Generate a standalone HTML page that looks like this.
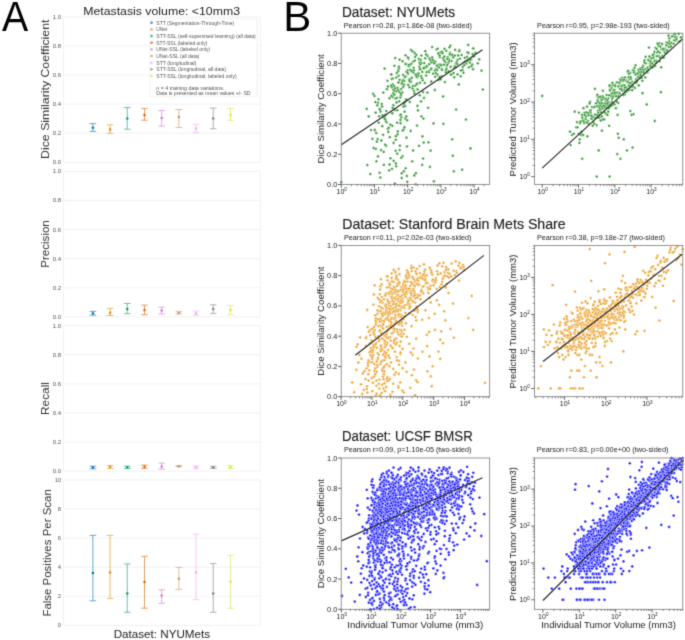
<!DOCTYPE html><html><head><meta charset="utf-8"><style>html,body{margin:0;padding:0;background:#fff}svg{display:block}</style></head><body><svg style="will-change:transform" width="685" height="640" viewBox="0 0 685 640" font-family="'Liberation Sans', sans-serif"><filter id="bl" filterUnits="userSpaceOnUse" x="0" y="0" width="685" height="640" color-interpolation-filters="sRGB"><feConvolveMatrix order="3" kernelMatrix="0.0192 0.1001 0.0192 0.1001 0.5228 0.1001 0.0192 0.1001 0.0192" edgeMode="duplicate"/></filter><g filter="url(#bl)"><rect width="685" height="640" fill="#fff"/><line x1="63.40" y1="162.25" x2="260.30" y2="162.25" stroke="#ebebeb" stroke-width="0.7"/><line x1="63.40" y1="133.15" x2="260.30" y2="133.15" stroke="#ebebeb" stroke-width="0.7"/><line x1="63.40" y1="104.05" x2="260.30" y2="104.05" stroke="#ebebeb" stroke-width="0.7"/><line x1="63.40" y1="74.95" x2="260.30" y2="74.95" stroke="#ebebeb" stroke-width="0.7"/><line x1="63.40" y1="45.85" x2="260.30" y2="45.85" stroke="#ebebeb" stroke-width="0.7"/><line x1="63.40" y1="16.75" x2="260.30" y2="16.75" stroke="#ebebeb" stroke-width="0.7"/><line x1="63.40" y1="16.75" x2="63.40" y2="162.25" stroke="#ebebeb" stroke-width="0.7"/><line x1="260.30" y1="16.75" x2="260.30" y2="162.25" stroke="#ebebeb" stroke-width="0.7"/><text x="61.1" y="164.2" font-size="5.6" fill="#555" text-anchor="end" textLength="8.4" lengthAdjust="spacingAndGlyphs">0.0</text><text x="61.1" y="135.2" font-size="5.6" fill="#555" text-anchor="end" textLength="8.4" lengthAdjust="spacingAndGlyphs">0.2</text><text x="61.1" y="106.0" font-size="5.6" fill="#555" text-anchor="end" textLength="8.4" lengthAdjust="spacingAndGlyphs">0.4</text><text x="61.1" y="77.0" font-size="5.6" fill="#555" text-anchor="end" textLength="8.4" lengthAdjust="spacingAndGlyphs">0.6</text><text x="61.1" y="47.8" font-size="5.6" fill="#555" text-anchor="end" textLength="8.4" lengthAdjust="spacingAndGlyphs">0.8</text><text x="61.1" y="18.8" font-size="5.6" fill="#555" text-anchor="end" textLength="8.4" lengthAdjust="spacingAndGlyphs">1.0</text><line x1="63.40" y1="316.80" x2="260.30" y2="316.80" stroke="#ebebeb" stroke-width="0.7"/><line x1="63.40" y1="287.70" x2="260.30" y2="287.70" stroke="#ebebeb" stroke-width="0.7"/><line x1="63.40" y1="258.60" x2="260.30" y2="258.60" stroke="#ebebeb" stroke-width="0.7"/><line x1="63.40" y1="229.50" x2="260.30" y2="229.50" stroke="#ebebeb" stroke-width="0.7"/><line x1="63.40" y1="200.40" x2="260.30" y2="200.40" stroke="#ebebeb" stroke-width="0.7"/><line x1="63.40" y1="171.30" x2="260.30" y2="171.30" stroke="#ebebeb" stroke-width="0.7"/><line x1="63.40" y1="171.30" x2="63.40" y2="316.80" stroke="#ebebeb" stroke-width="0.7"/><line x1="260.30" y1="171.30" x2="260.30" y2="316.80" stroke="#ebebeb" stroke-width="0.7"/><text x="61.1" y="318.8" font-size="5.6" fill="#555" text-anchor="end" textLength="8.4" lengthAdjust="spacingAndGlyphs">0.0</text><text x="61.1" y="289.7" font-size="5.6" fill="#555" text-anchor="end" textLength="8.4" lengthAdjust="spacingAndGlyphs">0.2</text><text x="61.1" y="260.6" font-size="5.6" fill="#555" text-anchor="end" textLength="8.4" lengthAdjust="spacingAndGlyphs">0.4</text><text x="61.1" y="231.5" font-size="5.6" fill="#555" text-anchor="end" textLength="8.4" lengthAdjust="spacingAndGlyphs">0.6</text><text x="61.1" y="202.4" font-size="5.6" fill="#555" text-anchor="end" textLength="8.4" lengthAdjust="spacingAndGlyphs">0.8</text><text x="61.1" y="173.3" font-size="5.6" fill="#555" text-anchor="end" textLength="8.4" lengthAdjust="spacingAndGlyphs">1.0</text><line x1="63.40" y1="471.10" x2="260.30" y2="471.10" stroke="#ebebeb" stroke-width="0.7"/><line x1="63.40" y1="442.00" x2="260.30" y2="442.00" stroke="#ebebeb" stroke-width="0.7"/><line x1="63.40" y1="412.90" x2="260.30" y2="412.90" stroke="#ebebeb" stroke-width="0.7"/><line x1="63.40" y1="383.80" x2="260.30" y2="383.80" stroke="#ebebeb" stroke-width="0.7"/><line x1="63.40" y1="354.70" x2="260.30" y2="354.70" stroke="#ebebeb" stroke-width="0.7"/><line x1="63.40" y1="325.60" x2="260.30" y2="325.60" stroke="#ebebeb" stroke-width="0.7"/><line x1="63.40" y1="325.60" x2="63.40" y2="471.10" stroke="#ebebeb" stroke-width="0.7"/><line x1="260.30" y1="325.60" x2="260.30" y2="471.10" stroke="#ebebeb" stroke-width="0.7"/><text x="61.1" y="473.1" font-size="5.6" fill="#555" text-anchor="end" textLength="8.4" lengthAdjust="spacingAndGlyphs">0.0</text><text x="61.1" y="444.0" font-size="5.6" fill="#555" text-anchor="end" textLength="8.4" lengthAdjust="spacingAndGlyphs">0.2</text><text x="61.1" y="414.9" font-size="5.6" fill="#555" text-anchor="end" textLength="8.4" lengthAdjust="spacingAndGlyphs">0.4</text><text x="61.1" y="385.8" font-size="5.6" fill="#555" text-anchor="end" textLength="8.4" lengthAdjust="spacingAndGlyphs">0.6</text><text x="61.1" y="356.7" font-size="5.6" fill="#555" text-anchor="end" textLength="8.4" lengthAdjust="spacingAndGlyphs">0.8</text><text x="61.1" y="327.6" font-size="5.6" fill="#555" text-anchor="end" textLength="8.4" lengthAdjust="spacingAndGlyphs">1.0</text><line x1="63.40" y1="625.40" x2="260.30" y2="625.40" stroke="#ebebeb" stroke-width="0.7"/><line x1="63.40" y1="596.30" x2="260.30" y2="596.30" stroke="#ebebeb" stroke-width="0.7"/><line x1="63.40" y1="567.20" x2="260.30" y2="567.20" stroke="#ebebeb" stroke-width="0.7"/><line x1="63.40" y1="538.10" x2="260.30" y2="538.10" stroke="#ebebeb" stroke-width="0.7"/><line x1="63.40" y1="509.00" x2="260.30" y2="509.00" stroke="#ebebeb" stroke-width="0.7"/><line x1="63.40" y1="479.90" x2="260.30" y2="479.90" stroke="#ebebeb" stroke-width="0.7"/><line x1="63.40" y1="479.90" x2="63.40" y2="625.40" stroke="#ebebeb" stroke-width="0.7"/><line x1="260.30" y1="479.90" x2="260.30" y2="625.40" stroke="#ebebeb" stroke-width="0.7"/><text x="61.1" y="627.4" font-size="5.6" fill="#555" text-anchor="end" textLength="3.3" lengthAdjust="spacingAndGlyphs">0</text><text x="61.1" y="598.3" font-size="5.6" fill="#555" text-anchor="end" textLength="3.3" lengthAdjust="spacingAndGlyphs">2</text><text x="61.1" y="569.2" font-size="5.6" fill="#555" text-anchor="end" textLength="3.3" lengthAdjust="spacingAndGlyphs">4</text><text x="61.1" y="540.1" font-size="5.6" fill="#555" text-anchor="end" textLength="3.3" lengthAdjust="spacingAndGlyphs">6</text><text x="61.1" y="511.0" font-size="5.6" fill="#555" text-anchor="end" textLength="3.3" lengthAdjust="spacingAndGlyphs">8</text><text x="61.1" y="481.9" font-size="5.6" fill="#555" text-anchor="end" textLength="6.2" lengthAdjust="spacingAndGlyphs">10</text><g stroke="#0173b2" stroke-width="0.9" opacity="0.68" fill="#0173b2"><line x1="92.90" y1="123.6" x2="92.90" y2="131.4"/><line x1="89.60" y1="123.6" x2="96.20" y2="123.6"/><line x1="89.60" y1="131.4" x2="96.20" y2="131.4"/></g><circle cx="92.90" cy="127.8" r="1.25" fill="#0173b2"/><g stroke="#de8f05" stroke-width="0.9" opacity="0.68" fill="#de8f05"><line x1="110.09" y1="124.8" x2="110.09" y2="133.4"/><line x1="106.79" y1="124.8" x2="113.39" y2="124.8"/><line x1="106.79" y1="133.4" x2="113.39" y2="133.4"/></g><circle cx="110.09" cy="129.4" r="1.25" fill="#de8f05"/><g stroke="#029e73" stroke-width="0.9" opacity="0.68" fill="#029e73"><line x1="127.28" y1="107.5" x2="127.28" y2="129.2"/><line x1="123.98" y1="107.5" x2="130.58" y2="107.5"/><line x1="123.98" y1="129.2" x2="130.58" y2="129.2"/></g><circle cx="127.28" cy="118.6" r="1.25" fill="#029e73"/><g stroke="#d55e00" stroke-width="0.9" opacity="0.68" fill="#d55e00"><line x1="144.47" y1="108.4" x2="144.47" y2="120.2"/><line x1="141.17" y1="108.4" x2="147.77" y2="108.4"/><line x1="141.17" y1="120.2" x2="147.77" y2="120.2"/></g><circle cx="144.47" cy="115" r="1.25" fill="#d55e00"/><g stroke="#cc78cc" stroke-width="0.9" opacity="0.68" fill="#cc78cc"><line x1="161.66" y1="110.5" x2="161.66" y2="126.1"/><line x1="158.36" y1="110.5" x2="164.96" y2="110.5"/><line x1="158.36" y1="126.1" x2="164.96" y2="126.1"/></g><circle cx="161.66" cy="118" r="1.25" fill="#cc78cc"/><g stroke="#ca9161" stroke-width="0.9" opacity="0.68" fill="#ca9161"><line x1="178.85" y1="109.5" x2="178.85" y2="127.5"/><line x1="175.55" y1="109.5" x2="182.15" y2="109.5"/><line x1="175.55" y1="127.5" x2="182.15" y2="127.5"/></g><circle cx="178.85" cy="117.1" r="1.25" fill="#ca9161"/><g stroke="#f5a6ee" stroke-width="0.9" opacity="0.68" fill="#f5a6ee"><line x1="196.04" y1="124.3" x2="196.04" y2="132.4"/><line x1="192.74" y1="124.3" x2="199.34" y2="124.3"/><line x1="192.74" y1="132.4" x2="199.34" y2="132.4"/></g><circle cx="196.04" cy="128.5" r="1.25" fill="#f5a6ee"/><g stroke="#808080" stroke-width="0.9" opacity="0.68" fill="#808080"><line x1="213.23" y1="108.1" x2="213.23" y2="128.8"/><line x1="209.93" y1="108.1" x2="216.53" y2="108.1"/><line x1="209.93" y1="128.8" x2="216.53" y2="128.8"/></g><circle cx="213.23" cy="118.6" r="1.25" fill="#808080"/><g stroke="#dae42a" stroke-width="0.9" opacity="0.68" fill="#dae42a"><line x1="230.42" y1="108.4" x2="230.42" y2="120.4"/><line x1="227.12" y1="108.4" x2="233.72" y2="108.4"/><line x1="227.12" y1="120.4" x2="233.72" y2="120.4"/></g><circle cx="230.42" cy="115.1" r="1.25" fill="#dae42a"/><g stroke="#0173b2" stroke-width="0.9" opacity="0.68" fill="#0173b2"><line x1="92.90" y1="311.4" x2="92.90" y2="315.2"/><line x1="89.60" y1="311.4" x2="96.20" y2="311.4"/><line x1="89.60" y1="315.2" x2="96.20" y2="315.2"/></g><circle cx="92.90" cy="313.4" r="1.25" fill="#0173b2"/><g stroke="#de8f05" stroke-width="0.9" opacity="0.68" fill="#de8f05"><line x1="110.09" y1="308.4" x2="110.09" y2="315.4"/><line x1="106.79" y1="308.4" x2="113.39" y2="308.4"/><line x1="106.79" y1="315.4" x2="113.39" y2="315.4"/></g><circle cx="110.09" cy="312.7" r="1.25" fill="#de8f05"/><g stroke="#029e73" stroke-width="0.9" opacity="0.68" fill="#029e73"><line x1="127.28" y1="303.5" x2="127.28" y2="313.7"/><line x1="123.98" y1="303.5" x2="130.58" y2="303.5"/><line x1="123.98" y1="313.7" x2="130.58" y2="313.7"/></g><circle cx="127.28" cy="309" r="1.25" fill="#029e73"/><g stroke="#d55e00" stroke-width="0.9" opacity="0.68" fill="#d55e00"><line x1="144.47" y1="305.1" x2="144.47" y2="314.7"/><line x1="141.17" y1="305.1" x2="147.77" y2="305.1"/><line x1="141.17" y1="314.7" x2="147.77" y2="314.7"/></g><circle cx="144.47" cy="310" r="1.25" fill="#d55e00"/><g stroke="#cc78cc" stroke-width="0.9" opacity="0.68" fill="#cc78cc"><line x1="161.66" y1="307.1" x2="161.66" y2="314"/><line x1="158.36" y1="307.1" x2="164.96" y2="307.1"/><line x1="158.36" y1="314" x2="164.96" y2="314"/></g><circle cx="161.66" cy="310.4" r="1.25" fill="#cc78cc"/><g stroke="#ca9161" stroke-width="0.9" opacity="0.68" fill="#ca9161"><line x1="178.85" y1="311.7" x2="178.85" y2="314"/><line x1="175.55" y1="311.7" x2="182.15" y2="311.7"/><line x1="175.55" y1="314" x2="182.15" y2="314"/></g><circle cx="178.85" cy="312.7" r="1.25" fill="#ca9161"/><g stroke="#f5a6ee" stroke-width="0.9" opacity="0.68" fill="#f5a6ee"><line x1="196.04" y1="311" x2="196.04" y2="315.2"/><line x1="192.74" y1="311" x2="199.34" y2="311"/><line x1="192.74" y1="315.2" x2="199.34" y2="315.2"/></g><circle cx="196.04" cy="313.4" r="1.25" fill="#f5a6ee"/><g stroke="#808080" stroke-width="0.9" opacity="0.68" fill="#808080"><line x1="213.23" y1="304.8" x2="213.23" y2="313.4"/><line x1="209.93" y1="304.8" x2="216.53" y2="304.8"/><line x1="209.93" y1="313.4" x2="216.53" y2="313.4"/></g><circle cx="213.23" cy="309" r="1.25" fill="#808080"/><g stroke="#dae42a" stroke-width="0.9" opacity="0.68" fill="#dae42a"><line x1="230.42" y1="305.5" x2="230.42" y2="314.7"/><line x1="227.12" y1="305.5" x2="233.72" y2="305.5"/><line x1="227.12" y1="314.7" x2="233.72" y2="314.7"/></g><circle cx="230.42" cy="310" r="1.25" fill="#dae42a"/><g stroke="#0173b2" stroke-width="0.9" opacity="0.68" fill="#0173b2"><line x1="92.90" y1="466.2" x2="92.90" y2="468.8"/><line x1="89.60" y1="466.2" x2="96.20" y2="466.2"/><line x1="89.60" y1="468.8" x2="96.20" y2="468.8"/></g><circle cx="92.90" cy="467.5" r="1.25" fill="#0173b2"/><g stroke="#de8f05" stroke-width="0.9" opacity="0.68" fill="#de8f05"><line x1="110.09" y1="465.5" x2="110.09" y2="468.4"/><line x1="106.79" y1="465.5" x2="113.39" y2="465.5"/><line x1="106.79" y1="468.4" x2="113.39" y2="468.4"/></g><circle cx="110.09" cy="467" r="1.25" fill="#de8f05"/><g stroke="#029e73" stroke-width="0.9" opacity="0.68" fill="#029e73"><line x1="127.28" y1="466.2" x2="127.28" y2="468.4"/><line x1="123.98" y1="466.2" x2="130.58" y2="466.2"/><line x1="123.98" y1="468.4" x2="130.58" y2="468.4"/></g><circle cx="127.28" cy="467.3" r="1.25" fill="#029e73"/><g stroke="#d55e00" stroke-width="0.9" opacity="0.68" fill="#d55e00"><line x1="144.47" y1="465.1" x2="144.47" y2="468.4"/><line x1="141.17" y1="465.1" x2="147.77" y2="465.1"/><line x1="141.17" y1="468.4" x2="147.77" y2="468.4"/></g><circle cx="144.47" cy="466.8" r="1.25" fill="#d55e00"/><g stroke="#cc78cc" stroke-width="0.9" opacity="0.68" fill="#cc78cc"><line x1="161.66" y1="463.1" x2="161.66" y2="469.1"/><line x1="158.36" y1="463.1" x2="164.96" y2="463.1"/><line x1="158.36" y1="469.1" x2="164.96" y2="469.1"/></g><circle cx="161.66" cy="466.5" r="1.25" fill="#cc78cc"/><g stroke="#ca9161" stroke-width="0.9" opacity="0.68" fill="#ca9161"><line x1="178.85" y1="465.5" x2="178.85" y2="466.8"/><line x1="175.55" y1="465.5" x2="182.15" y2="465.5"/><line x1="175.55" y1="466.8" x2="182.15" y2="466.8"/></g><circle cx="178.85" cy="466.2" r="1.25" fill="#ca9161"/><g stroke="#f5a6ee" stroke-width="0.9" opacity="0.68" fill="#f5a6ee"><line x1="196.04" y1="466" x2="196.04" y2="468.7"/><line x1="192.74" y1="466" x2="199.34" y2="466"/><line x1="192.74" y1="468.7" x2="199.34" y2="468.7"/></g><circle cx="196.04" cy="467.3" r="1.25" fill="#f5a6ee"/><g stroke="#808080" stroke-width="0.9" opacity="0.68" fill="#808080"><line x1="213.23" y1="466.3" x2="213.23" y2="468.4"/><line x1="209.93" y1="466.3" x2="216.53" y2="466.3"/><line x1="209.93" y1="468.4" x2="216.53" y2="468.4"/></g><circle cx="213.23" cy="467.3" r="1.25" fill="#808080"/><g stroke="#dae42a" stroke-width="0.9" opacity="0.68" fill="#dae42a"><line x1="230.42" y1="465.5" x2="230.42" y2="468.7"/><line x1="227.12" y1="465.5" x2="233.72" y2="465.5"/><line x1="227.12" y1="468.7" x2="233.72" y2="468.7"/></g><circle cx="230.42" cy="467.1" r="1.25" fill="#dae42a"/><g stroke="#0173b2" stroke-width="0.9" opacity="0.68" fill="#0173b2"><line x1="92.90" y1="535.4" x2="92.90" y2="600.8"/><line x1="89.60" y1="535.4" x2="96.20" y2="535.4"/><line x1="89.60" y1="600.8" x2="96.20" y2="600.8"/></g><circle cx="92.90" cy="573" r="1.25" fill="#0173b2"/><g stroke="#de8f05" stroke-width="0.9" opacity="0.68" fill="#de8f05"><line x1="110.09" y1="535.4" x2="110.09" y2="598.4"/><line x1="106.79" y1="535.4" x2="113.39" y2="535.4"/><line x1="106.79" y1="598.4" x2="113.39" y2="598.4"/></g><circle cx="110.09" cy="572.6" r="1.25" fill="#de8f05"/><g stroke="#029e73" stroke-width="0.9" opacity="0.68" fill="#029e73"><line x1="127.28" y1="564" x2="127.28" y2="612.3"/><line x1="123.98" y1="564" x2="130.58" y2="564"/><line x1="123.98" y1="612.3" x2="130.58" y2="612.3"/></g><circle cx="127.28" cy="593.5" r="1.25" fill="#029e73"/><g stroke="#d55e00" stroke-width="0.9" opacity="0.68" fill="#d55e00"><line x1="144.47" y1="556.3" x2="144.47" y2="608.2"/><line x1="141.17" y1="556.3" x2="147.77" y2="556.3"/><line x1="141.17" y1="608.2" x2="147.77" y2="608.2"/></g><circle cx="144.47" cy="582" r="1.25" fill="#d55e00"/><g stroke="#cc78cc" stroke-width="0.9" opacity="0.68" fill="#cc78cc"><line x1="161.66" y1="589.8" x2="161.66" y2="603.3"/><line x1="158.36" y1="589.8" x2="164.96" y2="589.8"/><line x1="158.36" y1="603.3" x2="164.96" y2="603.3"/></g><circle cx="161.66" cy="595.5" r="1.25" fill="#cc78cc"/><g stroke="#ca9161" stroke-width="0.9" opacity="0.68" fill="#ca9161"><line x1="178.85" y1="567.3" x2="178.85" y2="589.4"/><line x1="175.55" y1="567.3" x2="182.15" y2="567.3"/><line x1="175.55" y1="589.4" x2="182.15" y2="589.4"/></g><circle cx="178.85" cy="578.7" r="1.25" fill="#ca9161"/><g stroke="#f5a6ee" stroke-width="0.9" opacity="0.68" fill="#f5a6ee"><line x1="196.04" y1="534.2" x2="196.04" y2="599.6"/><line x1="192.74" y1="534.2" x2="199.34" y2="534.2"/><line x1="192.74" y1="599.6" x2="199.34" y2="599.6"/></g><circle cx="196.04" cy="572.6" r="1.25" fill="#f5a6ee"/><g stroke="#808080" stroke-width="0.9" opacity="0.68" fill="#808080"><line x1="213.23" y1="563.6" x2="213.23" y2="612.3"/><line x1="209.93" y1="563.6" x2="216.53" y2="563.6"/><line x1="209.93" y1="612.3" x2="216.53" y2="612.3"/></g><circle cx="213.23" cy="593.5" r="1.25" fill="#808080"/><g stroke="#dae42a" stroke-width="0.9" opacity="0.68" fill="#dae42a"><line x1="230.42" y1="555.4" x2="230.42" y2="608.2"/><line x1="227.12" y1="555.4" x2="233.72" y2="555.4"/><line x1="227.12" y1="608.2" x2="233.72" y2="608.2"/></g><circle cx="230.42" cy="581.6" r="1.25" fill="#dae42a"/><rect x="149.8" y="18.8" width="107.4" height="78" rx="1.5" fill="#fff" fill-opacity="0.85" stroke="#e6e6e6" stroke-width="0.6"/><circle cx="151.6" cy="22.75" r="1.2" fill="#0173b2" opacity="0.8"/><text x="156.3" y="24.6" font-size="5.2" fill="#555" textLength="77.9" lengthAdjust="spacingAndGlyphs">STT (Segmentation-Through-Time)</text><circle cx="151.6" cy="29.41" r="1.2" fill="#de8f05" opacity="0.8"/><text x="156.3" y="31.3" font-size="5.2" fill="#555" textLength="11.1" lengthAdjust="spacingAndGlyphs">UNet</text><circle cx="151.6" cy="36.07" r="1.2" fill="#029e73" opacity="0.8"/><text x="156.3" y="38.0" font-size="5.2" fill="#555" textLength="99.4" lengthAdjust="spacingAndGlyphs">STT-SSL (self-supervised learning) (all data)</text><circle cx="151.6" cy="42.73" r="1.2" fill="#d55e00" opacity="0.8"/><text x="156.3" y="44.6" font-size="5.2" fill="#555" textLength="51.0" lengthAdjust="spacingAndGlyphs">STT-SSL (labeled only)</text><circle cx="151.6" cy="49.39" r="1.2" fill="#cc78cc" opacity="0.8"/><text x="156.3" y="51.3" font-size="5.2" fill="#555" textLength="53.8" lengthAdjust="spacingAndGlyphs">UNet-SSL (labeled only)</text><circle cx="151.6" cy="56.05" r="1.2" fill="#ca9161" opacity="0.8"/><text x="156.3" y="57.9" font-size="5.2" fill="#555" textLength="43.2" lengthAdjust="spacingAndGlyphs">UNet-SSL (all data)</text><circle cx="151.6" cy="62.71" r="1.2" fill="#f5a6ee" opacity="0.8"/><text x="156.3" y="64.6" font-size="5.2" fill="#555" textLength="40.1" lengthAdjust="spacingAndGlyphs">STT (longitudinal)</text><circle cx="151.6" cy="69.37" r="1.2" fill="#808080" opacity="0.8"/><text x="156.3" y="71.3" font-size="5.2" fill="#555" textLength="69.8" lengthAdjust="spacingAndGlyphs">STT-SSL (longitudinal, all data)</text><circle cx="151.6" cy="76.03" r="1.2" fill="#dae42a" opacity="0.8"/><text x="156.3" y="77.9" font-size="5.2" fill="#555" textLength="80.4" lengthAdjust="spacingAndGlyphs">STT-SSL (longitudinal, labeled only)</text><text x="156.3" y="89.8" font-size="5.2" fill="#555" textLength="68.1" lengthAdjust="spacingAndGlyphs">n = 4 training data variations.</text><text x="156.3" y="95.2" font-size="5.2" fill="#555" textLength="94.3" lengthAdjust="spacingAndGlyphs">Data is presented as mean values +/- SD</text><text x="1.9" y="30.9" font-size="42" fill="#000" textLength="26.2" lengthAdjust="spacingAndGlyphs">A</text><text x="83.2" y="14.6" font-size="11.2" fill="#222" textLength="156.8" lengthAdjust="spacingAndGlyphs">Metastasis volume: &lt;10mm3</text><text x="113.7" y="637.8" font-size="11" fill="#222" textLength="96.4" lengthAdjust="spacingAndGlyphs">Dataset: NYUMets</text><text x="48.8" y="158.9" font-size="10.8" fill="#333" textLength="139.3" lengthAdjust="spacingAndGlyphs" transform="rotate(-90 48.8 158.9)">Dice Similarity Coefficient</text><text x="48.8" y="267.7" font-size="10.8" fill="#333" textLength="47.5" lengthAdjust="spacingAndGlyphs" transform="rotate(-90 48.8 267.7)">Precision</text><text x="49.0" y="414.9" font-size="10.8" fill="#333" textLength="32.8" lengthAdjust="spacingAndGlyphs" transform="rotate(-90 49.0 414.9)">Recall</text><text x="50.7" y="616.6" font-size="10.8" fill="#333" textLength="127.4" lengthAdjust="spacingAndGlyphs" transform="rotate(-90 50.7 616.6)">False Positives Per Scan</text><text x="283.2" y="30.9" font-size="42" fill="#000">B</text><defs><circle id="d" r="1.38" stroke="#fff" stroke-width="0.45"/></defs><text x="342.0" y="16.5" font-size="14" fill="#222" textLength="113.2" lengthAdjust="spacingAndGlyphs" stroke="#222" stroke-width="0.15">Dataset: NYUMets</text><text x="343.8" y="28.1" font-size="7.4" fill="#222" textLength="128.2" lengthAdjust="spacingAndGlyphs">Pearson r=0.28, p=1.86e-08 (two-sided)</text><text x="537.1" y="28.1" font-size="7.4" fill="#222" textLength="132.6" lengthAdjust="spacingAndGlyphs">Pearson r=0.95, p=2.98e-193 (two-sided)</text><g fill="#2e962e"><use href="#d" x="396.5" y="91.3"/><use href="#d" x="411.7" y="70.7"/><use href="#d" x="431.4" y="68.4"/><use href="#d" x="393.3" y="89.7"/><use href="#d" x="382.6" y="115.3"/><use href="#d" x="403.0" y="80.0"/><use href="#d" x="399.6" y="79.9"/><use href="#d" x="403.7" y="129.2"/><use href="#d" x="380.6" y="111.6"/><use href="#d" x="378.6" y="99.3"/><use href="#d" x="406.3" y="116.4"/><use href="#d" x="454.2" y="68.0"/><use href="#d" x="418.8" y="59.0"/><use href="#d" x="386.7" y="122.4"/><use href="#d" x="472.7" y="54.2"/><use href="#d" x="408.5" y="58.8"/><use href="#d" x="473.3" y="48.5"/><use href="#d" x="464.2" y="62.3"/><use href="#d" x="468.9" y="67.3"/><use href="#d" x="398.7" y="68.3"/><use href="#d" x="408.7" y="66.4"/><use href="#d" x="400.2" y="97.6"/><use href="#d" x="422.7" y="80.2"/><use href="#d" x="423.4" y="118.6"/><use href="#d" x="405.4" y="118.6"/><use href="#d" x="404.3" y="80.9"/><use href="#d" x="435.5" y="62.0"/><use href="#d" x="404.6" y="111.7"/><use href="#d" x="411.0" y="49.9"/><use href="#d" x="467.3" y="52.4"/><use href="#d" x="382.3" y="126.2"/><use href="#d" x="395.2" y="58.1"/><use href="#d" x="410.2" y="69.8"/><use href="#d" x="457.5" y="60.0"/><use href="#d" x="424.2" y="67.3"/><use href="#d" x="469.8" y="62.6"/><use href="#d" x="417.7" y="76.9"/><use href="#d" x="407.2" y="120.3"/><use href="#d" x="392.7" y="84.3"/><use href="#d" x="391.1" y="74.7"/><use href="#d" x="421.2" y="76.2"/><use href="#d" x="387.0" y="89.2"/><use href="#d" x="391.7" y="112.8"/><use href="#d" x="401.4" y="117.2"/><use href="#d" x="447.8" y="57.1"/><use href="#d" x="406.5" y="137.7"/><use href="#d" x="426.1" y="75.6"/><use href="#d" x="446.7" y="65.8"/><use href="#d" x="403.8" y="171.3"/><use href="#d" x="418.0" y="110.4"/><use href="#d" x="444.9" y="82.1"/><use href="#d" x="427.6" y="56.0"/><use href="#d" x="455.1" y="49.9"/><use href="#d" x="394.6" y="94.2"/><use href="#d" x="462.7" y="67.0"/><use href="#d" x="445.7" y="70.3"/><use href="#d" x="377.9" y="102.8"/><use href="#d" x="459.6" y="50.1"/><use href="#d" x="415.4" y="75.0"/><use href="#d" x="414.0" y="90.8"/><use href="#d" x="438.6" y="79.9"/><use href="#d" x="402.6" y="156.1"/><use href="#d" x="392.9" y="78.5"/><use href="#d" x="405.8" y="76.4"/><use href="#d" x="394.2" y="86.2"/><use href="#d" x="410.7" y="131.0"/><use href="#d" x="421.7" y="63.1"/><use href="#d" x="450.4" y="45.7"/><use href="#d" x="397.6" y="134.4"/><use href="#d" x="432.2" y="57.4"/><use href="#d" x="448.6" y="71.3"/><use href="#d" x="451.2" y="55.2"/><use href="#d" x="413.1" y="150.5"/><use href="#d" x="437.4" y="74.7"/><use href="#d" x="426.1" y="54.5"/><use href="#d" x="427.1" y="66.6"/><use href="#d" x="429.3" y="64.2"/><use href="#d" x="392.4" y="113.3"/><use href="#d" x="439.8" y="57.0"/><use href="#d" x="374.8" y="130.0"/><use href="#d" x="453.8" y="171.3"/><use href="#d" x="393.4" y="105.2"/><use href="#d" x="423.1" y="158.6"/><use href="#d" x="404.7" y="102.0"/><use href="#d" x="401.8" y="84.1"/><use href="#d" x="400.4" y="120.0"/><use href="#d" x="429.9" y="166.9"/><use href="#d" x="404.1" y="84.9"/><use href="#d" x="397.1" y="122.7"/><use href="#d" x="398.9" y="68.7"/><use href="#d" x="425.3" y="51.2"/><use href="#d" x="457.5" y="74.4"/><use href="#d" x="393.7" y="160.8"/><use href="#d" x="436.1" y="68.8"/><use href="#d" x="436.6" y="49.6"/><use href="#d" x="443.1" y="96.5"/><use href="#d" x="386.2" y="145.9"/><use href="#d" x="367.3" y="165.1"/><use href="#d" x="392.0" y="168.8"/><use href="#d" x="439.5" y="55.4"/><use href="#d" x="424.3" y="63.1"/><use href="#d" x="429.6" y="58.5"/><use href="#d" x="416.3" y="54.9"/><use href="#d" x="405.2" y="63.9"/><use href="#d" x="441.7" y="69.0"/><use href="#d" x="430.9" y="69.3"/><use href="#d" x="464.8" y="57.8"/><use href="#d" x="440.7" y="79.3"/><use href="#d" x="410.5" y="80.5"/><use href="#d" x="443.9" y="64.7"/><use href="#d" x="399.0" y="66.7"/><use href="#d" x="432.8" y="60.7"/><use href="#d" x="415.1" y="57.0"/><use href="#d" x="395.4" y="98.6"/><use href="#d" x="455.6" y="67.5"/><use href="#d" x="412.5" y="88.4"/><use href="#d" x="380.0" y="108.7"/><use href="#d" x="419.4" y="62.6"/><use href="#d" x="441.3" y="76.4"/><use href="#d" x="392.9" y="97.1"/><use href="#d" x="401.0" y="95.5"/><use href="#d" x="426.7" y="72.2"/><use href="#d" x="446.5" y="68.8"/><use href="#d" x="450.1" y="53.0"/><use href="#d" x="434.8" y="90.0"/><use href="#d" x="418.3" y="73.2"/><use href="#d" x="392.2" y="125.9"/><use href="#d" x="368.7" y="116.5"/><use href="#d" x="428.5" y="142.3"/><use href="#d" x="454.9" y="55.7"/><use href="#d" x="414.3" y="175.5"/><use href="#d" x="400.5" y="123.2"/><use href="#d" x="414.4" y="93.4"/><use href="#d" x="413.3" y="61.6"/><use href="#d" x="372.4" y="138.8"/><use href="#d" x="397.6" y="88.0"/><use href="#d" x="420.6" y="60.0"/><use href="#d" x="448.4" y="62.8"/><use href="#d" x="406.0" y="64.1"/><use href="#d" x="394.3" y="90.5"/><use href="#d" x="418.5" y="73.7"/><use href="#d" x="374.5" y="96.0"/><use href="#d" x="376.2" y="133.0"/><use href="#d" x="443.0" y="58.2"/><use href="#d" x="413.7" y="67.9"/><use href="#d" x="409.7" y="101.9"/><use href="#d" x="471.2" y="59.4"/><use href="#d" x="403.5" y="103.1"/><use href="#d" x="398.1" y="71.2"/><use href="#d" x="396.9" y="98.0"/><use href="#d" x="421.9" y="78.3"/><use href="#d" x="384.4" y="117.5"/><use href="#d" x="406.9" y="176.0"/><use href="#d" x="473.1" y="69.2"/><use href="#d" x="400.1" y="115.3"/><use href="#d" x="407.5" y="70.3"/><use href="#d" x="399.7" y="150.1"/><use href="#d" x="377.7" y="139.1"/><use href="#d" x="404.1" y="104.0"/><use href="#d" x="414.8" y="60.7"/><use href="#d" x="435.9" y="73.2"/><use href="#d" x="408.1" y="73.8"/><use href="#d" x="421.0" y="101.5"/><use href="#d" x="438.1" y="65.0"/><use href="#d" x="383.7" y="151.9"/><use href="#d" x="412.9" y="86.1"/><use href="#d" x="391.3" y="74.3"/><use href="#d" x="430.2" y="60.1"/><use href="#d" x="421.4" y="116.3"/><use href="#d" x="406.4" y="71.8"/><use href="#d" x="433.5" y="123.4"/><use href="#d" x="391.7" y="87.2"/><use href="#d" x="408.2" y="84.9"/><use href="#d" x="385.8" y="121.1"/><use href="#d" x="401.1" y="89.1"/><use href="#d" x="407.3" y="181.9"/><use href="#d" x="402.8" y="130.6"/><use href="#d" x="388.3" y="132.0"/><use href="#d" x="422.5" y="136.4"/><use href="#d" x="407.9" y="57.4"/><use href="#d" x="401.7" y="173.3"/><use href="#d" x="448.1" y="58.7"/><use href="#d" x="452.8" y="155.7"/><use href="#d" x="412.4" y="51.4"/><use href="#d" x="392.5" y="107.8"/><use href="#d" x="378.0" y="156.4"/><use href="#d" x="406.7" y="100.1"/><use href="#d" x="436.9" y="65.7"/><use href="#d" x="466.0" y="119.6"/><use href="#d" x="366.7" y="108.9"/><use href="#d" x="440.3" y="52.3"/><use href="#d" x="420.0" y="82.8"/><use href="#d" x="472.2" y="64.5"/><use href="#d" x="444.3" y="56.7"/><use href="#d" x="375.8" y="148.9"/><use href="#d" x="411.9" y="77.8"/><use href="#d" x="387.7" y="128.9"/><use href="#d" x="423.7" y="142.6"/><use href="#d" x="381.0" y="150.1"/><use href="#d" x="397.2" y="153.7"/><use href="#d" x="395.1" y="88.3"/><use href="#d" x="413.3" y="72.5"/><use href="#d" x="466.2" y="63.7"/><use href="#d" x="417.1" y="83.4"/><use href="#d" x="415.3" y="85.6"/><use href="#d" x="477.8" y="63.3"/><use href="#d" x="440.1" y="64.4"/><use href="#d" x="404.4" y="127.2"/><use href="#d" x="389.5" y="98.2"/><use href="#d" x="438.2" y="53.5"/><use href="#d" x="434.9" y="70.6"/><use href="#d" x="471.6" y="66.2"/><use href="#d" x="443.4" y="123.8"/><use href="#d" x="454.2" y="77.3"/><use href="#d" x="463.5" y="72.8"/><use href="#d" x="404.8" y="77.0"/><use href="#d" x="390.5" y="158.3"/><use href="#d" x="422.3" y="71.9"/><use href="#d" x="435.2" y="76.8"/><use href="#d" x="394.1" y="109.2"/><use href="#d" x="452.2" y="139.4"/><use href="#d" x="468.2" y="45.0"/><use href="#d" x="415.9" y="173.2"/><use href="#d" x="446.3" y="50.8"/><use href="#d" x="467.0" y="56.9"/><use href="#d" x="417.4" y="105.9"/><use href="#d" x="410.9" y="81.9"/><use href="#d" x="391.9" y="79.0"/><use href="#d" x="419.3" y="66.9"/><use href="#d" x="409.0" y="79.7"/><use href="#d" x="410.1" y="79.1"/><use href="#d" x="461.6" y="55.1"/><use href="#d" x="445.4" y="62.1"/><use href="#d" x="402.4" y="81.3"/><use href="#d" x="402.5" y="61.2"/><use href="#d" x="370.3" y="174.1"/><use href="#d" x="399.5" y="59.7"/><use href="#d" x="428.7" y="71.1"/><use href="#d" x="454.8" y="66.5"/><use href="#d" x="456.8" y="61.8"/><use href="#d" x="383.1" y="134.8"/><use href="#d" x="470.1" y="59.8"/><use href="#d" x="385.0" y="119.2"/><use href="#d" x="421.4" y="55.6"/><use href="#d" x="398.4" y="82.3"/><use href="#d" x="395.9" y="136.2"/><use href="#d" x="394.9" y="110.0"/><use href="#d" x="397.3" y="110.3"/><use href="#d" x="449.0" y="59.3"/><use href="#d" x="399.9" y="145.7"/><use href="#d" x="437.1" y="70.0"/><use href="#d" x="456.1" y="109.6"/><use href="#d" x="396.6" y="102.5"/><use href="#d" x="409.4" y="81.0"/><use href="#d" x="401.7" y="178.0"/><use href="#d" x="414.7" y="53.0"/><use href="#d" x="381.7" y="104.0"/><use href="#d" x="402.0" y="83.2"/><use href="#d" x="470.5" y="148.5"/><use href="#d" x="373.1" y="94.0"/><use href="#d" x="379.7" y="109.4"/><use href="#d" x="399.4" y="92.0"/><use href="#d" x="418.1" y="75.5"/><use href="#d" x="425.8" y="67.6"/><use href="#d" x="447.3" y="64.8"/><use href="#d" x="449.8" y="54.2"/><use href="#d" x="409.5" y="87.2"/><use href="#d" x="409.9" y="65.3"/><use href="#d" x="395.8" y="139.8"/><use href="#d" x="383.3" y="92.6"/><use href="#d" x="402.3" y="92.5"/><use href="#d" x="424.8" y="83.1"/><use href="#d" x="423.0" y="92.0"/><use href="#d" x="479.2" y="59.3"/><use href="#d" x="420.3" y="64.2"/><use href="#d" x="433.1" y="73.7"/><use href="#d" x="411.3" y="63.8"/><use href="#d" x="379.1" y="116.3"/><use href="#d" x="468.5" y="53.0"/><use href="#d" x="394.8" y="183.6"/><use href="#d" x="442.0" y="69.9"/><use href="#d" x="416.8" y="84.2"/><use href="#d" x="427.4" y="92.7"/><use href="#d" x="434.3" y="61.4"/><use href="#d" x="371.0" y="130.1"/><use href="#d" x="416.5" y="77.1"/><use href="#d" x="417.0" y="125.6"/><use href="#d" x="396.2" y="166.3"/><use href="#d" x="462.6" y="70.2"/><use href="#d" x="407.0" y="146.5"/><use href="#d" x="377.3" y="105.4"/><use href="#d" x="424.0" y="98.0"/><use href="#d" x="419.0" y="145.9"/><use href="#d" x="458.2" y="55.5"/><use href="#d" x="431.6" y="62.3"/><use href="#d" x="461.0" y="70.5"/><use href="#d" x="429.0" y="72.1"/><use href="#d" x="482.8" y="89.6"/><use href="#d" x="420.5" y="69.0"/><use href="#d" x="432.6" y="59.7"/><use href="#d" x="412.2" y="161.4"/><use href="#d" x="467.7" y="61.0"/><use href="#d" x="376.4" y="161.3"/><use href="#d" x="441.2" y="65.2"/><use href="#d" x="425.2" y="58.3"/><use href="#d" x="432.1" y="47.1"/><use href="#d" x="385.1" y="144.7"/><use href="#d" x="398.0" y="90.0"/><use href="#d" x="417.6" y="89.4"/><use href="#d" x="384.6" y="68.6"/><use href="#d" x="405.6" y="168.3"/><use href="#d" x="405.1" y="106.2"/><use href="#d" x="426.7" y="66.1"/><use href="#d" x="411.6" y="71.2"/><use href="#d" x="475.5" y="52.9"/><use href="#d" x="460.7" y="76.3"/><use href="#d" x="379.6" y="172.8"/><use href="#d" x="406.1" y="99.4"/><use href="#d" x="373.6" y="148.0"/><use href="#d" x="449.4" y="47.3"/><use href="#d" x="393.2" y="93.2"/><use href="#d" x="473.8" y="56.5"/><use href="#d" x="388.0" y="86.5"/><use href="#d" x="450.7" y="66.9"/><use href="#d" x="423.7" y="68.3"/><use href="#d" x="395.9" y="163.5"/><use href="#d" x="393.6" y="143.0"/><use href="#d" x="453.1" y="57.5"/><use href="#d" x="400.8" y="114.6"/><use href="#d" x="455.7" y="63.6"/><use href="#d" x="439.0" y="67.4"/><use href="#d" x="458.8" y="84.5"/><use href="#d" x="382.1" y="106.5"/><use href="#d" x="387.5" y="80.8"/><use href="#d" x="431.2" y="81.5"/><use href="#d" x="391.2" y="85.6"/><use href="#d" x="433.9" y="181.4"/><use href="#d" x="422.2" y="164.9"/><use href="#d" x="390.4" y="124.7"/><use href="#d" x="405.5" y="55.3"/><use href="#d" x="408.8" y="64.8"/><use href="#d" x="442.2" y="51.7"/><use href="#d" x="460.0" y="58.8"/><use href="#d" x="389.6" y="164.5"/><use href="#d" x="385.5" y="114.9"/><use href="#d" x="451.5" y="61.1"/><use href="#d" x="407.5" y="72.7"/><use href="#d" x="394.4" y="65.8"/><use href="#d" x="449.1" y="61.1"/><use href="#d" x="444.6" y="48.8"/><use href="#d" x="442.4" y="53.2"/><use href="#d" x="396.3" y="77.6"/><use href="#d" x="456.4" y="63.1"/><use href="#d" x="444.0" y="60.5"/><use href="#d" x="375.4" y="102.1"/><use href="#d" x="376.8" y="141.7"/><use href="#d" x="446.0" y="72.3"/><use href="#d" x="430.6" y="150.6"/><use href="#d" x="462.1" y="169.7"/><use href="#d" x="378.7" y="122.7"/><use href="#d" x="398.6" y="75.8"/><use href="#d" x="434.1" y="63.5"/><use href="#d" x="401.2" y="157.8"/><use href="#d" x="413.9" y="70.4"/><use href="#d" x="457.2" y="64.0"/><use href="#d" x="464.1" y="65.2"/><use href="#d" x="398.3" y="82.6"/><use href="#d" x="381.4" y="140.5"/><use href="#d" x="399.2" y="101.3"/><use href="#d" x="396.8" y="73.1"/><use href="#d" x="419.7" y="95.3"/><use href="#d" x="451.9" y="74.2"/><use href="#d" x="391.4" y="96.0"/><use href="#d" x="403.4" y="106.6"/><use href="#d" x="419.8" y="69.3"/><use href="#d" x="452.4" y="54.9"/><use href="#d" x="453.6" y="72.9"/><use href="#d" x="389.1" y="170.4"/><use href="#d" x="415.8" y="184.3"/><use href="#d" x="439.4" y="77.2"/><use href="#d" x="481.5" y="70.6"/><use href="#d" x="375.7" y="112.7"/><use href="#d" x="397.8" y="131.4"/><use href="#d" x="403.1" y="74.9"/><use href="#d" x="428.1" y="107.8"/><use href="#d" x="388.8" y="127.8"/><use href="#d" x="393.9" y="94.9"/><use href="#d" x="465.1" y="61.7"/><use href="#d" x="416.1" y="74.5"/><use href="#d" x="437.7" y="48.7"/><use href="#d" x="383.9" y="164.9"/><use href="#d" x="395.6" y="150.8"/><use href="#d" x="403.2" y="87.0"/><use href="#d" x="447.1" y="58.9"/><use href="#d" x="386.3" y="111.1"/><use href="#d" x="450.9" y="74.7"/><use href="#d" x="400.9" y="93.8"/><use href="#d" x="380.3" y="177.6"/><use href="#d" x="459.1" y="51.2"/><use href="#d" x="389.8" y="137.2"/><use href="#d" x="341.3" y="182.2"/></g><line x1="341.30" y1="144.70" x2="482.50" y2="49.80" stroke="#2a2a2a" stroke-width="1.2"/><rect x="341.2" y="33.2" width="148.5" height="151.3" fill="none" stroke="#7a7a7a" stroke-width="0.8"/><line x1="338.00" y1="184.50" x2="341.20" y2="184.50" stroke="#333" stroke-width="0.75"/><text x="337.3" y="187.0" font-size="7" fill="#222" text-anchor="end" textLength="10.2" lengthAdjust="spacingAndGlyphs">0.0</text><line x1="338.00" y1="154.24" x2="341.20" y2="154.24" stroke="#333" stroke-width="0.75"/><text x="337.3" y="156.7" font-size="7" fill="#222" text-anchor="end" textLength="10.2" lengthAdjust="spacingAndGlyphs">0.2</text><line x1="338.00" y1="123.98" x2="341.20" y2="123.98" stroke="#333" stroke-width="0.75"/><text x="337.3" y="126.5" font-size="7" fill="#222" text-anchor="end" textLength="10.2" lengthAdjust="spacingAndGlyphs">0.4</text><line x1="338.00" y1="93.72" x2="341.20" y2="93.72" stroke="#333" stroke-width="0.75"/><text x="337.3" y="96.2" font-size="7" fill="#222" text-anchor="end" textLength="10.2" lengthAdjust="spacingAndGlyphs">0.6</text><line x1="338.00" y1="63.46" x2="341.20" y2="63.46" stroke="#333" stroke-width="0.75"/><text x="337.3" y="66.0" font-size="7" fill="#222" text-anchor="end" textLength="10.2" lengthAdjust="spacingAndGlyphs">0.8</text><line x1="338.00" y1="33.20" x2="341.20" y2="33.20" stroke="#333" stroke-width="0.75"/><text x="337.3" y="35.7" font-size="7" fill="#222" text-anchor="end" textLength="10.2" lengthAdjust="spacingAndGlyphs">1.0</text><line x1="341.30" y1="184.50" x2="341.30" y2="187.70" stroke="#333" stroke-width="0.75"/><text x="341.7" y="194.0" font-size="7.0" fill="#222" text-anchor="middle">10<tspan font-size="4.6" dy="-2.6">0</tspan></text><line x1="351.29" y1="184.50" x2="351.29" y2="186.30" stroke="#333" stroke-width="0.55"/><line x1="357.14" y1="184.50" x2="357.14" y2="186.30" stroke="#333" stroke-width="0.55"/><line x1="361.29" y1="184.50" x2="361.29" y2="186.30" stroke="#333" stroke-width="0.55"/><line x1="364.51" y1="184.50" x2="364.51" y2="186.30" stroke="#333" stroke-width="0.55"/><line x1="367.13" y1="184.50" x2="367.13" y2="186.30" stroke="#333" stroke-width="0.55"/><line x1="369.36" y1="184.50" x2="369.36" y2="186.30" stroke="#333" stroke-width="0.55"/><line x1="371.28" y1="184.50" x2="371.28" y2="186.30" stroke="#333" stroke-width="0.55"/><line x1="372.98" y1="184.50" x2="372.98" y2="186.30" stroke="#333" stroke-width="0.55"/><line x1="374.50" y1="184.50" x2="374.50" y2="187.70" stroke="#333" stroke-width="0.75"/><text x="374.9" y="194.0" font-size="7.0" fill="#222" text-anchor="middle">10<tspan font-size="4.6" dy="-2.6">1</tspan></text><line x1="384.49" y1="184.50" x2="384.49" y2="186.30" stroke="#333" stroke-width="0.55"/><line x1="390.34" y1="184.50" x2="390.34" y2="186.30" stroke="#333" stroke-width="0.55"/><line x1="394.49" y1="184.50" x2="394.49" y2="186.30" stroke="#333" stroke-width="0.55"/><line x1="397.71" y1="184.50" x2="397.71" y2="186.30" stroke="#333" stroke-width="0.55"/><line x1="400.33" y1="184.50" x2="400.33" y2="186.30" stroke="#333" stroke-width="0.55"/><line x1="402.56" y1="184.50" x2="402.56" y2="186.30" stroke="#333" stroke-width="0.55"/><line x1="404.48" y1="184.50" x2="404.48" y2="186.30" stroke="#333" stroke-width="0.55"/><line x1="406.18" y1="184.50" x2="406.18" y2="186.30" stroke="#333" stroke-width="0.55"/><line x1="407.70" y1="184.50" x2="407.70" y2="187.70" stroke="#333" stroke-width="0.75"/><text x="408.1" y="194.0" font-size="7.0" fill="#222" text-anchor="middle">10<tspan font-size="4.6" dy="-2.6">2</tspan></text><line x1="417.69" y1="184.50" x2="417.69" y2="186.30" stroke="#333" stroke-width="0.55"/><line x1="423.54" y1="184.50" x2="423.54" y2="186.30" stroke="#333" stroke-width="0.55"/><line x1="427.69" y1="184.50" x2="427.69" y2="186.30" stroke="#333" stroke-width="0.55"/><line x1="430.91" y1="184.50" x2="430.91" y2="186.30" stroke="#333" stroke-width="0.55"/><line x1="433.53" y1="184.50" x2="433.53" y2="186.30" stroke="#333" stroke-width="0.55"/><line x1="435.76" y1="184.50" x2="435.76" y2="186.30" stroke="#333" stroke-width="0.55"/><line x1="437.68" y1="184.50" x2="437.68" y2="186.30" stroke="#333" stroke-width="0.55"/><line x1="439.38" y1="184.50" x2="439.38" y2="186.30" stroke="#333" stroke-width="0.55"/><line x1="440.90" y1="184.50" x2="440.90" y2="187.70" stroke="#333" stroke-width="0.75"/><text x="441.3" y="194.0" font-size="7.0" fill="#222" text-anchor="middle">10<tspan font-size="4.6" dy="-2.6">3</tspan></text><line x1="450.89" y1="184.50" x2="450.89" y2="186.30" stroke="#333" stroke-width="0.55"/><line x1="456.74" y1="184.50" x2="456.74" y2="186.30" stroke="#333" stroke-width="0.55"/><line x1="460.89" y1="184.50" x2="460.89" y2="186.30" stroke="#333" stroke-width="0.55"/><line x1="464.11" y1="184.50" x2="464.11" y2="186.30" stroke="#333" stroke-width="0.55"/><line x1="466.73" y1="184.50" x2="466.73" y2="186.30" stroke="#333" stroke-width="0.55"/><line x1="468.96" y1="184.50" x2="468.96" y2="186.30" stroke="#333" stroke-width="0.55"/><line x1="470.88" y1="184.50" x2="470.88" y2="186.30" stroke="#333" stroke-width="0.55"/><line x1="472.58" y1="184.50" x2="472.58" y2="186.30" stroke="#333" stroke-width="0.55"/><line x1="474.10" y1="184.50" x2="474.10" y2="187.70" stroke="#333" stroke-width="0.75"/><text x="474.5" y="194.0" font-size="7.0" fill="#222" text-anchor="middle">10<tspan font-size="4.6" dy="-2.6">4</tspan></text><line x1="484.09" y1="184.50" x2="484.09" y2="186.30" stroke="#333" stroke-width="0.55"/><text x="323.7" y="108.9" font-size="9.1" fill="#222" text-anchor="middle" textLength="109.3" lengthAdjust="spacingAndGlyphs" transform="rotate(-90 323.7 108.9)">Dice Similarity Coefficient</text><g fill="#2e962e"><use href="#d" x="602.5" y="96.2"/><use href="#d" x="619.1" y="92.7"/><use href="#d" x="640.7" y="73.1"/><use href="#d" x="599.0" y="114.9"/><use href="#d" x="587.4" y="136.3"/><use href="#d" x="609.6" y="176.6"/><use href="#d" x="605.9" y="100.8"/><use href="#d" x="610.4" y="106.4"/><use href="#d" x="585.1" y="113.2"/><use href="#d" x="583.0" y="120.5"/><use href="#d" x="613.3" y="92.1"/><use href="#d" x="665.7" y="50.9"/><use href="#d" x="627.0" y="150.5"/><use href="#d" x="591.9" y="107.1"/><use href="#d" x="615.7" y="94.4"/><use href="#d" x="676.5" y="37.1"/><use href="#d" x="605.0" y="106.7"/><use href="#d" x="615.9" y="108.2"/><use href="#d" x="606.6" y="95.1"/><use href="#d" x="631.2" y="90.2"/><use href="#d" x="632.0" y="81.8"/><use href="#d" x="612.2" y="98.8"/><use href="#d" x="611.1" y="95.4"/><use href="#d" x="645.2" y="77.4"/><use href="#d" x="611.4" y="88.0"/><use href="#d" x="618.4" y="86.4"/><use href="#d" x="587.0" y="106.7"/><use href="#d" x="601.2" y="112.3"/><use href="#d" x="617.6" y="114.9"/><use href="#d" x="669.2" y="41.4"/><use href="#d" x="632.9" y="70.2"/><use href="#d" x="625.8" y="88.6"/><use href="#d" x="614.3" y="95.3"/><use href="#d" x="598.4" y="105.8"/><use href="#d" x="596.6" y="125.1"/><use href="#d" x="629.5" y="86.2"/><use href="#d" x="592.2" y="119.0"/><use href="#d" x="597.3" y="96.0"/><use href="#d" x="607.9" y="105.2"/><use href="#d" x="658.6" y="45.8"/><use href="#d" x="613.5" y="95.2"/><use href="#d" x="634.9" y="87.9"/><use href="#d" x="657.5" y="43.5"/><use href="#d" x="610.5" y="105.2"/><use href="#d" x="626.1" y="80.3"/><use href="#d" x="655.5" y="48.0"/><use href="#d" x="636.6" y="78.9"/><use href="#d" x="666.7" y="52.2"/><use href="#d" x="600.5" y="97.7"/><use href="#d" x="675.0" y="36.9"/><use href="#d" x="656.3" y="62.9"/><use href="#d" x="582.2" y="158.8"/><use href="#d" x="671.5" y="42.8"/><use href="#d" x="623.2" y="80.2"/><use href="#d" x="621.7" y="90.3"/><use href="#d" x="648.5" y="60.6"/><use href="#d" x="609.3" y="86.1"/><use href="#d" x="598.6" y="97.5"/><use href="#d" x="612.7" y="85.1"/><use href="#d" x="600.1" y="96.7"/><use href="#d" x="618.1" y="103.0"/><use href="#d" x="630.1" y="73.0"/><use href="#d" x="661.5" y="49.3"/><use href="#d" x="603.7" y="104.6"/><use href="#d" x="641.6" y="77.9"/><use href="#d" x="659.6" y="61.3"/><use href="#d" x="662.3" y="56.0"/><use href="#d" x="620.7" y="89.3"/><use href="#d" x="647.3" y="72.4"/><use href="#d" x="635.0" y="82.2"/><use href="#d" x="636.0" y="80.0"/><use href="#d" x="638.4" y="69.9"/><use href="#d" x="598.1" y="110.8"/><use href="#d" x="649.9" y="63.8"/><use href="#d" x="578.9" y="112.6"/><use href="#d" x="665.2" y="48.9"/><use href="#d" x="599.2" y="102.5"/><use href="#d" x="631.7" y="86.8"/><use href="#d" x="611.5" y="94.5"/><use href="#d" x="608.4" y="98.6"/><use href="#d" x="606.9" y="99.6"/><use href="#d" x="639.1" y="76.4"/><use href="#d" x="610.9" y="105.4"/><use href="#d" x="603.2" y="106.4"/><use href="#d" x="605.1" y="106.2"/><use href="#d" x="634.1" y="71.0"/><use href="#d" x="669.3" y="38.3"/><use href="#d" x="599.5" y="117.3"/><use href="#d" x="645.9" y="63.4"/><use href="#d" x="646.4" y="69.3"/><use href="#d" x="653.5" y="56.7"/><use href="#d" x="591.3" y="118.5"/><use href="#d" x="570.6" y="145.1"/><use href="#d" x="597.7" y="100.3"/><use href="#d" x="649.6" y="60.7"/><use href="#d" x="633.0" y="86.6"/><use href="#d" x="638.8" y="85.5"/><use href="#d" x="624.2" y="89.8"/><use href="#d" x="612.1" y="105.4"/><use href="#d" x="652.0" y="62.8"/><use href="#d" x="640.1" y="68.7"/><use href="#d" x="650.9" y="63.9"/><use href="#d" x="617.9" y="133.8"/><use href="#d" x="654.4" y="52.0"/><use href="#d" x="605.3" y="105.8"/><use href="#d" x="642.3" y="80.8"/><use href="#d" x="622.9" y="81.2"/><use href="#d" x="601.3" y="100.8"/><use href="#d" x="620.1" y="79.4"/><use href="#d" x="584.5" y="112.9"/><use href="#d" x="627.6" y="71.7"/><use href="#d" x="651.6" y="67.0"/><use href="#d" x="598.7" y="150.5"/><use href="#d" x="607.4" y="102.5"/><use href="#d" x="635.6" y="65.3"/><use href="#d" x="657.2" y="52.5"/><use href="#d" x="661.2" y="67.3"/><use href="#d" x="644.5" y="60.4"/><use href="#d" x="626.4" y="90.5"/><use href="#d" x="597.9" y="102.0"/><use href="#d" x="572.1" y="135.0"/><use href="#d" x="637.5" y="73.2"/><use href="#d" x="666.4" y="42.6"/><use href="#d" x="622.0" y="86.5"/><use href="#d" x="606.9" y="108.2"/><use href="#d" x="622.1" y="77.9"/><use href="#d" x="620.9" y="86.0"/><use href="#d" x="576.2" y="127.3"/><use href="#d" x="603.8" y="97.7"/><use href="#d" x="628.9" y="85.6"/><use href="#d" x="659.3" y="43.3"/><use href="#d" x="612.9" y="94.0"/><use href="#d" x="600.2" y="103.5"/><use href="#d" x="626.6" y="81.6"/><use href="#d" x="578.6" y="133.8"/><use href="#d" x="580.3" y="133.8"/><use href="#d" x="653.4" y="58.1"/><use href="#d" x="621.4" y="85.9"/><use href="#d" x="617.0" y="82.3"/><use href="#d" x="610.2" y="106.2"/><use href="#d" x="604.3" y="98.8"/><use href="#d" x="603.0" y="97.4"/><use href="#d" x="630.3" y="111.1"/><use href="#d" x="589.3" y="112.9"/><use href="#d" x="613.9" y="103.9"/><use href="#d" x="606.5" y="106.9"/><use href="#d" x="614.6" y="89.9"/><use href="#d" x="606.1" y="113.9"/><use href="#d" x="582.0" y="114.9"/><use href="#d" x="610.8" y="103.4"/><use href="#d" x="622.5" y="79.8"/><use href="#d" x="645.6" y="56.9"/><use href="#d" x="615.2" y="85.0"/><use href="#d" x="629.3" y="89.5"/><use href="#d" x="648.0" y="70.2"/><use href="#d" x="588.6" y="123.8"/><use href="#d" x="620.4" y="158.8"/><use href="#d" x="596.9" y="106.4"/><use href="#d" x="639.4" y="72.1"/><use href="#d" x="629.8" y="79.2"/><use href="#d" x="613.3" y="90.9"/><use href="#d" x="643.1" y="66.0"/><use href="#d" x="597.3" y="94.8"/><use href="#d" x="615.4" y="94.0"/><use href="#d" x="590.8" y="112.6"/><use href="#d" x="607.5" y="114.9"/><use href="#d" x="614.4" y="104.3"/><use href="#d" x="609.5" y="103.9"/><use href="#d" x="593.5" y="122.1"/><use href="#d" x="631.0" y="78.8"/><use href="#d" x="615.0" y="86.2"/><use href="#d" x="608.2" y="103.2"/><use href="#d" x="658.9" y="56.1"/><use href="#d" x="664.1" y="51.0"/><use href="#d" x="619.9" y="88.8"/><use href="#d" x="598.2" y="112.9"/><use href="#d" x="582.3" y="117.7"/><use href="#d" x="613.7" y="92.8"/><use href="#d" x="646.7" y="104.4"/><use href="#d" x="570.0" y="131.7"/><use href="#d" x="650.5" y="61.5"/><use href="#d" x="628.2" y="70.8"/><use href="#d" x="654.8" y="121.0"/><use href="#d" x="579.9" y="123.2"/><use href="#d" x="619.4" y="93.5"/><use href="#d" x="592.9" y="116.8"/><use href="#d" x="632.3" y="84.6"/><use href="#d" x="585.6" y="119.0"/><use href="#d" x="603.4" y="108.7"/><use href="#d" x="601.1" y="109.2"/><use href="#d" x="620.9" y="80.2"/><use href="#d" x="678.8" y="33.9"/><use href="#d" x="625.0" y="77.5"/><use href="#d" x="623.1" y="85.2"/><use href="#d" x="650.2" y="66.1"/><use href="#d" x="611.2" y="96.1"/><use href="#d" x="594.9" y="88.8"/><use href="#d" x="648.2" y="60.0"/><use href="#d" x="644.5" y="62.5"/><use href="#d" x="653.8" y="54.3"/><use href="#d" x="665.6" y="52.9"/><use href="#d" x="675.9" y="40.7"/><use href="#d" x="611.7" y="93.6"/><use href="#d" x="596.0" y="103.4"/><use href="#d" x="630.8" y="83.3"/><use href="#d" x="644.9" y="69.2"/><use href="#d" x="599.9" y="110.0"/><use href="#d" x="663.4" y="50.1"/><use href="#d" x="680.9" y="37.4"/><use href="#d" x="623.8" y="139.3"/><use href="#d" x="657.0" y="56.2"/><use href="#d" x="679.6" y="41.5"/><use href="#d" x="625.4" y="91.9"/><use href="#d" x="618.3" y="96.1"/><use href="#d" x="597.5" y="117.7"/><use href="#d" x="627.5" y="81.8"/><use href="#d" x="616.2" y="96.4"/><use href="#d" x="617.4" y="92.7"/><use href="#d" x="673.7" y="43.8"/><use href="#d" x="656.0" y="60.7"/><use href="#d" x="609.0" y="95.3"/><use href="#d" x="609.1" y="125.8"/><use href="#d" x="573.9" y="133.8"/><use href="#d" x="605.9" y="99.0"/><use href="#d" x="637.8" y="73.5"/><use href="#d" x="666.3" y="45.4"/><use href="#d" x="668.5" y="35.7"/><use href="#d" x="587.9" y="121.0"/><use href="#d" x="590.0" y="112.0"/><use href="#d" x="629.8" y="83.2"/><use href="#d" x="604.7" y="112.3"/><use href="#d" x="601.9" y="99.7"/><use href="#d" x="600.8" y="104.3"/><use href="#d" x="603.4" y="103.7"/><use href="#d" x="659.9" y="52.7"/><use href="#d" x="606.3" y="101.5"/><use href="#d" x="646.9" y="71.4"/><use href="#d" x="667.8" y="43.2"/><use href="#d" x="602.7" y="119.5"/><use href="#d" x="616.6" y="93.1"/><use href="#d" x="608.3" y="111.7"/><use href="#d" x="622.5" y="90.5"/><use href="#d" x="586.4" y="112.3"/><use href="#d" x="608.5" y="101.8"/><use href="#d" x="577.0" y="122.1"/><use href="#d" x="584.2" y="123.2"/><use href="#d" x="605.7" y="105.6"/><use href="#d" x="626.2" y="87.5"/><use href="#d" x="634.5" y="67.9"/><use href="#d" x="658.1" y="51.3"/><use href="#d" x="660.9" y="92.2"/><use href="#d" x="616.8" y="101.7"/><use href="#d" x="617.2" y="154.1"/><use href="#d" x="601.8" y="116.4"/><use href="#d" x="588.1" y="113.2"/><use href="#d" x="608.8" y="108.2"/><use href="#d" x="633.5" y="114.2"/><use href="#d" x="631.6" y="114.9"/><use href="#d" x="628.6" y="77.4"/><use href="#d" x="642.6" y="93.2"/><use href="#d" x="618.7" y="137.8"/><use href="#d" x="583.5" y="108.2"/><use href="#d" x="600.7" y="120.5"/><use href="#d" x="652.3" y="63.6"/><use href="#d" x="624.8" y="94.3"/><use href="#d" x="636.3" y="82.7"/><use href="#d" x="643.9" y="73.3"/><use href="#d" x="574.7" y="111.7"/><use href="#d" x="624.5" y="85.4"/><use href="#d" x="624.9" y="87.6"/><use href="#d" x="602.2" y="108.2"/><use href="#d" x="674.8" y="34.2"/><use href="#d" x="614.0" y="90.1"/><use href="#d" x="581.6" y="131.7"/><use href="#d" x="632.6" y="147.6"/><use href="#d" x="627.2" y="91.4"/><use href="#d" x="670.0" y="44.1"/><use href="#d" x="640.9" y="69.5"/><use href="#d" x="638.1" y="76.9"/><use href="#d" x="628.8" y="73.9"/><use href="#d" x="642.1" y="67.5"/><use href="#d" x="619.8" y="82.3"/><use href="#d" x="580.6" y="121.5"/><use href="#d" x="651.4" y="58.3"/><use href="#d" x="633.9" y="72.4"/><use href="#d" x="641.4" y="72.0"/><use href="#d" x="590.1" y="101.8"/><use href="#d" x="604.1" y="119.5"/><use href="#d" x="625.7" y="91.7"/><use href="#d" x="589.6" y="103.5"/><use href="#d" x="612.5" y="93.3"/><use href="#d" x="611.9" y="102.0"/><use href="#d" x="635.6" y="74.5"/><use href="#d" x="619.1" y="83.1"/><use href="#d" x="672.7" y="35.8"/><use href="#d" x="584.0" y="122.1"/><use href="#d" x="613.0" y="97.0"/><use href="#d" x="577.5" y="127.3"/><use href="#d" x="660.4" y="46.7"/><use href="#d" x="598.9" y="117.7"/><use href="#d" x="593.3" y="107.3"/><use href="#d" x="661.9" y="57.4"/><use href="#d" x="632.3" y="90.1"/><use href="#d" x="601.9" y="130.7"/><use href="#d" x="599.4" y="107.8"/><use href="#d" x="664.4" y="49.2"/><use href="#d" x="607.2" y="100.0"/><use href="#d" x="667.3" y="50.5"/><use href="#d" x="649.0" y="47.6"/><use href="#d" x="670.6" y="47.1"/><use href="#d" x="586.8" y="122.6"/><use href="#d" x="592.7" y="125.8"/><use href="#d" x="640.5" y="75.2"/><use href="#d" x="596.7" y="176.6"/><use href="#d" x="643.4" y="69.8"/><use href="#d" x="630.6" y="77.1"/><use href="#d" x="595.9" y="114.9"/><use href="#d" x="612.4" y="82.9"/><use href="#d" x="616.0" y="92.4"/><use href="#d" x="652.5" y="67.5"/><use href="#d" x="672.0" y="36.6"/><use href="#d" x="595.0" y="114.6"/><use href="#d" x="590.5" y="110.3"/><use href="#d" x="662.7" y="49.4"/><use href="#d" x="614.5" y="92.9"/><use href="#d" x="600.3" y="106.0"/><use href="#d" x="660.0" y="57.6"/><use href="#d" x="655.1" y="66.0"/><use href="#d" x="652.8" y="55.0"/><use href="#d" x="602.3" y="106.4"/><use href="#d" x="668.0" y="43.2"/><use href="#d" x="654.5" y="61.1"/><use href="#d" x="579.4" y="142.9"/><use href="#d" x="581.0" y="135.0"/><use href="#d" x="656.7" y="48.9"/><use href="#d" x="639.8" y="78.1"/><use href="#d" x="674.3" y="40.2"/><use href="#d" x="583.1" y="135.0"/><use href="#d" x="604.8" y="107.3"/><use href="#d" x="643.6" y="72.0"/><use href="#d" x="607.7" y="102.5"/><use href="#d" x="621.6" y="89.4"/><use href="#d" x="668.9" y="47.0"/><use href="#d" x="676.5" y="39.0"/><use href="#d" x="604.5" y="103.5"/><use href="#d" x="586.0" y="116.4"/><use href="#d" x="605.5" y="103.7"/><use href="#d" x="602.9" y="90.8"/><use href="#d" x="627.9" y="82.0"/><use href="#d" x="663.2" y="48.8"/><use href="#d" x="597.0" y="115.3"/><use href="#d" x="610.1" y="90.8"/><use href="#d" x="628.0" y="90.3"/><use href="#d" x="663.7" y="57.6"/><use href="#d" x="664.9" y="53.0"/><use href="#d" x="594.4" y="106.9"/><use href="#d" x="623.6" y="95.1"/><use href="#d" x="649.4" y="56.5"/><use href="#d" x="579.8" y="139.3"/><use href="#d" x="604.0" y="105.8"/><use href="#d" x="609.7" y="85.3"/><use href="#d" x="637.1" y="81.1"/><use href="#d" x="594.1" y="123.8"/><use href="#d" x="599.7" y="103.4"/><use href="#d" x="624.0" y="79.7"/><use href="#d" x="647.6" y="67.7"/><use href="#d" x="588.7" y="115.3"/><use href="#d" x="601.5" y="103.4"/><use href="#d" x="609.9" y="89.8"/><use href="#d" x="657.8" y="43.9"/><use href="#d" x="591.4" y="115.7"/><use href="#d" x="662.1" y="44.0"/><use href="#d" x="607.4" y="103.7"/><use href="#d" x="584.8" y="114.9"/><use href="#d" x="671.0" y="46.5"/><use href="#d" x="595.3" y="118.1"/><use href="#d" x="542.2" y="96.0"/></g><line x1="542.20" y1="168.10" x2="682.60" y2="38.90" stroke="#2a2a2a" stroke-width="1.2"/><rect x="534.4" y="33.2" width="148.4" height="151.3" fill="none" stroke="#7a7a7a" stroke-width="0.8"/><line x1="531.20" y1="176.60" x2="534.40" y2="176.60" stroke="#333" stroke-width="0.75"/><text x="529.8" y="178.9" font-size="7" fill="#222" text-anchor="end">10<tspan font-size="4.6" dy="-2.6">0</tspan></text><line x1="532.60" y1="165.37" x2="534.40" y2="165.37" stroke="#333" stroke-width="0.55"/><line x1="532.60" y1="158.80" x2="534.40" y2="158.80" stroke="#333" stroke-width="0.55"/><line x1="532.60" y1="154.14" x2="534.40" y2="154.14" stroke="#333" stroke-width="0.55"/><line x1="532.60" y1="150.53" x2="534.40" y2="150.53" stroke="#333" stroke-width="0.55"/><line x1="532.60" y1="147.57" x2="534.40" y2="147.57" stroke="#333" stroke-width="0.55"/><line x1="532.60" y1="145.08" x2="534.40" y2="145.08" stroke="#333" stroke-width="0.55"/><line x1="532.60" y1="142.91" x2="534.40" y2="142.91" stroke="#333" stroke-width="0.55"/><line x1="532.60" y1="141.01" x2="534.40" y2="141.01" stroke="#333" stroke-width="0.55"/><line x1="531.20" y1="139.30" x2="534.40" y2="139.30" stroke="#333" stroke-width="0.75"/><text x="529.8" y="141.6" font-size="7" fill="#222" text-anchor="end">10<tspan font-size="4.6" dy="-2.6">1</tspan></text><line x1="532.60" y1="128.07" x2="534.40" y2="128.07" stroke="#333" stroke-width="0.55"/><line x1="532.60" y1="121.50" x2="534.40" y2="121.50" stroke="#333" stroke-width="0.55"/><line x1="532.60" y1="116.84" x2="534.40" y2="116.84" stroke="#333" stroke-width="0.55"/><line x1="532.60" y1="113.23" x2="534.40" y2="113.23" stroke="#333" stroke-width="0.55"/><line x1="532.60" y1="110.27" x2="534.40" y2="110.27" stroke="#333" stroke-width="0.55"/><line x1="532.60" y1="107.78" x2="534.40" y2="107.78" stroke="#333" stroke-width="0.55"/><line x1="532.60" y1="105.61" x2="534.40" y2="105.61" stroke="#333" stroke-width="0.55"/><line x1="532.60" y1="103.71" x2="534.40" y2="103.71" stroke="#333" stroke-width="0.55"/><line x1="531.20" y1="102.00" x2="534.40" y2="102.00" stroke="#333" stroke-width="0.75"/><text x="529.8" y="104.3" font-size="7" fill="#222" text-anchor="end">10<tspan font-size="4.6" dy="-2.6">2</tspan></text><line x1="532.60" y1="90.77" x2="534.40" y2="90.77" stroke="#333" stroke-width="0.55"/><line x1="532.60" y1="84.20" x2="534.40" y2="84.20" stroke="#333" stroke-width="0.55"/><line x1="532.60" y1="79.54" x2="534.40" y2="79.54" stroke="#333" stroke-width="0.55"/><line x1="532.60" y1="75.93" x2="534.40" y2="75.93" stroke="#333" stroke-width="0.55"/><line x1="532.60" y1="72.97" x2="534.40" y2="72.97" stroke="#333" stroke-width="0.55"/><line x1="532.60" y1="70.48" x2="534.40" y2="70.48" stroke="#333" stroke-width="0.55"/><line x1="532.60" y1="68.31" x2="534.40" y2="68.31" stroke="#333" stroke-width="0.55"/><line x1="532.60" y1="66.41" x2="534.40" y2="66.41" stroke="#333" stroke-width="0.55"/><line x1="531.20" y1="64.70" x2="534.40" y2="64.70" stroke="#333" stroke-width="0.75"/><text x="529.8" y="67.0" font-size="7" fill="#222" text-anchor="end">10<tspan font-size="4.6" dy="-2.6">3</tspan></text><line x1="532.60" y1="53.47" x2="534.40" y2="53.47" stroke="#333" stroke-width="0.55"/><line x1="532.60" y1="46.90" x2="534.40" y2="46.90" stroke="#333" stroke-width="0.55"/><line x1="532.60" y1="42.24" x2="534.40" y2="42.24" stroke="#333" stroke-width="0.55"/><line x1="532.60" y1="38.63" x2="534.40" y2="38.63" stroke="#333" stroke-width="0.55"/><line x1="532.60" y1="35.67" x2="534.40" y2="35.67" stroke="#333" stroke-width="0.55"/><line x1="532.60" y1="33.18" x2="534.40" y2="33.18" stroke="#333" stroke-width="0.55"/><line x1="542.20" y1="184.50" x2="542.20" y2="187.70" stroke="#333" stroke-width="0.75"/><text x="542.6" y="194.0" font-size="7.0" fill="#222" text-anchor="middle">10<tspan font-size="4.6" dy="-2.6">0</tspan></text><line x1="553.13" y1="184.50" x2="553.13" y2="186.30" stroke="#333" stroke-width="0.55"/><line x1="559.52" y1="184.50" x2="559.52" y2="186.30" stroke="#333" stroke-width="0.55"/><line x1="564.05" y1="184.50" x2="564.05" y2="186.30" stroke="#333" stroke-width="0.55"/><line x1="567.57" y1="184.50" x2="567.57" y2="186.30" stroke="#333" stroke-width="0.55"/><line x1="570.45" y1="184.50" x2="570.45" y2="186.30" stroke="#333" stroke-width="0.55"/><line x1="572.88" y1="184.50" x2="572.88" y2="186.30" stroke="#333" stroke-width="0.55"/><line x1="574.98" y1="184.50" x2="574.98" y2="186.30" stroke="#333" stroke-width="0.55"/><line x1="576.84" y1="184.50" x2="576.84" y2="186.30" stroke="#333" stroke-width="0.55"/><line x1="578.50" y1="184.50" x2="578.50" y2="187.70" stroke="#333" stroke-width="0.75"/><text x="578.9" y="194.0" font-size="7.0" fill="#222" text-anchor="middle">10<tspan font-size="4.6" dy="-2.6">1</tspan></text><line x1="589.43" y1="184.50" x2="589.43" y2="186.30" stroke="#333" stroke-width="0.55"/><line x1="595.82" y1="184.50" x2="595.82" y2="186.30" stroke="#333" stroke-width="0.55"/><line x1="600.35" y1="184.50" x2="600.35" y2="186.30" stroke="#333" stroke-width="0.55"/><line x1="603.87" y1="184.50" x2="603.87" y2="186.30" stroke="#333" stroke-width="0.55"/><line x1="606.75" y1="184.50" x2="606.75" y2="186.30" stroke="#333" stroke-width="0.55"/><line x1="609.18" y1="184.50" x2="609.18" y2="186.30" stroke="#333" stroke-width="0.55"/><line x1="611.28" y1="184.50" x2="611.28" y2="186.30" stroke="#333" stroke-width="0.55"/><line x1="613.14" y1="184.50" x2="613.14" y2="186.30" stroke="#333" stroke-width="0.55"/><line x1="614.80" y1="184.50" x2="614.80" y2="187.70" stroke="#333" stroke-width="0.75"/><text x="615.2" y="194.0" font-size="7.0" fill="#222" text-anchor="middle">10<tspan font-size="4.6" dy="-2.6">2</tspan></text><line x1="625.73" y1="184.50" x2="625.73" y2="186.30" stroke="#333" stroke-width="0.55"/><line x1="632.12" y1="184.50" x2="632.12" y2="186.30" stroke="#333" stroke-width="0.55"/><line x1="636.65" y1="184.50" x2="636.65" y2="186.30" stroke="#333" stroke-width="0.55"/><line x1="640.17" y1="184.50" x2="640.17" y2="186.30" stroke="#333" stroke-width="0.55"/><line x1="643.05" y1="184.50" x2="643.05" y2="186.30" stroke="#333" stroke-width="0.55"/><line x1="645.48" y1="184.50" x2="645.48" y2="186.30" stroke="#333" stroke-width="0.55"/><line x1="647.58" y1="184.50" x2="647.58" y2="186.30" stroke="#333" stroke-width="0.55"/><line x1="649.44" y1="184.50" x2="649.44" y2="186.30" stroke="#333" stroke-width="0.55"/><line x1="651.10" y1="184.50" x2="651.10" y2="187.70" stroke="#333" stroke-width="0.75"/><text x="651.5" y="194.0" font-size="7.0" fill="#222" text-anchor="middle">10<tspan font-size="4.6" dy="-2.6">3</tspan></text><line x1="662.03" y1="184.50" x2="662.03" y2="186.30" stroke="#333" stroke-width="0.55"/><line x1="668.42" y1="184.50" x2="668.42" y2="186.30" stroke="#333" stroke-width="0.55"/><line x1="672.95" y1="184.50" x2="672.95" y2="186.30" stroke="#333" stroke-width="0.55"/><line x1="676.47" y1="184.50" x2="676.47" y2="186.30" stroke="#333" stroke-width="0.55"/><line x1="679.35" y1="184.50" x2="679.35" y2="186.30" stroke="#333" stroke-width="0.55"/><line x1="681.78" y1="184.50" x2="681.78" y2="186.30" stroke="#333" stroke-width="0.55"/><text x="515.7" y="109.4" font-size="9.2" fill="#222" text-anchor="middle" textLength="134.0" lengthAdjust="spacingAndGlyphs" transform="rotate(-90 515.7 109.4)">Predicted Tumor Volume (mm3)</text><text x="342.2" y="229.4" font-size="14" fill="#222" textLength="223.5" lengthAdjust="spacingAndGlyphs" stroke="#222" stroke-width="0.15">Dataset: Stanford Brain Mets Share</text><text x="343.9" y="240.2" font-size="7.4" fill="#222" textLength="127.6" lengthAdjust="spacingAndGlyphs">Pearson r=0.11, p=2.02e-03 (two-sided)</text><text x="536.9" y="240.2" font-size="7.4" fill="#222" textLength="128.1" lengthAdjust="spacingAndGlyphs">Pearson r=0.38, p=9.18e-27 (two-sided)</text><g fill="#ea9f28"><use href="#d" x="354.2" y="392.2"/><use href="#d" x="426.3" y="282.5"/><use href="#d" x="461.7" y="268.6"/><use href="#d" x="387.1" y="331.8"/><use href="#d" x="419.3" y="284.3"/><use href="#d" x="382.7" y="308.6"/><use href="#d" x="428.2" y="293.0"/><use href="#d" x="384.4" y="335.7"/><use href="#d" x="378.5" y="336.3"/><use href="#d" x="399.2" y="284.4"/><use href="#d" x="416.0" y="295.8"/><use href="#d" x="443.4" y="262.8"/><use href="#d" x="381.2" y="345.3"/><use href="#d" x="398.6" y="316.5"/><use href="#d" x="398.9" y="324.5"/><use href="#d" x="398.2" y="386.1"/><use href="#d" x="425.5" y="310.3"/><use href="#d" x="358.3" y="362.5"/><use href="#d" x="402.7" y="298.7"/><use href="#d" x="384.3" y="383.3"/><use href="#d" x="367.7" y="327.1"/><use href="#d" x="453.7" y="270.8"/><use href="#d" x="394.1" y="343.3"/><use href="#d" x="370.1" y="330.2"/><use href="#d" x="426.7" y="275.4"/><use href="#d" x="400.3" y="310.0"/><use href="#d" x="447.3" y="276.4"/><use href="#d" x="368.6" y="380.6"/><use href="#d" x="390.4" y="394.8"/><use href="#d" x="412.7" y="302.0"/><use href="#d" x="381.5" y="320.4"/><use href="#d" x="400.1" y="329.8"/><use href="#d" x="393.7" y="299.3"/><use href="#d" x="414.1" y="297.1"/><use href="#d" x="388.0" y="307.8"/><use href="#d" x="373.5" y="344.7"/><use href="#d" x="396.7" y="285.7"/><use href="#d" x="385.8" y="358.2"/><use href="#d" x="442.8" y="278.7"/><use href="#d" x="420.8" y="276.8"/><use href="#d" x="386.6" y="276.2"/><use href="#d" x="385.5" y="312.2"/><use href="#d" x="419.9" y="295.3"/><use href="#d" x="435.9" y="278.1"/><use href="#d" x="413.1" y="296.1"/><use href="#d" x="417.5" y="382.2"/><use href="#d" x="389.0" y="321.1"/><use href="#d" x="409.5" y="308.6"/><use href="#d" x="363.9" y="389.9"/><use href="#d" x="366.8" y="389.1"/><use href="#d" x="392.5" y="300.5"/><use href="#d" x="401.4" y="287.3"/><use href="#d" x="384.0" y="299.3"/><use href="#d" x="402.2" y="288.8"/><use href="#d" x="424.3" y="270.9"/><use href="#d" x="398.9" y="374.0"/><use href="#d" x="407.2" y="304.5"/><use href="#d" x="377.6" y="353.2"/><use href="#d" x="437.6" y="265.5"/><use href="#d" x="374.9" y="347.1"/><use href="#d" x="380.5" y="348.9"/><use href="#d" x="387.7" y="308.0"/><use href="#d" x="451.6" y="263.7"/><use href="#d" x="390.1" y="302.1"/><use href="#d" x="396.0" y="309.1"/><use href="#d" x="383.8" y="373.5"/><use href="#d" x="407.6" y="291.7"/><use href="#d" x="386.2" y="336.6"/><use href="#d" x="384.1" y="353.6"/><use href="#d" x="448.5" y="293.0"/><use href="#d" x="471.7" y="296.0"/><use href="#d" x="403.4" y="283.1"/><use href="#d" x="411.1" y="290.6"/><use href="#d" x="397.5" y="290.7"/><use href="#d" x="378.8" y="354.7"/><use href="#d" x="357.7" y="344.3"/><use href="#d" x="370.5" y="355.2"/><use href="#d" x="412.6" y="354.8"/><use href="#d" x="375.9" y="395.5"/><use href="#d" x="372.3" y="391.2"/><use href="#d" x="442.3" y="266.3"/><use href="#d" x="389.3" y="312.9"/><use href="#d" x="459.5" y="262.9"/><use href="#d" x="384.8" y="343.9"/><use href="#d" x="399.5" y="316.9"/><use href="#d" x="423.9" y="264.4"/><use href="#d" x="396.6" y="299.7"/><use href="#d" x="402.5" y="295.4"/><use href="#d" x="390.3" y="396.4"/><use href="#d" x="396.9" y="329.4"/><use href="#d" x="385.6" y="354.9"/><use href="#d" x="407.5" y="281.6"/><use href="#d" x="411.4" y="266.0"/><use href="#d" x="372.4" y="359.0"/><use href="#d" x="408.3" y="300.3"/><use href="#d" x="392.7" y="304.7"/><use href="#d" x="377.1" y="367.3"/><use href="#d" x="393.1" y="326.0"/><use href="#d" x="397.6" y="283.7"/><use href="#d" x="400.1" y="305.9"/><use href="#d" x="386.2" y="387.0"/><use href="#d" x="396.0" y="372.4"/><use href="#d" x="387.4" y="299.8"/><use href="#d" x="446.9" y="283.8"/><use href="#d" x="375.5" y="320.6"/><use href="#d" x="382.2" y="384.7"/><use href="#d" x="369.8" y="343.5"/><use href="#d" x="381.0" y="332.4"/><use href="#d" x="376.1" y="322.5"/><use href="#d" x="426.9" y="334.9"/><use href="#d" x="439.4" y="263.4"/><use href="#d" x="384.6" y="341.4"/><use href="#d" x="441.6" y="284.5"/><use href="#d" x="402.0" y="325.6"/><use href="#d" x="404.8" y="293.0"/><use href="#d" x="399.2" y="291.0"/><use href="#d" x="388.5" y="315.9"/><use href="#d" x="388.5" y="304.8"/><use href="#d" x="427.7" y="283.1"/><use href="#d" x="388.4" y="293.7"/><use href="#d" x="405.6" y="296.9"/><use href="#d" x="451.2" y="276.5"/><use href="#d" x="379.7" y="331.3"/><use href="#d" x="409.7" y="304.6"/><use href="#d" x="431.9" y="273.5"/><use href="#d" x="416.8" y="274.4"/><use href="#d" x="393.1" y="332.6"/><use href="#d" x="373.3" y="332.6"/><use href="#d" x="397.0" y="305.3"/><use href="#d" x="377.4" y="313.9"/><use href="#d" x="420.0" y="273.1"/><use href="#d" x="409.1" y="303.8"/><use href="#d" x="398.6" y="269.0"/><use href="#d" x="446.7" y="268.7"/><use href="#d" x="411.8" y="271.1"/><use href="#d" x="380.5" y="318.6"/><use href="#d" x="387.5" y="377.2"/><use href="#d" x="388.3" y="330.1"/><use href="#d" x="396.4" y="338.4"/><use href="#d" x="410.1" y="285.8"/><use href="#d" x="428.3" y="287.9"/><use href="#d" x="429.5" y="356.5"/><use href="#d" x="443.8" y="276.5"/><use href="#d" x="382.9" y="360.4"/><use href="#d" x="415.8" y="310.3"/><use href="#d" x="417.8" y="294.8"/><use href="#d" x="412.0" y="291.1"/><use href="#d" x="375.4" y="337.2"/><use href="#d" x="390.0" y="312.4"/><use href="#d" x="366.3" y="337.0"/><use href="#d" x="391.5" y="309.4"/><use href="#d" x="425.2" y="269.6"/><use href="#d" x="453.9" y="337.7"/><use href="#d" x="430.1" y="269.0"/><use href="#d" x="431.3" y="270.5"/><use href="#d" x="383.2" y="339.2"/><use href="#d" x="379.0" y="341.2"/><use href="#d" x="383.3" y="329.1"/><use href="#d" x="371.6" y="358.0"/><use href="#d" x="426.5" y="282.1"/><use href="#d" x="401.6" y="295.7"/><use href="#d" x="399.4" y="282.3"/><use href="#d" x="392.8" y="308.4"/><use href="#d" x="394.6" y="304.4"/><use href="#d" x="395.1" y="310.3"/><use href="#d" x="473.1" y="329.9"/><use href="#d" x="409.4" y="275.4"/><use href="#d" x="415.2" y="302.6"/><use href="#d" x="397.3" y="279.6"/><use href="#d" x="411.9" y="375.3"/><use href="#d" x="422.4" y="351.8"/><use href="#d" x="419.7" y="266.1"/><use href="#d" x="396.8" y="296.2"/><use href="#d" x="416.6" y="307.0"/><use href="#d" x="405.9" y="323.3"/><use href="#d" x="387.6" y="276.5"/><use href="#d" x="406.4" y="294.1"/><use href="#d" x="396.3" y="275.7"/><use href="#d" x="401.2" y="314.8"/><use href="#d" x="410.6" y="306.9"/><use href="#d" x="360.9" y="384.3"/><use href="#d" x="379.4" y="388.6"/><use href="#d" x="404.2" y="280.8"/><use href="#d" x="386.6" y="337.6"/><use href="#d" x="382.0" y="297.1"/><use href="#d" x="382.4" y="302.8"/><use href="#d" x="422.0" y="276.7"/><use href="#d" x="399.0" y="360.9"/><use href="#d" x="446.1" y="267.1"/><use href="#d" x="367.5" y="392.6"/><use href="#d" x="439.2" y="305.0"/><use href="#d" x="418.0" y="358.6"/><use href="#d" x="416.7" y="283.8"/><use href="#d" x="391.8" y="293.0"/><use href="#d" x="398.1" y="301.1"/><use href="#d" x="405.4" y="362.4"/><use href="#d" x="368.8" y="331.8"/><use href="#d" x="461.4" y="267.5"/><use href="#d" x="380.3" y="286.3"/><use href="#d" x="383.7" y="322.6"/><use href="#d" x="403.2" y="285.0"/><use href="#d" x="375.8" y="324.8"/><use href="#d" x="433.4" y="281.7"/><use href="#d" x="378.6" y="311.4"/><use href="#d" x="395.0" y="293.2"/><use href="#d" x="395.6" y="307.2"/><use href="#d" x="428.9" y="318.0"/><use href="#d" x="393.6" y="282.0"/><use href="#d" x="389.4" y="366.2"/><use href="#d" x="402.2" y="316.2"/><use href="#d" x="383.0" y="313.0"/><use href="#d" x="405.7" y="276.3"/><use href="#d" x="411.5" y="295.1"/><use href="#d" x="435.0" y="329.9"/><use href="#d" x="455.0" y="275.1"/><use href="#d" x="371.2" y="347.6"/><use href="#d" x="369.3" y="362.2"/><use href="#d" x="398.5" y="315.5"/><use href="#d" x="394.1" y="331.0"/><use href="#d" x="360.2" y="337.4"/><use href="#d" x="381.0" y="326.3"/><use href="#d" x="432.8" y="281.3"/><use href="#d" x="415.6" y="271.5"/><use href="#d" x="412.5" y="314.9"/><use href="#d" x="448.2" y="269.4"/><use href="#d" x="456.4" y="271.4"/><use href="#d" x="383.9" y="374.6"/><use href="#d" x="398.3" y="309.7"/><use href="#d" x="420.5" y="277.3"/><use href="#d" x="459.1" y="280.6"/><use href="#d" x="368.3" y="374.2"/><use href="#d" x="425.9" y="283.3"/><use href="#d" x="400.7" y="341.7"/><use href="#d" x="433.9" y="279.8"/><use href="#d" x="418.8" y="277.9"/><use href="#d" x="436.8" y="300.4"/><use href="#d" x="404.0" y="287.0"/><use href="#d" x="421.1" y="278.2"/><use href="#d" x="455.8" y="261.4"/><use href="#d" x="404.3" y="287.5"/><use href="#d" x="394.7" y="339.2"/><use href="#d" x="391.5" y="323.5"/><use href="#d" x="413.3" y="288.8"/><use href="#d" x="380.4" y="363.9"/><use href="#d" x="389.1" y="326.2"/><use href="#d" x="377.7" y="359.5"/><use href="#d" x="369.5" y="352.2"/><use href="#d" x="400.4" y="354.1"/><use href="#d" x="373.2" y="355.1"/><use href="#d" x="409.3" y="313.3"/><use href="#d" x="410.4" y="292.4"/><use href="#d" x="394.5" y="339.6"/><use href="#d" x="415.1" y="395.2"/><use href="#d" x="393.8" y="319.0"/><use href="#d" x="417.1" y="278.6"/><use href="#d" x="391.1" y="362.5"/><use href="#d" x="381.3" y="361.7"/><use href="#d" x="392.3" y="327.4"/><use href="#d" x="391.1" y="296.7"/><use href="#d" x="435.4" y="282.7"/><use href="#d" x="394.4" y="292.1"/><use href="#d" x="406.6" y="371.8"/><use href="#d" x="381.2" y="300.8"/><use href="#d" x="400.9" y="297.2"/><use href="#d" x="409.9" y="298.6"/><use href="#d" x="359.4" y="355.0"/><use href="#d" x="379.2" y="306.3"/><use href="#d" x="404.5" y="294.4"/><use href="#d" x="387.8" y="319.6"/><use href="#d" x="397.8" y="311.5"/><use href="#d" x="401.8" y="300.1"/><use href="#d" x="380.9" y="279.2"/><use href="#d" x="395.8" y="279.0"/><use href="#d" x="404.4" y="307.8"/><use href="#d" x="415.0" y="293.9"/><use href="#d" x="399.4" y="274.2"/><use href="#d" x="414.3" y="310.8"/><use href="#d" x="374.7" y="330.1"/><use href="#d" x="379.8" y="330.3"/><use href="#d" x="391.8" y="333.3"/><use href="#d" x="378.9" y="383.8"/><use href="#d" x="395.3" y="312.0"/><use href="#d" x="395.9" y="310.7"/><use href="#d" x="390.9" y="324.8"/><use href="#d" x="389.3" y="287.4"/><use href="#d" x="397.6" y="294.8"/><use href="#d" x="401.7" y="330.9"/><use href="#d" x="388.2" y="350.1"/><use href="#d" x="392.1" y="317.8"/><use href="#d" x="400.4" y="334.0"/><use href="#d" x="386.8" y="364.2"/><use href="#d" x="373.0" y="349.4"/><use href="#d" x="395.5" y="272.4"/><use href="#d" x="402.0" y="322.7"/><use href="#d" x="376.8" y="361.6"/><use href="#d" x="385.5" y="319.2"/><use href="#d" x="421.0" y="292.0"/><use href="#d" x="392.4" y="313.1"/><use href="#d" x="413.3" y="283.4"/><use href="#d" x="387.9" y="314.0"/><use href="#d" x="402.9" y="301.7"/><use href="#d" x="407.7" y="299.1"/><use href="#d" x="405.4" y="312.9"/><use href="#d" x="367.8" y="363.1"/><use href="#d" x="395.0" y="351.7"/><use href="#d" x="431.8" y="386.2"/><use href="#d" x="401.2" y="307.6"/><use href="#d" x="381.5" y="307.7"/><use href="#d" x="416.2" y="320.4"/><use href="#d" x="414.6" y="279.9"/><use href="#d" x="485.0" y="382.8"/><use href="#d" x="392.2" y="328.1"/><use href="#d" x="423.1" y="279.0"/><use href="#d" x="376.5" y="380.6"/><use href="#d" x="371.8" y="378.0"/><use href="#d" x="464.1" y="270.0"/><use href="#d" x="442.1" y="281.8"/><use href="#d" x="414.6" y="293.1"/><use href="#d" x="398.5" y="334.6"/><use href="#d" x="379.1" y="299.5"/><use href="#d" x="434.3" y="280.9"/><use href="#d" x="390.8" y="340.6"/><use href="#d" x="374.4" y="334.5"/><use href="#d" x="400.8" y="336.2"/><use href="#d" x="378.0" y="365.6"/><use href="#d" x="396.6" y="357.1"/><use href="#d" x="389.0" y="294.3"/><use href="#d" x="394.8" y="287.9"/><use href="#d" x="437.1" y="271.3"/><use href="#d" x="364.4" y="371.2"/><use href="#d" x="400.5" y="352.4"/><use href="#d" x="463.0" y="264.9"/><use href="#d" x="386.7" y="327.0"/><use href="#d" x="425.6" y="278.8"/><use href="#d" x="388.8" y="303.2"/><use href="#d" x="460.4" y="268.2"/><use href="#d" x="382.3" y="369.2"/><use href="#d" x="380.1" y="289.5"/><use href="#d" x="438.1" y="274.0"/><use href="#d" x="362.2" y="394.0"/><use href="#d" x="432.2" y="274.8"/><use href="#d" x="403.7" y="333.8"/><use href="#d" x="401.4" y="317.2"/><use href="#d" x="403.2" y="287.9"/><use href="#d" x="430.5" y="285.8"/><use href="#d" x="365.9" y="346.0"/><use href="#d" x="407.0" y="270.4"/><use href="#d" x="415.4" y="281.4"/><use href="#d" x="384.7" y="366.1"/><use href="#d" x="393.4" y="328.5"/><use href="#d" x="385.2" y="314.2"/><use href="#d" x="381.6" y="313.5"/><use href="#d" x="399.7" y="314.7"/><use href="#d" x="383.6" y="379.4"/><use href="#d" x="422.2" y="319.8"/><use href="#d" x="397.8" y="332.4"/><use href="#d" x="409.2" y="343.8"/><use href="#d" x="373.0" y="382.7"/><use href="#d" x="422.6" y="286.9"/><use href="#d" x="399.6" y="346.0"/><use href="#d" x="378.0" y="357.9"/><use href="#d" x="379.8" y="294.3"/><use href="#d" x="402.5" y="348.9"/><use href="#d" x="446.2" y="269.9"/><use href="#d" x="402.6" y="368.2"/><use href="#d" x="389.6" y="357.9"/><use href="#d" x="419.2" y="284.9"/><use href="#d" x="404.8" y="305.3"/><use href="#d" x="410.8" y="299.9"/><use href="#d" x="407.8" y="289.8"/><use href="#d" x="440.8" y="273.4"/><use href="#d" x="400.7" y="300.7"/><use href="#d" x="411.2" y="293.6"/><use href="#d" x="408.7" y="274.7"/><use href="#d" x="423.6" y="286.3"/><use href="#d" x="413.0" y="301.1"/><use href="#d" x="385.0" y="340.8"/><use href="#d" x="429.7" y="267.7"/><use href="#d" x="427.2" y="346.2"/><use href="#d" x="394.3" y="374.7"/><use href="#d" x="413.9" y="369.6"/><use href="#d" x="444.5" y="272.1"/><use href="#d" x="391.7" y="273.3"/><use href="#d" x="429.1" y="332.0"/><use href="#d" x="373.7" y="346.5"/><use href="#d" x="372.2" y="328.7"/><use href="#d" x="449.6" y="273.8"/><use href="#d" x="377.5" y="310.5"/><use href="#d" x="427.4" y="371.3"/><use href="#d" x="416.6" y="280.2"/><use href="#d" x="385.8" y="357.4"/><use href="#d" x="396.2" y="303.8"/><use href="#d" x="405.1" y="281.9"/><use href="#d" x="387.0" y="287.4"/><use href="#d" x="397.1" y="360.3"/><use href="#d" x="387.3" y="342.6"/><use href="#d" x="374.8" y="374.8"/><use href="#d" x="403.5" y="319.2"/><use href="#d" x="366.0" y="338.2"/><use href="#d" x="393.9" y="301.8"/><use href="#d" x="408.6" y="299.6"/><use href="#d" x="384.2" y="360.3"/><use href="#d" x="402.3" y="390.6"/><use href="#d" x="386.1" y="309.9"/><use href="#d" x="374.0" y="376.8"/><use href="#d" x="390.6" y="320.0"/><use href="#d" x="375.1" y="368.5"/><use href="#d" x="388.9" y="380.4"/><use href="#d" x="424.7" y="275.9"/><use href="#d" x="390.1" y="337.2"/><use href="#d" x="437.9" y="274.4"/><use href="#d" x="385.7" y="304.3"/><use href="#d" x="413.7" y="284.5"/><use href="#d" x="417.0" y="268.8"/><use href="#d" x="393.5" y="311.4"/><use href="#d" x="411.4" y="268.3"/><use href="#d" x="383.5" y="388.6"/><use href="#d" x="395.4" y="315.2"/><use href="#d" x="378.1" y="319.5"/><use href="#d" x="367.0" y="386.3"/><use href="#d" x="404.0" y="286.7"/><use href="#d" x="385.9" y="293.3"/><use href="#d" x="380.1" y="325.8"/><use href="#d" x="399.9" y="323.3"/><use href="#d" x="416.2" y="338.7"/><use href="#d" x="440.2" y="358.9"/><use href="#d" x="378.3" y="338.2"/><use href="#d" x="393.4" y="303.9"/><use href="#d" x="367.2" y="310.0"/><use href="#d" x="389.9" y="379.0"/><use href="#d" x="408.9" y="277.4"/><use href="#d" x="384.5" y="351.7"/><use href="#d" x="390.7" y="306.1"/><use href="#d" x="401.0" y="289.8"/><use href="#d" x="407.9" y="303.1"/><use href="#d" x="392.3" y="294.1"/><use href="#d" x="417.6" y="296.5"/><use href="#d" x="394.9" y="297.9"/><use href="#d" x="381.9" y="348.1"/><use href="#d" x="438.5" y="351.6"/><use href="#d" x="374.4" y="371.1"/><use href="#d" x="436.6" y="288.9"/><use href="#d" x="372.8" y="350.8"/><use href="#d" x="406.2" y="275.7"/><use href="#d" x="424.4" y="272.0"/><use href="#d" x="377.1" y="365.2"/><use href="#d" x="393.2" y="369.0"/><use href="#d" x="433.5" y="285.3"/><use href="#d" x="361.5" y="358.7"/><use href="#d" x="410.0" y="289.0"/><use href="#d" x="381.3" y="333.6"/><use href="#d" x="406.6" y="278.9"/><use href="#d" x="387.5" y="280.4"/><use href="#d" x="391.6" y="278.0"/><use href="#d" x="410.9" y="352.5"/><use href="#d" x="399.8" y="306.5"/><use href="#d" x="418.6" y="284.1"/><use href="#d" x="421.4" y="290.0"/><use href="#d" x="398.0" y="280.0"/><use href="#d" x="389.8" y="311.1"/><use href="#d" x="440.3" y="339.7"/><use href="#d" x="417.8" y="311.9"/><use href="#d" x="394.6" y="324.2"/><use href="#d" x="378.4" y="326.1"/><use href="#d" x="439.8" y="286.9"/><use href="#d" x="391.3" y="318.7"/><use href="#d" x="412.2" y="282.8"/><use href="#d" x="401.3" y="333.9"/><use href="#d" x="385.2" y="305.8"/><use href="#d" x="396.1" y="344.5"/><use href="#d" x="370.9" y="348.4"/><use href="#d" x="391.4" y="288.7"/><use href="#d" x="383.4" y="355.1"/><use href="#d" x="395.2" y="272.0"/><use href="#d" x="468.4" y="318.1"/><use href="#d" x="400.2" y="382.4"/><use href="#d" x="382.9" y="376.8"/><use href="#d" x="385.3" y="295.5"/><use href="#d" x="405.0" y="316.2"/><use href="#d" x="400.6" y="303.2"/><use href="#d" x="373.9" y="294.5"/><use href="#d" x="395.6" y="322.3"/><use href="#d" x="414.7" y="295.4"/><use href="#d" x="431.4" y="272.3"/><use href="#d" x="405.2" y="287.2"/><use href="#d" x="382.8" y="328.2"/><use href="#d" x="407.3" y="273.2"/><use href="#d" x="384.9" y="347.2"/><use href="#d" x="384.0" y="320.9"/><use href="#d" x="388.1" y="301.5"/><use href="#d" x="429.4" y="297.9"/><use href="#d" x="402.4" y="318.5"/><use href="#d" x="406.9" y="336.8"/><use href="#d" x="373.4" y="304.6"/><use href="#d" x="376.3" y="343.0"/><use href="#d" x="411.6" y="326.2"/><use href="#d" x="415.7" y="298.3"/><use href="#d" x="368.4" y="360.3"/><use href="#d" x="389.7" y="285.4"/><use href="#d" x="401.6" y="321.4"/><use href="#d" x="380.0" y="395.2"/><use href="#d" x="385.0" y="356.9"/><use href="#d" x="382.1" y="349.9"/><use href="#d" x="401.8" y="335.6"/><use href="#d" x="387.3" y="317.8"/><use href="#d" x="388.4" y="355.4"/><use href="#d" x="398.1" y="299.0"/><use href="#d" x="352.2" y="382.5"/><use href="#d" x="441.2" y="331.4"/><use href="#d" x="362.9" y="373.5"/><use href="#d" x="453.0" y="303.7"/><use href="#d" x="374.6" y="285.4"/><use href="#d" x="406.8" y="290.3"/><use href="#d" x="448.0" y="272.9"/><use href="#d" x="368.1" y="365.6"/><use href="#d" x="380.8" y="346.1"/><use href="#d" x="393.2" y="383.8"/><use href="#d" x="413.5" y="267.6"/><use href="#d" x="375.2" y="315.3"/><use href="#d" x="394.2" y="341.2"/><use href="#d" x="380.2" y="302.1"/><use href="#d" x="387.7" y="312.2"/><use href="#d" x="398.8" y="314.3"/><use href="#d" x="444.1" y="311.4"/><use href="#d" x="397.2" y="286.1"/><use href="#d" x="376.5" y="393.7"/><use href="#d" x="392.9" y="297.7"/><use href="#d" x="384.4" y="371.1"/><use href="#d" x="383.1" y="323.7"/><use href="#d" x="416.1" y="380.3"/><use href="#d" x="406.3" y="292.1"/><use href="#d" x="463.7" y="266.9"/><use href="#d" x="375.3" y="374.1"/><use href="#d" x="373.6" y="332.0"/><use href="#d" x="408.5" y="300.9"/><use href="#d" x="393.0" y="289.5"/><use href="#d" x="390.2" y="313.5"/><use href="#d" x="372.1" y="352.4"/><use href="#d" x="365.5" y="379.1"/><use href="#d" x="397.9" y="295.0"/><use href="#d" x="394.0" y="286.9"/><use href="#d" x="392.0" y="281.5"/><use href="#d" x="450.5" y="329.0"/><use href="#d" x="376.9" y="347.8"/><use href="#d" x="374.1" y="327.1"/><use href="#d" x="370.7" y="351.2"/><use href="#d" x="376.7" y="371.8"/><use href="#d" x="369.4" y="370.3"/><use href="#d" x="389.2" y="292.7"/><use href="#d" x="386.4" y="334.4"/><use href="#d" x="410.3" y="387.8"/><use href="#d" x="414.4" y="286.3"/><use href="#d" x="391.3" y="347.0"/><use href="#d" x="377.8" y="298.0"/><use href="#d" x="436.0" y="280.2"/><use href="#d" x="427.9" y="287.6"/><use href="#d" x="404.6" y="329.7"/><use href="#d" x="385.1" y="391.2"/><use href="#d" x="407.1" y="278.2"/><use href="#d" x="401.9" y="336.6"/><use href="#d" x="390.8" y="291.6"/><use href="#d" x="370.3" y="335.1"/><use href="#d" x="356.5" y="346.8"/><use href="#d" x="389.6" y="308.6"/><use href="#d" x="397.5" y="331.9"/><use href="#d" x="383.6" y="367.5"/><use href="#d" x="412.3" y="277.5"/><use href="#d" x="372.5" y="356.8"/><use href="#d" x="402.7" y="307.0"/><use href="#d" x="374.2" y="364.0"/><use href="#d" x="380.6" y="310.8"/><use href="#d" x="424.9" y="280.0"/><use href="#d" x="387.1" y="381.2"/><use href="#d" x="386.3" y="352.8"/><use href="#d" x="382.5" y="316.3"/><use href="#d" x="408.1" y="289.5"/><use href="#d" x="379.6" y="379.6"/><use href="#d" x="389.5" y="283.1"/><use href="#d" x="418.3" y="280.9"/><use href="#d" x="386.0" y="307.0"/><use href="#d" x="409.6" y="306.4"/><use href="#d" x="412.1" y="284.0"/><use href="#d" x="371.9" y="362.2"/><use href="#d" x="372.7" y="350.5"/><use href="#d" x="393.6" y="269.9"/><use href="#d" x="445.7" y="287.5"/><use href="#d" x="423.3" y="293.4"/><use href="#d" x="418.2" y="284.9"/><use href="#d" x="408.2" y="272.4"/><use href="#d" x="395.2" y="318.0"/><use href="#d" x="410.3" y="297.9"/><use href="#d" x="382.4" y="370.8"/><use href="#d" x="379.9" y="321.7"/><use href="#d" x="399.8" y="302.5"/><use href="#d" x="382.6" y="315.4"/><use href="#d" x="399.1" y="305.7"/><use href="#d" x="428.5" y="289.2"/><use href="#d" x="396.9" y="342.6"/><use href="#d" x="413.5" y="348.6"/><use href="#d" x="424.1" y="273.9"/><use href="#d" x="383.2" y="324.8"/><use href="#d" x="390.5" y="327.0"/><use href="#d" x="413.8" y="279.3"/><use href="#d" x="410.9" y="282.2"/><use href="#d" x="402.8" y="291.9"/><use href="#d" x="420.4" y="299.3"/><use href="#d" x="405.8" y="285.4"/><use href="#d" x="395.7" y="290.1"/><use href="#d" x="386.9" y="378.8"/><use href="#d" x="388.6" y="338.0"/><use href="#d" x="403.3" y="290.0"/><use href="#d" x="396.2" y="320.9"/><use href="#d" x="443.0" y="343.2"/><use href="#d" x="412.9" y="276.9"/><use href="#d" x="398.4" y="387.5"/><use href="#d" x="381.8" y="392.8"/><use href="#d" x="430.9" y="376.3"/><use href="#d" x="422.8" y="275.0"/><use href="#d" x="406.1" y="288.3"/><use href="#d" x="376.4" y="385.8"/><use href="#d" x="381.7" y="284.3"/><use href="#d" x="392.0" y="298.1"/><use href="#d" x="375.9" y="318.4"/><use href="#d" x="386.5" y="345.1"/><use href="#d" x="417.3" y="297.7"/><use href="#d" x="400.0" y="296.9"/><use href="#d" x="444.8" y="275.4"/><use href="#d" x="415.5" y="317.1"/><use href="#d" x="421.7" y="291.2"/><use href="#d" x="432.4" y="280.5"/><use href="#d" x="389.9" y="284.7"/><use href="#d" x="375.6" y="344.3"/><use href="#d" x="388.7" y="320.1"/><use href="#d" x="403.8" y="392.3"/><use href="#d" x="397.3" y="291.5"/><use href="#d" x="392.7" y="348.2"/><use href="#d" x="433.1" y="279.6"/><use href="#d" x="392.5" y="391.8"/><use href="#d" x="445.4" y="320.3"/><use href="#d" x="448.9" y="277.5"/><use href="#d" x="416.4" y="273.6"/><use href="#d" x="371.5" y="340.6"/><use href="#d" x="432.6" y="366.3"/><use href="#d" x="399.1" y="364.8"/><use href="#d" x="457.0" y="272.8"/><use href="#d" x="380.7" y="351.0"/><use href="#d" x="418.0" y="280.4"/><use href="#d" x="390.6" y="345.6"/><use href="#d" x="430.7" y="302.5"/><use href="#d" x="414.9" y="286.1"/><use href="#d" x="401.1" y="302.9"/><use href="#d" x="356.4" y="369.9"/><use href="#d" x="382.0" y="338.5"/><use href="#d" x="394.4" y="328.9"/><use href="#d" x="458.4" y="265.7"/><use href="#d" x="391.1" y="322.0"/><use href="#d" x="434.7" y="313.8"/><use href="#d" x="408.9" y="288.6"/><use href="#d" x="366.4" y="368.3"/><use href="#d" x="414.0" y="290.9"/><use href="#d" x="417.4" y="309.5"/><use href="#d" x="396.5" y="277.4"/><use href="#d" x="379.3" y="340.1"/><use href="#d" x="430.3" y="288.9"/></g><line x1="355.30" y1="355.20" x2="483.90" y2="255.40" stroke="#2a2a2a" stroke-width="1.2"/><rect x="341.2" y="245.4" width="148.5" height="151.3" fill="none" stroke="#7a7a7a" stroke-width="0.8"/><line x1="338.00" y1="396.70" x2="341.20" y2="396.70" stroke="#333" stroke-width="0.75"/><text x="337.3" y="399.2" font-size="7" fill="#222" text-anchor="end" textLength="10.2" lengthAdjust="spacingAndGlyphs">0.0</text><line x1="338.00" y1="366.44" x2="341.20" y2="366.44" stroke="#333" stroke-width="0.75"/><text x="337.3" y="368.9" font-size="7" fill="#222" text-anchor="end" textLength="10.2" lengthAdjust="spacingAndGlyphs">0.2</text><line x1="338.00" y1="336.18" x2="341.20" y2="336.18" stroke="#333" stroke-width="0.75"/><text x="337.3" y="338.7" font-size="7" fill="#222" text-anchor="end" textLength="10.2" lengthAdjust="spacingAndGlyphs">0.4</text><line x1="338.00" y1="305.92" x2="341.20" y2="305.92" stroke="#333" stroke-width="0.75"/><text x="337.3" y="308.4" font-size="7" fill="#222" text-anchor="end" textLength="10.2" lengthAdjust="spacingAndGlyphs">0.6</text><line x1="338.00" y1="275.66" x2="341.20" y2="275.66" stroke="#333" stroke-width="0.75"/><text x="337.3" y="278.2" font-size="7" fill="#222" text-anchor="end" textLength="10.2" lengthAdjust="spacingAndGlyphs">0.8</text><line x1="338.00" y1="245.40" x2="341.20" y2="245.40" stroke="#333" stroke-width="0.75"/><text x="337.3" y="247.9" font-size="7" fill="#222" text-anchor="end" textLength="10.2" lengthAdjust="spacingAndGlyphs">1.0</text><line x1="341.00" y1="396.70" x2="341.00" y2="399.90" stroke="#333" stroke-width="0.75"/><text x="341.4" y="406.2" font-size="7.0" fill="#222" text-anchor="middle">10<tspan font-size="4.6" dy="-2.6">0</tspan></text><line x1="350.30" y1="396.70" x2="350.30" y2="398.50" stroke="#333" stroke-width="0.55"/><line x1="355.74" y1="396.70" x2="355.74" y2="398.50" stroke="#333" stroke-width="0.55"/><line x1="359.60" y1="396.70" x2="359.60" y2="398.50" stroke="#333" stroke-width="0.55"/><line x1="362.60" y1="396.70" x2="362.60" y2="398.50" stroke="#333" stroke-width="0.55"/><line x1="365.04" y1="396.70" x2="365.04" y2="398.50" stroke="#333" stroke-width="0.55"/><line x1="367.11" y1="396.70" x2="367.11" y2="398.50" stroke="#333" stroke-width="0.55"/><line x1="368.91" y1="396.70" x2="368.91" y2="398.50" stroke="#333" stroke-width="0.55"/><line x1="370.49" y1="396.70" x2="370.49" y2="398.50" stroke="#333" stroke-width="0.55"/><line x1="371.90" y1="396.70" x2="371.90" y2="399.90" stroke="#333" stroke-width="0.75"/><text x="372.3" y="406.2" font-size="7.0" fill="#222" text-anchor="middle">10<tspan font-size="4.6" dy="-2.6">1</tspan></text><line x1="381.20" y1="396.70" x2="381.20" y2="398.50" stroke="#333" stroke-width="0.55"/><line x1="386.64" y1="396.70" x2="386.64" y2="398.50" stroke="#333" stroke-width="0.55"/><line x1="390.50" y1="396.70" x2="390.50" y2="398.50" stroke="#333" stroke-width="0.55"/><line x1="393.50" y1="396.70" x2="393.50" y2="398.50" stroke="#333" stroke-width="0.55"/><line x1="395.94" y1="396.70" x2="395.94" y2="398.50" stroke="#333" stroke-width="0.55"/><line x1="398.01" y1="396.70" x2="398.01" y2="398.50" stroke="#333" stroke-width="0.55"/><line x1="399.81" y1="396.70" x2="399.81" y2="398.50" stroke="#333" stroke-width="0.55"/><line x1="401.39" y1="396.70" x2="401.39" y2="398.50" stroke="#333" stroke-width="0.55"/><line x1="402.80" y1="396.70" x2="402.80" y2="399.90" stroke="#333" stroke-width="0.75"/><text x="403.2" y="406.2" font-size="7.0" fill="#222" text-anchor="middle">10<tspan font-size="4.6" dy="-2.6">2</tspan></text><line x1="412.10" y1="396.70" x2="412.10" y2="398.50" stroke="#333" stroke-width="0.55"/><line x1="417.54" y1="396.70" x2="417.54" y2="398.50" stroke="#333" stroke-width="0.55"/><line x1="421.40" y1="396.70" x2="421.40" y2="398.50" stroke="#333" stroke-width="0.55"/><line x1="424.40" y1="396.70" x2="424.40" y2="398.50" stroke="#333" stroke-width="0.55"/><line x1="426.84" y1="396.70" x2="426.84" y2="398.50" stroke="#333" stroke-width="0.55"/><line x1="428.91" y1="396.70" x2="428.91" y2="398.50" stroke="#333" stroke-width="0.55"/><line x1="430.71" y1="396.70" x2="430.71" y2="398.50" stroke="#333" stroke-width="0.55"/><line x1="432.29" y1="396.70" x2="432.29" y2="398.50" stroke="#333" stroke-width="0.55"/><line x1="433.70" y1="396.70" x2="433.70" y2="399.90" stroke="#333" stroke-width="0.75"/><text x="434.1" y="406.2" font-size="7.0" fill="#222" text-anchor="middle">10<tspan font-size="4.6" dy="-2.6">3</tspan></text><line x1="443.00" y1="396.70" x2="443.00" y2="398.50" stroke="#333" stroke-width="0.55"/><line x1="448.44" y1="396.70" x2="448.44" y2="398.50" stroke="#333" stroke-width="0.55"/><line x1="452.30" y1="396.70" x2="452.30" y2="398.50" stroke="#333" stroke-width="0.55"/><line x1="455.30" y1="396.70" x2="455.30" y2="398.50" stroke="#333" stroke-width="0.55"/><line x1="457.74" y1="396.70" x2="457.74" y2="398.50" stroke="#333" stroke-width="0.55"/><line x1="459.81" y1="396.70" x2="459.81" y2="398.50" stroke="#333" stroke-width="0.55"/><line x1="461.61" y1="396.70" x2="461.61" y2="398.50" stroke="#333" stroke-width="0.55"/><line x1="463.19" y1="396.70" x2="463.19" y2="398.50" stroke="#333" stroke-width="0.55"/><line x1="464.60" y1="396.70" x2="464.60" y2="399.90" stroke="#333" stroke-width="0.75"/><text x="465.0" y="406.2" font-size="7.0" fill="#222" text-anchor="middle">10<tspan font-size="4.6" dy="-2.6">4</tspan></text><line x1="473.90" y1="396.70" x2="473.90" y2="398.50" stroke="#333" stroke-width="0.55"/><line x1="479.34" y1="396.70" x2="479.34" y2="398.50" stroke="#333" stroke-width="0.55"/><line x1="483.20" y1="396.70" x2="483.20" y2="398.50" stroke="#333" stroke-width="0.55"/><line x1="486.20" y1="396.70" x2="486.20" y2="398.50" stroke="#333" stroke-width="0.55"/><line x1="488.64" y1="396.70" x2="488.64" y2="398.50" stroke="#333" stroke-width="0.55"/><text x="323.7" y="321.1" font-size="9.1" fill="#222" text-anchor="middle" textLength="109.3" lengthAdjust="spacingAndGlyphs" transform="rotate(-90 323.7 321.1)">Dice Similarity Coefficient</text><g fill="#ea9f28"><use href="#d" x="541.0" y="366.1"/><use href="#d" x="637.1" y="331.3"/><use href="#d" x="584.9" y="366.1"/><use href="#d" x="627.8" y="290.1"/><use href="#d" x="579.0" y="334.3"/><use href="#d" x="639.7" y="292.9"/><use href="#d" x="581.3" y="359.6"/><use href="#d" x="573.4" y="340.3"/><use href="#d" x="601.1" y="324.9"/><use href="#d" x="623.4" y="351.4"/><use href="#d" x="659.9" y="280.9"/><use href="#d" x="577.0" y="307.5"/><use href="#d" x="600.2" y="314.6"/><use href="#d" x="600.6" y="316.8"/><use href="#d" x="599.7" y="334.3"/><use href="#d" x="636.1" y="283.6"/><use href="#d" x="546.4" y="334.9"/><use href="#d" x="605.7" y="315.1"/><use href="#d" x="581.2" y="342.9"/><use href="#d" x="559.0" y="357.1"/><use href="#d" x="673.7" y="301.0"/><use href="#d" x="594.1" y="334.3"/><use href="#d" x="562.2" y="355.0"/><use href="#d" x="637.7" y="281.5"/><use href="#d" x="602.5" y="310.1"/><use href="#d" x="665.2" y="259.9"/><use href="#d" x="560.2" y="322.6"/><use href="#d" x="589.2" y="315.6"/><use href="#d" x="619.0" y="317.6"/><use href="#d" x="577.4" y="317.6"/><use href="#d" x="602.1" y="318.6"/><use href="#d" x="593.7" y="318.8"/><use href="#d" x="620.9" y="289.4"/><use href="#d" x="586.1" y="322.1"/><use href="#d" x="566.7" y="316.6"/><use href="#d" x="597.7" y="321.1"/><use href="#d" x="583.1" y="332.7"/><use href="#d" x="659.1" y="275.8"/><use href="#d" x="629.9" y="297.7"/><use href="#d" x="584.2" y="347.2"/><use href="#d" x="582.7" y="388.4"/><use href="#d" x="628.6" y="308.9"/><use href="#d" x="649.9" y="283.0"/><use href="#d" x="619.5" y="327.6"/><use href="#d" x="625.4" y="320.8"/><use href="#d" x="587.4" y="318.4"/><use href="#d" x="614.8" y="319.7"/><use href="#d" x="553.9" y="324.6"/><use href="#d" x="557.8" y="348.5"/><use href="#d" x="592.1" y="355.0"/><use href="#d" x="604.0" y="334.3"/><use href="#d" x="580.7" y="336.7"/><use href="#d" x="605.0" y="320.8"/><use href="#d" x="634.5" y="287.0"/><use href="#d" x="600.5" y="302.6"/><use href="#d" x="611.7" y="341.1"/><use href="#d" x="572.1" y="349.9"/><use href="#d" x="652.2" y="297.0"/><use href="#d" x="568.6" y="336.7"/><use href="#d" x="576.1" y="338.7"/><use href="#d" x="585.7" y="353.1"/><use href="#d" x="670.8" y="248.0"/><use href="#d" x="588.9" y="330.8"/><use href="#d" x="596.7" y="310.2"/><use href="#d" x="580.5" y="313.5"/><use href="#d" x="612.2" y="323.2"/><use href="#d" x="583.7" y="307.9"/><use href="#d" x="580.9" y="309.9"/><use href="#d" x="666.7" y="261.1"/><use href="#d" x="606.6" y="314.7"/><use href="#d" x="616.9" y="296.8"/><use href="#d" x="598.7" y="314.4"/><use href="#d" x="573.8" y="342.9"/><use href="#d" x="545.7" y="342.0"/><use href="#d" x="562.7" y="339.5"/><use href="#d" x="618.9" y="311.2"/><use href="#d" x="570.0" y="348.5"/><use href="#d" x="565.1" y="346.0"/><use href="#d" x="658.5" y="280.6"/><use href="#d" x="587.7" y="313.5"/><use href="#d" x="681.5" y="264.7"/><use href="#d" x="581.8" y="328.0"/><use href="#d" x="601.4" y="326.5"/><use href="#d" x="634.0" y="314.6"/><use href="#d" x="597.6" y="313.9"/><use href="#d" x="605.4" y="333.2"/><use href="#d" x="589.2" y="312.2"/><use href="#d" x="597.9" y="323.4"/><use href="#d" x="582.9" y="324.6"/><use href="#d" x="612.1" y="313.8"/><use href="#d" x="617.3" y="301.4"/><use href="#d" x="565.3" y="324.9"/><use href="#d" x="613.1" y="316.1"/><use href="#d" x="592.4" y="324.3"/><use href="#d" x="571.6" y="312.6"/><use href="#d" x="592.9" y="330.4"/><use href="#d" x="598.9" y="301.9"/><use href="#d" x="602.2" y="323.7"/><use href="#d" x="583.6" y="334.3"/><use href="#d" x="596.7" y="377.3"/><use href="#d" x="585.2" y="336.7"/><use href="#d" x="664.7" y="278.7"/><use href="#d" x="569.5" y="341.1"/><use href="#d" x="578.3" y="322.3"/><use href="#d" x="561.8" y="338.7"/><use href="#d" x="576.8" y="338.0"/><use href="#d" x="570.2" y="346.0"/><use href="#d" x="638.0" y="295.3"/><use href="#d" x="654.6" y="286.2"/><use href="#d" x="581.5" y="343.8"/><use href="#d" x="657.6" y="255.9"/><use href="#d" x="604.8" y="316.1"/><use href="#d" x="608.5" y="324.9"/><use href="#d" x="601.0" y="313.2"/><use href="#d" x="586.7" y="309.8"/><use href="#d" x="586.8" y="333.7"/><use href="#d" x="639.0" y="289.2"/><use href="#d" x="586.6" y="341.1"/><use href="#d" x="609.5" y="254.4"/><use href="#d" x="670.3" y="249.9"/><use href="#d" x="575.0" y="291.7"/><use href="#d" x="615.1" y="317.2"/><use href="#d" x="644.6" y="330.8"/><use href="#d" x="624.5" y="251.9"/><use href="#d" x="592.8" y="312.3"/><use href="#d" x="566.4" y="329.9"/><use href="#d" x="598.1" y="305.8"/><use href="#d" x="571.9" y="337.3"/><use href="#d" x="628.7" y="295.0"/><use href="#d" x="614.1" y="302.7"/><use href="#d" x="600.2" y="324.0"/><use href="#d" x="664.4" y="261.8"/><use href="#d" x="617.7" y="309.7"/><use href="#d" x="576.0" y="326.2"/><use href="#d" x="585.4" y="325.5"/><use href="#d" x="586.4" y="348.5"/><use href="#d" x="597.3" y="321.1"/><use href="#d" x="615.6" y="323.4"/><use href="#d" x="639.8" y="295.1"/><use href="#d" x="641.4" y="300.7"/><use href="#d" x="660.5" y="262.5"/><use href="#d" x="579.2" y="333.7"/><use href="#d" x="623.2" y="306.3"/><use href="#d" x="625.8" y="288.4"/><use href="#d" x="618.0" y="300.2"/><use href="#d" x="569.3" y="337.3"/><use href="#d" x="588.8" y="348.5"/><use href="#d" x="557.1" y="331.7"/><use href="#d" x="590.7" y="328.0"/><use href="#d" x="635.6" y="294.6"/><use href="#d" x="674.0" y="251.5"/><use href="#d" x="642.2" y="290.9"/><use href="#d" x="643.8" y="284.7"/><use href="#d" x="579.7" y="319.7"/><use href="#d" x="574.0" y="325.5"/><use href="#d" x="579.8" y="336.7"/><use href="#d" x="564.2" y="319.0"/><use href="#d" x="637.4" y="279.5"/><use href="#d" x="604.1" y="299.2"/><use href="#d" x="601.3" y="320.8"/><use href="#d" x="592.4" y="321.8"/><use href="#d" x="594.9" y="311.6"/><use href="#d" x="595.6" y="318.0"/><use href="#d" x="614.6" y="311.2"/><use href="#d" x="622.4" y="306.2"/><use href="#d" x="598.5" y="328.3"/><use href="#d" x="617.9" y="313.6"/><use href="#d" x="631.9" y="290.9"/><use href="#d" x="628.3" y="300.7"/><use href="#d" x="597.8" y="336.7"/><use href="#d" x="624.1" y="301.1"/><use href="#d" x="610.0" y="297.5"/><use href="#d" x="585.6" y="311.9"/><use href="#d" x="610.7" y="334.3"/><use href="#d" x="597.2" y="331.3"/><use href="#d" x="603.7" y="310.9"/><use href="#d" x="616.2" y="307.9"/><use href="#d" x="550.0" y="342.0"/><use href="#d" x="574.6" y="333.7"/><use href="#d" x="607.6" y="315.9"/><use href="#d" x="584.2" y="339.5"/><use href="#d" x="578.1" y="316.8"/><use href="#d" x="578.6" y="342.0"/><use href="#d" x="631.5" y="296.3"/><use href="#d" x="600.7" y="304.1"/><use href="#d" x="663.5" y="257.8"/><use href="#d" x="558.7" y="388.4"/><use href="#d" x="654.3" y="274.6"/><use href="#d" x="626.1" y="305.4"/><use href="#d" x="591.1" y="327.2"/><use href="#d" x="599.5" y="357.1"/><use href="#d" x="609.2" y="319.5"/><use href="#d" x="560.5" y="388.4"/><use href="#d" x="575.8" y="326.9"/><use href="#d" x="580.3" y="332.7"/><use href="#d" x="606.3" y="309.9"/><use href="#d" x="569.8" y="332.2"/><use href="#d" x="646.6" y="280.5"/><use href="#d" x="573.6" y="338.0"/><use href="#d" x="595.4" y="346.0"/><use href="#d" x="596.3" y="314.4"/><use href="#d" x="640.6" y="280.0"/><use href="#d" x="593.5" y="328.7"/><use href="#d" x="587.9" y="328.0"/><use href="#d" x="605.0" y="263.2"/><use href="#d" x="579.4" y="370.7"/><use href="#d" x="609.7" y="307.3"/><use href="#d" x="617.4" y="300.5"/><use href="#d" x="648.8" y="272.2"/><use href="#d" x="675.4" y="248.7"/><use href="#d" x="563.6" y="359.6"/><use href="#d" x="561.1" y="331.7"/><use href="#d" x="600.0" y="324.9"/><use href="#d" x="594.2" y="310.9"/><use href="#d" x="549.0" y="330.4"/><use href="#d" x="576.7" y="321.3"/><use href="#d" x="645.8" y="282.6"/><use href="#d" x="622.9" y="275.8"/><use href="#d" x="618.7" y="306.7"/><use href="#d" x="666.4" y="271.4"/><use href="#d" x="677.3" y="246.5"/><use href="#d" x="580.6" y="346.0"/><use href="#d" x="599.8" y="300.2"/><use href="#d" x="629.4" y="287.2"/><use href="#d" x="559.8" y="325.5"/><use href="#d" x="636.6" y="286.5"/><use href="#d" x="603.0" y="332.7"/><use href="#d" x="647.2" y="285.6"/><use href="#d" x="627.1" y="293.3"/><use href="#d" x="651.2" y="278.7"/><use href="#d" x="607.4" y="312.4"/><use href="#d" x="630.3" y="302.0"/><use href="#d" x="676.4" y="260.1"/><use href="#d" x="607.8" y="312.9"/><use href="#d" x="595.0" y="314.6"/><use href="#d" x="590.8" y="370.7"/><use href="#d" x="619.7" y="314.6"/><use href="#d" x="575.9" y="349.9"/><use href="#d" x="587.5" y="303.4"/><use href="#d" x="572.4" y="346.0"/><use href="#d" x="561.4" y="348.5"/><use href="#d" x="602.7" y="326.5"/><use href="#d" x="566.3" y="324.6"/><use href="#d" x="614.4" y="317.6"/><use href="#d" x="616.0" y="303.3"/><use href="#d" x="594.8" y="336.7"/><use href="#d" x="622.2" y="313.9"/><use href="#d" x="593.8" y="321.3"/><use href="#d" x="624.9" y="312.2"/><use href="#d" x="590.2" y="326.5"/><use href="#d" x="577.1" y="322.1"/><use href="#d" x="591.8" y="326.5"/><use href="#d" x="590.3" y="334.9"/><use href="#d" x="649.2" y="282.4"/><use href="#d" x="594.5" y="324.9"/><use href="#d" x="610.9" y="309.9"/><use href="#d" x="577.0" y="370.7"/><use href="#d" x="603.2" y="338.0"/><use href="#d" x="615.3" y="304.6"/><use href="#d" x="547.9" y="344.9"/><use href="#d" x="574.4" y="332.2"/><use href="#d" x="608.0" y="313.9"/><use href="#d" x="585.8" y="328.7"/><use href="#d" x="599.1" y="325.9"/><use href="#d" x="604.4" y="317.6"/><use href="#d" x="576.6" y="323.4"/><use href="#d" x="596.4" y="318.6"/><use href="#d" x="608.0" y="315.9"/><use href="#d" x="622.1" y="313.5"/><use href="#d" x="601.3" y="317.8"/><use href="#d" x="621.1" y="315.6"/><use href="#d" x="568.4" y="342.9"/><use href="#d" x="575.1" y="330.4"/><use href="#d" x="591.2" y="280.9"/><use href="#d" x="573.9" y="319.7"/><use href="#d" x="595.8" y="313.2"/><use href="#d" x="596.6" y="317.0"/><use href="#d" x="590.0" y="328.7"/><use href="#d" x="587.9" y="326.2"/><use href="#d" x="598.9" y="323.7"/><use href="#d" x="604.4" y="300.9"/><use href="#d" x="586.3" y="321.8"/><use href="#d" x="591.6" y="331.7"/><use href="#d" x="602.6" y="328.3"/><use href="#d" x="584.5" y="313.8"/><use href="#d" x="566.0" y="346.0"/><use href="#d" x="596.0" y="318.6"/><use href="#d" x="604.7" y="316.8"/><use href="#d" x="571.2" y="321.1"/><use href="#d" x="582.7" y="338.7"/><use href="#d" x="630.1" y="312.2"/><use href="#d" x="591.9" y="322.1"/><use href="#d" x="619.7" y="297.9"/><use href="#d" x="585.9" y="311.9"/><use href="#d" x="606.0" y="316.8"/><use href="#d" x="612.3" y="314.4"/><use href="#d" x="609.3" y="306.1"/><use href="#d" x="559.1" y="357.1"/><use href="#d" x="595.4" y="320.8"/><use href="#d" x="644.4" y="291.8"/><use href="#d" x="603.6" y="331.7"/><use href="#d" x="577.4" y="355.0"/><use href="#d" x="623.7" y="317.6"/><use href="#d" x="621.6" y="296.0"/><use href="#d" x="591.6" y="323.2"/><use href="#d" x="632.8" y="284.4"/><use href="#d" x="570.8" y="388.4"/><use href="#d" x="564.5" y="342.9"/><use href="#d" x="658.1" y="265.0"/><use href="#d" x="621.5" y="296.2"/><use href="#d" x="600.0" y="362.5"/><use href="#d" x="574.2" y="341.1"/><use href="#d" x="647.8" y="282.6"/><use href="#d" x="589.8" y="355.0"/><use href="#d" x="567.9" y="321.3"/><use href="#d" x="603.2" y="311.9"/><use href="#d" x="572.7" y="326.9"/><use href="#d" x="597.5" y="321.8"/><use href="#d" x="587.3" y="328.0"/><use href="#d" x="595.1" y="326.5"/><use href="#d" x="651.5" y="268.0"/><use href="#d" x="554.6" y="348.5"/><use href="#d" x="602.8" y="333.7"/><use href="#d" x="584.4" y="338.7"/><use href="#d" x="636.3" y="303.4"/><use href="#d" x="587.1" y="334.9"/><use href="#d" x="682.6" y="249.3"/><use href="#d" x="578.5" y="344.9"/><use href="#d" x="575.6" y="324.3"/><use href="#d" x="652.9" y="266.4"/><use href="#d" x="551.7" y="335.4"/><use href="#d" x="645.0" y="297.1"/><use href="#d" x="607.0" y="341.1"/><use href="#d" x="603.9" y="309.8"/><use href="#d" x="606.4" y="302.2"/><use href="#d" x="642.7" y="288.2"/><use href="#d" x="556.6" y="333.7"/><use href="#d" x="611.4" y="315.6"/><use href="#d" x="622.5" y="309.0"/><use href="#d" x="581.6" y="317.4"/><use href="#d" x="593.3" y="329.5"/><use href="#d" x="582.4" y="318.8"/><use href="#d" x="577.6" y="310.7"/><use href="#d" x="601.6" y="321.1"/><use href="#d" x="580.2" y="308.0"/><use href="#d" x="631.7" y="306.6"/><use href="#d" x="599.1" y="311.2"/><use href="#d" x="614.3" y="310.2"/><use href="#d" x="566.1" y="304.8"/><use href="#d" x="632.2" y="293.8"/><use href="#d" x="601.5" y="328.0"/><use href="#d" x="572.7" y="313.6"/><use href="#d" x="575.2" y="388.4"/><use href="#d" x="605.4" y="313.5"/><use href="#d" x="663.7" y="271.8"/><use href="#d" x="605.5" y="303.8"/><use href="#d" x="588.2" y="326.9"/><use href="#d" x="627.6" y="290.3"/><use href="#d" x="608.4" y="315.9"/><use href="#d" x="616.4" y="319.2"/><use href="#d" x="612.5" y="333.2"/><use href="#d" x="656.5" y="258.1"/><use href="#d" x="603.0" y="316.6"/><use href="#d" x="617.0" y="319.2"/><use href="#d" x="613.6" y="314.1"/><use href="#d" x="633.5" y="284.1"/><use href="#d" x="619.3" y="320.1"/><use href="#d" x="582.0" y="302.8"/><use href="#d" x="641.7" y="287.9"/><use href="#d" x="638.4" y="292.0"/><use href="#d" x="594.5" y="309.1"/><use href="#d" x="620.6" y="302.6"/><use href="#d" x="661.4" y="275.9"/><use href="#d" x="591.0" y="314.6"/><use href="#d" x="640.9" y="282.5"/><use href="#d" x="567.0" y="321.8"/><use href="#d" x="564.9" y="347.2"/><use href="#d" x="668.2" y="270.4"/><use href="#d" x="572.0" y="325.9"/><use href="#d" x="638.6" y="292.4"/><use href="#d" x="624.2" y="321.8"/><use href="#d" x="583.2" y="334.9"/><use href="#d" x="597.1" y="315.2"/><use href="#d" x="608.9" y="322.6"/><use href="#d" x="584.7" y="313.0"/><use href="#d" x="598.3" y="326.9"/><use href="#d" x="585.1" y="328.3"/><use href="#d" x="568.5" y="355.0"/><use href="#d" x="606.8" y="325.5"/><use href="#d" x="556.7" y="342.0"/><use href="#d" x="593.9" y="317.2"/><use href="#d" x="613.6" y="309.2"/><use href="#d" x="581.0" y="317.0"/><use href="#d" x="605.1" y="342.0"/><use href="#d" x="583.5" y="328.0"/><use href="#d" x="567.4" y="337.3"/><use href="#d" x="589.6" y="336.7"/><use href="#d" x="568.8" y="335.4"/><use href="#d" x="587.2" y="334.9"/><use href="#d" x="635.0" y="288.0"/><use href="#d" x="588.9" y="329.5"/><use href="#d" x="582.9" y="338.7"/><use href="#d" x="620.3" y="292.8"/><use href="#d" x="624.8" y="297.3"/><use href="#d" x="593.4" y="304.3"/><use href="#d" x="617.2" y="309.2"/><use href="#d" x="580.0" y="388.4"/><use href="#d" x="596.0" y="321.1"/><use href="#d" x="572.9" y="338.7"/><use href="#d" x="558.0" y="353.1"/><use href="#d" x="607.4" y="316.5"/><use href="#d" x="583.3" y="329.1"/><use href="#d" x="575.5" y="339.5"/><use href="#d" x="601.9" y="324.0"/><use href="#d" x="623.7" y="311.3"/><use href="#d" x="655.6" y="307.7"/><use href="#d" x="573.1" y="388.4"/><use href="#d" x="593.2" y="305.2"/><use href="#d" x="558.3" y="338.7"/><use href="#d" x="588.6" y="315.2"/><use href="#d" x="613.9" y="322.9"/><use href="#d" x="581.4" y="325.2"/><use href="#d" x="589.7" y="249.1"/><use href="#d" x="603.3" y="308.9"/><use href="#d" x="612.6" y="303.2"/><use href="#d" x="591.8" y="342.9"/><use href="#d" x="625.5" y="289.5"/><use href="#d" x="595.3" y="338.7"/><use href="#d" x="577.9" y="315.1"/><use href="#d" x="653.5" y="275.7"/><use href="#d" x="568.0" y="349.9"/><use href="#d" x="650.9" y="271.7"/><use href="#d" x="565.9" y="335.4"/><use href="#d" x="610.3" y="324.0"/><use href="#d" x="634.7" y="246.8"/><use href="#d" x="571.5" y="328.0"/><use href="#d" x="593.0" y="338.7"/><use href="#d" x="646.8" y="288.7"/><use href="#d" x="550.7" y="388.4"/><use href="#d" x="615.5" y="317.0"/><use href="#d" x="577.2" y="326.5"/><use href="#d" x="610.9" y="362.5"/><use href="#d" x="585.4" y="316.5"/><use href="#d" x="590.9" y="315.1"/><use href="#d" x="616.5" y="333.2"/><use href="#d" x="601.7" y="324.9"/><use href="#d" x="626.8" y="288.0"/><use href="#d" x="630.6" y="303.2"/><use href="#d" x="599.4" y="301.5"/><use href="#d" x="588.5" y="323.2"/><use href="#d" x="655.8" y="283.1"/><use href="#d" x="625.8" y="294.7"/><use href="#d" x="594.8" y="301.8"/><use href="#d" x="573.3" y="340.3"/><use href="#d" x="655.2" y="269.2"/><use href="#d" x="590.5" y="334.9"/><use href="#d" x="618.4" y="312.6"/><use href="#d" x="603.8" y="338.0"/><use href="#d" x="582.4" y="322.6"/><use href="#d" x="596.9" y="318.2"/><use href="#d" x="563.3" y="334.3"/><use href="#d" x="590.6" y="298.1"/><use href="#d" x="579.9" y="342.0"/><use href="#d" x="595.7" y="342.9"/><use href="#d" x="602.4" y="366.1"/><use href="#d" x="579.3" y="347.2"/><use href="#d" x="582.5" y="308.8"/><use href="#d" x="608.8" y="322.6"/><use href="#d" x="602.9" y="334.3"/><use href="#d" x="567.2" y="330.4"/><use href="#d" x="596.2" y="362.5"/><use href="#d" x="621.7" y="280.9"/><use href="#d" x="644.0" y="297.1"/><use href="#d" x="609.0" y="328.3"/><use href="#d" x="579.1" y="333.2"/><use href="#d" x="611.8" y="317.0"/><use href="#d" x="581.9" y="329.5"/><use href="#d" x="580.8" y="337.3"/><use href="#d" x="586.2" y="344.9"/><use href="#d" x="641.3" y="290.1"/><use href="#d" x="605.2" y="310.9"/><use href="#d" x="611.3" y="305.0"/><use href="#d" x="566.5" y="316.5"/><use href="#d" x="570.4" y="327.6"/><use href="#d" x="617.5" y="303.4"/><use href="#d" x="623.0" y="307.4"/><use href="#d" x="560.0" y="342.9"/><use href="#d" x="588.3" y="325.2"/><use href="#d" x="604.2" y="289.3"/><use href="#d" x="575.3" y="329.9"/><use href="#d" x="582.1" y="338.7"/><use href="#d" x="578.2" y="332.2"/><use href="#d" x="604.5" y="324.6"/><use href="#d" x="585.1" y="314.4"/><use href="#d" x="586.5" y="351.4"/><use href="#d" x="599.5" y="332.7"/><use href="#d" x="538.3" y="388.4"/><use href="#d" x="552.6" y="285.2"/><use href="#d" x="672.7" y="252.6"/><use href="#d" x="568.2" y="351.4"/><use href="#d" x="611.2" y="309.5"/><use href="#d" x="666.1" y="272.7"/><use href="#d" x="559.6" y="388.4"/><use href="#d" x="576.4" y="325.2"/><use href="#d" x="593.0" y="332.7"/><use href="#d" x="620.1" y="308.7"/><use href="#d" x="569.0" y="326.9"/><use href="#d" x="594.3" y="334.9"/><use href="#d" x="575.7" y="324.3"/><use href="#d" x="585.6" y="301.4"/><use href="#d" x="600.4" y="322.6"/><use href="#d" x="660.9" y="260.9"/><use href="#d" x="598.3" y="313.0"/><use href="#d" x="570.7" y="348.5"/><use href="#d" x="592.6" y="338.7"/><use href="#d" x="581.3" y="348.5"/><use href="#d" x="579.5" y="355.0"/><use href="#d" x="623.5" y="301.7"/><use href="#d" x="610.5" y="311.1"/><use href="#d" x="569.1" y="329.1"/><use href="#d" x="566.9" y="319.0"/><use href="#d" x="613.3" y="314.6"/><use href="#d" x="592.7" y="308.9"/><use href="#d" x="589.0" y="319.5"/><use href="#d" x="564.8" y="329.9"/><use href="#d" x="556.1" y="342.0"/><use href="#d" x="599.2" y="310.6"/><use href="#d" x="594.1" y="331.3"/><use href="#d" x="591.5" y="316.3"/><use href="#d" x="669.3" y="252.4"/><use href="#d" x="571.3" y="370.7"/><use href="#d" x="567.5" y="347.2"/><use href="#d" x="563.0" y="346.0"/><use href="#d" x="571.0" y="333.7"/><use href="#d" x="561.3" y="333.2"/><use href="#d" x="587.6" y="316.1"/><use href="#d" x="584.0" y="377.3"/><use href="#d" x="615.8" y="292.6"/><use href="#d" x="621.3" y="301.2"/><use href="#d" x="590.4" y="329.1"/><use href="#d" x="572.5" y="347.2"/><use href="#d" x="650.0" y="271.2"/><use href="#d" x="639.2" y="283.2"/><use href="#d" x="608.3" y="318.6"/><use href="#d" x="582.2" y="330.4"/><use href="#d" x="611.5" y="313.9"/><use href="#d" x="604.7" y="346.0"/><use href="#d" x="589.8" y="325.5"/><use href="#d" x="562.5" y="333.2"/><use href="#d" x="544.0" y="347.2"/><use href="#d" x="588.1" y="338.0"/><use href="#d" x="598.8" y="320.6"/><use href="#d" x="580.2" y="323.7"/><use href="#d" x="618.5" y="288.6"/><use href="#d" x="565.4" y="322.9"/><use href="#d" x="605.6" y="311.7"/><use href="#d" x="567.7" y="335.4"/><use href="#d" x="576.3" y="347.2"/><use href="#d" x="635.3" y="334.3"/><use href="#d" x="584.9" y="342.9"/><use href="#d" x="583.8" y="328.7"/><use href="#d" x="578.7" y="317.6"/><use href="#d" x="612.9" y="300.8"/><use href="#d" x="574.8" y="321.1"/><use href="#d" x="588.0" y="325.5"/><use href="#d" x="626.5" y="289.8"/><use href="#d" x="583.4" y="330.8"/><use href="#d" x="614.9" y="329.5"/><use href="#d" x="618.2" y="305.3"/><use href="#d" x="564.6" y="336.0"/><use href="#d" x="565.6" y="357.1"/><use href="#d" x="593.5" y="347.2"/><use href="#d" x="663.0" y="285.8"/><use href="#d" x="633.1" y="297.7"/><use href="#d" x="626.3" y="287.9"/><use href="#d" x="613.0" y="318.0"/><use href="#d" x="595.7" y="308.0"/><use href="#d" x="615.8" y="306.6"/><use href="#d" x="578.6" y="338.7"/><use href="#d" x="575.3" y="353.1"/><use href="#d" x="601.8" y="311.6"/><use href="#d" x="578.9" y="370.7"/><use href="#d" x="600.8" y="336.0"/><use href="#d" x="640.1" y="290.9"/><use href="#d" x="598.0" y="309.3"/><use href="#d" x="620.0" y="312.4"/><use href="#d" x="634.2" y="288.7"/><use href="#d" x="579.6" y="388.4"/><use href="#d" x="589.4" y="335.4"/><use href="#d" x="620.5" y="297.5"/><use href="#d" x="616.6" y="320.1"/><use href="#d" x="605.8" y="333.2"/><use href="#d" x="629.2" y="309.9"/><use href="#d" x="609.8" y="318.2"/><use href="#d" x="596.4" y="377.3"/><use href="#d" x="584.6" y="328.7"/><use href="#d" x="586.9" y="319.9"/><use href="#d" x="606.5" y="301.2"/><use href="#d" x="597.0" y="326.2"/><use href="#d" x="659.4" y="320.6"/><use href="#d" x="599.9" y="322.9"/><use href="#d" x="577.8" y="324.3"/><use href="#d" x="643.2" y="270.9"/><use href="#d" x="632.4" y="310.9"/><use href="#d" x="610.2" y="338.7"/><use href="#d" x="570.6" y="334.9"/><use href="#d" x="577.7" y="320.6"/><use href="#d" x="591.3" y="321.8"/><use href="#d" x="569.9" y="377.3"/><use href="#d" x="584.1" y="324.6"/><use href="#d" x="625.1" y="283.1"/><use href="#d" x="602.0" y="332.2"/><use href="#d" x="661.8" y="268.2"/><use href="#d" x="622.7" y="313.3"/><use href="#d" x="631.0" y="287.2"/><use href="#d" x="645.2" y="272.8"/><use href="#d" x="588.6" y="310.3"/><use href="#d" x="569.6" y="338.7"/><use href="#d" x="587.0" y="325.5"/><use href="#d" x="607.1" y="308.7"/><use href="#d" x="598.4" y="291.3"/><use href="#d" x="592.3" y="320.6"/><use href="#d" x="646.1" y="279.9"/><use href="#d" x="592.1" y="320.8"/><use href="#d" x="662.5" y="267.8"/><use href="#d" x="667.2" y="259.3"/><use href="#d" x="623.9" y="315.7"/><use href="#d" x="564.0" y="342.0"/><use href="#d" x="645.6" y="293.6"/><use href="#d" x="600.9" y="320.8"/><use href="#d" x="678.1" y="258.5"/><use href="#d" x="576.3" y="324.6"/><use href="#d" x="626.0" y="287.6"/><use href="#d" x="589.5" y="338.7"/><use href="#d" x="643.0" y="291.3"/><use href="#d" x="622.0" y="300.1"/><use href="#d" x="603.5" y="303.6"/><use href="#d" x="543.9" y="329.5"/><use href="#d" x="578.0" y="324.9"/><use href="#d" x="594.6" y="323.4"/><use href="#d" x="680.0" y="254.6"/><use href="#d" x="590.1" y="320.6"/><use href="#d" x="648.3" y="275.4"/><use href="#d" x="614.0" y="308.9"/><use href="#d" x="557.3" y="347.2"/><use href="#d" x="620.8" y="320.1"/><use href="#d" x="625.2" y="329.5"/><use href="#d" x="597.4" y="325.5"/><use href="#d" x="574.5" y="346.0"/><use href="#d" x="642.5" y="282.0"/></g><line x1="543.00" y1="361.60" x2="682.20" y2="254.30" stroke="#2a2a2a" stroke-width="1.2"/><rect x="534.4" y="245.4" width="148.4" height="151.3" fill="none" stroke="#7a7a7a" stroke-width="0.8"/><line x1="531.20" y1="388.40" x2="534.40" y2="388.40" stroke="#333" stroke-width="0.75"/><text x="529.8" y="390.7" font-size="7" fill="#222" text-anchor="end">10<tspan font-size="4.6" dy="-2.6">0</tspan></text><line x1="532.60" y1="377.26" x2="534.40" y2="377.26" stroke="#333" stroke-width="0.55"/><line x1="532.60" y1="370.75" x2="534.40" y2="370.75" stroke="#333" stroke-width="0.55"/><line x1="532.60" y1="366.12" x2="534.40" y2="366.12" stroke="#333" stroke-width="0.55"/><line x1="532.60" y1="362.54" x2="534.40" y2="362.54" stroke="#333" stroke-width="0.55"/><line x1="532.60" y1="359.61" x2="534.40" y2="359.61" stroke="#333" stroke-width="0.55"/><line x1="532.60" y1="357.13" x2="534.40" y2="357.13" stroke="#333" stroke-width="0.55"/><line x1="532.60" y1="354.99" x2="534.40" y2="354.99" stroke="#333" stroke-width="0.55"/><line x1="532.60" y1="353.09" x2="534.40" y2="353.09" stroke="#333" stroke-width="0.55"/><line x1="531.20" y1="351.40" x2="534.40" y2="351.40" stroke="#333" stroke-width="0.75"/><text x="529.8" y="353.7" font-size="7" fill="#222" text-anchor="end">10<tspan font-size="4.6" dy="-2.6">1</tspan></text><line x1="532.60" y1="340.26" x2="534.40" y2="340.26" stroke="#333" stroke-width="0.55"/><line x1="532.60" y1="333.75" x2="534.40" y2="333.75" stroke="#333" stroke-width="0.55"/><line x1="532.60" y1="329.12" x2="534.40" y2="329.12" stroke="#333" stroke-width="0.55"/><line x1="532.60" y1="325.54" x2="534.40" y2="325.54" stroke="#333" stroke-width="0.55"/><line x1="532.60" y1="322.61" x2="534.40" y2="322.61" stroke="#333" stroke-width="0.55"/><line x1="532.60" y1="320.13" x2="534.40" y2="320.13" stroke="#333" stroke-width="0.55"/><line x1="532.60" y1="317.99" x2="534.40" y2="317.99" stroke="#333" stroke-width="0.55"/><line x1="532.60" y1="316.09" x2="534.40" y2="316.09" stroke="#333" stroke-width="0.55"/><line x1="531.20" y1="314.40" x2="534.40" y2="314.40" stroke="#333" stroke-width="0.75"/><text x="529.8" y="316.7" font-size="7" fill="#222" text-anchor="end">10<tspan font-size="4.6" dy="-2.6">2</tspan></text><line x1="532.60" y1="303.26" x2="534.40" y2="303.26" stroke="#333" stroke-width="0.55"/><line x1="532.60" y1="296.75" x2="534.40" y2="296.75" stroke="#333" stroke-width="0.55"/><line x1="532.60" y1="292.12" x2="534.40" y2="292.12" stroke="#333" stroke-width="0.55"/><line x1="532.60" y1="288.54" x2="534.40" y2="288.54" stroke="#333" stroke-width="0.55"/><line x1="532.60" y1="285.61" x2="534.40" y2="285.61" stroke="#333" stroke-width="0.55"/><line x1="532.60" y1="283.13" x2="534.40" y2="283.13" stroke="#333" stroke-width="0.55"/><line x1="532.60" y1="280.99" x2="534.40" y2="280.99" stroke="#333" stroke-width="0.55"/><line x1="532.60" y1="279.09" x2="534.40" y2="279.09" stroke="#333" stroke-width="0.55"/><line x1="531.20" y1="277.40" x2="534.40" y2="277.40" stroke="#333" stroke-width="0.75"/><text x="529.8" y="279.7" font-size="7" fill="#222" text-anchor="end">10<tspan font-size="4.6" dy="-2.6">3</tspan></text><line x1="532.60" y1="266.26" x2="534.40" y2="266.26" stroke="#333" stroke-width="0.55"/><line x1="532.60" y1="259.75" x2="534.40" y2="259.75" stroke="#333" stroke-width="0.55"/><line x1="532.60" y1="255.12" x2="534.40" y2="255.12" stroke="#333" stroke-width="0.55"/><line x1="532.60" y1="251.54" x2="534.40" y2="251.54" stroke="#333" stroke-width="0.55"/><line x1="532.60" y1="248.61" x2="534.40" y2="248.61" stroke="#333" stroke-width="0.55"/><line x1="532.60" y1="246.13" x2="534.40" y2="246.13" stroke="#333" stroke-width="0.55"/><line x1="535.80" y1="396.70" x2="535.80" y2="398.50" stroke="#333" stroke-width="0.55"/><line x1="543.06" y1="396.70" x2="543.06" y2="398.50" stroke="#333" stroke-width="0.55"/><line x1="548.20" y1="396.70" x2="548.20" y2="398.50" stroke="#333" stroke-width="0.55"/><line x1="552.20" y1="396.70" x2="552.20" y2="398.50" stroke="#333" stroke-width="0.55"/><line x1="555.46" y1="396.70" x2="555.46" y2="398.50" stroke="#333" stroke-width="0.55"/><line x1="558.22" y1="396.70" x2="558.22" y2="398.50" stroke="#333" stroke-width="0.55"/><line x1="560.61" y1="396.70" x2="560.61" y2="398.50" stroke="#333" stroke-width="0.55"/><line x1="562.71" y1="396.70" x2="562.71" y2="398.50" stroke="#333" stroke-width="0.55"/><line x1="564.60" y1="396.70" x2="564.60" y2="399.90" stroke="#333" stroke-width="0.75"/><text x="565.0" y="406.2" font-size="7.0" fill="#222" text-anchor="middle">10<tspan font-size="4.6" dy="-2.6">1</tspan></text><line x1="577.00" y1="396.70" x2="577.00" y2="398.50" stroke="#333" stroke-width="0.55"/><line x1="584.26" y1="396.70" x2="584.26" y2="398.50" stroke="#333" stroke-width="0.55"/><line x1="589.40" y1="396.70" x2="589.40" y2="398.50" stroke="#333" stroke-width="0.55"/><line x1="593.40" y1="396.70" x2="593.40" y2="398.50" stroke="#333" stroke-width="0.55"/><line x1="596.66" y1="396.70" x2="596.66" y2="398.50" stroke="#333" stroke-width="0.55"/><line x1="599.42" y1="396.70" x2="599.42" y2="398.50" stroke="#333" stroke-width="0.55"/><line x1="601.81" y1="396.70" x2="601.81" y2="398.50" stroke="#333" stroke-width="0.55"/><line x1="603.91" y1="396.70" x2="603.91" y2="398.50" stroke="#333" stroke-width="0.55"/><line x1="605.80" y1="396.70" x2="605.80" y2="399.90" stroke="#333" stroke-width="0.75"/><text x="606.2" y="406.2" font-size="7.0" fill="#222" text-anchor="middle">10<tspan font-size="4.6" dy="-2.6">2</tspan></text><line x1="618.20" y1="396.70" x2="618.20" y2="398.50" stroke="#333" stroke-width="0.55"/><line x1="625.46" y1="396.70" x2="625.46" y2="398.50" stroke="#333" stroke-width="0.55"/><line x1="630.60" y1="396.70" x2="630.60" y2="398.50" stroke="#333" stroke-width="0.55"/><line x1="634.60" y1="396.70" x2="634.60" y2="398.50" stroke="#333" stroke-width="0.55"/><line x1="637.86" y1="396.70" x2="637.86" y2="398.50" stroke="#333" stroke-width="0.55"/><line x1="640.62" y1="396.70" x2="640.62" y2="398.50" stroke="#333" stroke-width="0.55"/><line x1="643.01" y1="396.70" x2="643.01" y2="398.50" stroke="#333" stroke-width="0.55"/><line x1="645.11" y1="396.70" x2="645.11" y2="398.50" stroke="#333" stroke-width="0.55"/><line x1="647.00" y1="396.70" x2="647.00" y2="399.90" stroke="#333" stroke-width="0.75"/><text x="647.4" y="406.2" font-size="7.0" fill="#222" text-anchor="middle">10<tspan font-size="4.6" dy="-2.6">3</tspan></text><line x1="659.40" y1="396.70" x2="659.40" y2="398.50" stroke="#333" stroke-width="0.55"/><line x1="666.66" y1="396.70" x2="666.66" y2="398.50" stroke="#333" stroke-width="0.55"/><line x1="671.80" y1="396.70" x2="671.80" y2="398.50" stroke="#333" stroke-width="0.55"/><line x1="675.80" y1="396.70" x2="675.80" y2="398.50" stroke="#333" stroke-width="0.55"/><line x1="679.06" y1="396.70" x2="679.06" y2="398.50" stroke="#333" stroke-width="0.55"/><line x1="681.82" y1="396.70" x2="681.82" y2="398.50" stroke="#333" stroke-width="0.55"/><text x="515.7" y="321.6" font-size="9.2" fill="#222" text-anchor="middle" textLength="134.0" lengthAdjust="spacingAndGlyphs" transform="rotate(-90 515.7 321.6)">Predicted Tumor Volume (mm3)</text><text x="342.0" y="440.8" font-size="14" fill="#222" textLength="130.7" lengthAdjust="spacingAndGlyphs" stroke="#222" stroke-width="0.15">Dataset: UCSF BMSR</text><text x="343.9" y="452.1" font-size="7.4" fill="#222" textLength="127.6" lengthAdjust="spacingAndGlyphs">Pearson r=0.09, p=1.10e-05 (two-sided)</text><text x="536.8" y="452.1" font-size="7.4" fill="#222" textLength="131.6" lengthAdjust="spacingAndGlyphs">Pearson r=0.83, p=0.00e+00 (two-sided)</text><g fill="#0e0eff"><use href="#d" x="389.2" y="508.1"/><use href="#d" x="379.3" y="578.3"/><use href="#d" x="442.9" y="486.0"/><use href="#d" x="411.1" y="558.8"/><use href="#d" x="395.5" y="486.7"/><use href="#d" x="422.9" y="548.0"/><use href="#d" x="405.2" y="492.1"/><use href="#d" x="408.6" y="487.1"/><use href="#d" x="375.5" y="588.0"/><use href="#d" x="386.7" y="506.0"/><use href="#d" x="381.0" y="607.4"/><use href="#d" x="410.5" y="490.6"/><use href="#d" x="375.2" y="568.7"/><use href="#d" x="404.5" y="491.3"/><use href="#d" x="412.8" y="468.9"/><use href="#d" x="394.6" y="501.0"/><use href="#d" x="396.0" y="514.3"/><use href="#d" x="387.0" y="562.5"/><use href="#d" x="413.6" y="485.0"/><use href="#d" x="416.8" y="510.5"/><use href="#d" x="385.0" y="519.6"/><use href="#d" x="456.0" y="493.8"/><use href="#d" x="408.9" y="476.6"/><use href="#d" x="406.9" y="503.2"/><use href="#d" x="382.9" y="530.2"/><use href="#d" x="414.8" y="511.5"/><use href="#d" x="392.7" y="482.3"/><use href="#d" x="414.6" y="501.5"/><use href="#d" x="455.8" y="486.7"/><use href="#d" x="390.7" y="495.3"/><use href="#d" x="376.5" y="545.2"/><use href="#d" x="365.8" y="597.0"/><use href="#d" x="387.5" y="517.0"/><use href="#d" x="379.5" y="533.3"/><use href="#d" x="416.6" y="495.7"/><use href="#d" x="386.0" y="541.8"/><use href="#d" x="395.5" y="531.1"/><use href="#d" x="459.7" y="487.3"/><use href="#d" x="411.8" y="491.5"/><use href="#d" x="456.4" y="478.9"/><use href="#d" x="422.0" y="495.0"/><use href="#d" x="428.5" y="490.4"/><use href="#d" x="407.7" y="512.1"/><use href="#d" x="398.7" y="493.0"/><use href="#d" x="402.0" y="507.9"/><use href="#d" x="447.7" y="473.3"/><use href="#d" x="392.7" y="494.7"/><use href="#d" x="381.2" y="560.6"/><use href="#d" x="386.1" y="485.0"/><use href="#d" x="392.2" y="519.2"/><use href="#d" x="419.8" y="546.9"/><use href="#d" x="425.3" y="494.2"/><use href="#d" x="412.7" y="501.5"/><use href="#d" x="413.9" y="495.9"/><use href="#d" x="443.9" y="545.1"/><use href="#d" x="396.5" y="606.5"/><use href="#d" x="375.1" y="552.3"/><use href="#d" x="385.7" y="502.8"/><use href="#d" x="373.6" y="493.6"/><use href="#d" x="401.3" y="516.1"/><use href="#d" x="422.1" y="516.6"/><use href="#d" x="406.8" y="503.9"/><use href="#d" x="364.9" y="528.9"/><use href="#d" x="412.2" y="586.7"/><use href="#d" x="371.1" y="574.2"/><use href="#d" x="399.2" y="553.7"/><use href="#d" x="421.4" y="474.0"/><use href="#d" x="380.1" y="503.9"/><use href="#d" x="407.2" y="515.1"/><use href="#d" x="374.2" y="528.0"/><use href="#d" x="462.2" y="500.0"/><use href="#d" x="414.9" y="506.8"/><use href="#d" x="403.4" y="526.0"/><use href="#d" x="392.6" y="520.4"/><use href="#d" x="400.0" y="540.6"/><use href="#d" x="435.3" y="505.7"/><use href="#d" x="393.7" y="497.3"/><use href="#d" x="396.3" y="505.6"/><use href="#d" x="423.3" y="505.7"/><use href="#d" x="410.1" y="580.1"/><use href="#d" x="397.3" y="522.1"/><use href="#d" x="384.3" y="491.3"/><use href="#d" x="379.6" y="593.7"/><use href="#d" x="381.9" y="567.8"/><use href="#d" x="450.3" y="488.4"/><use href="#d" x="383.2" y="540.8"/><use href="#d" x="419.2" y="511.4"/><use href="#d" x="432.2" y="488.4"/><use href="#d" x="379.2" y="536.4"/><use href="#d" x="400.2" y="500.6"/><use href="#d" x="385.5" y="521.7"/><use href="#d" x="368.9" y="551.8"/><use href="#d" x="375.3" y="522.0"/><use href="#d" x="403.1" y="492.7"/><use href="#d" x="390.2" y="500.0"/><use href="#d" x="399.3" y="507.3"/><use href="#d" x="394.9" y="512.3"/><use href="#d" x="449.5" y="467.7"/><use href="#d" x="457.8" y="494.9"/><use href="#d" x="451.6" y="472.8"/><use href="#d" x="384.3" y="485.3"/><use href="#d" x="418.6" y="467.5"/><use href="#d" x="380.8" y="533.5"/><use href="#d" x="376.9" y="535.7"/><use href="#d" x="398.7" y="556.1"/><use href="#d" x="403.2" y="522.5"/><use href="#d" x="456.8" y="508.9"/><use href="#d" x="451.3" y="504.0"/><use href="#d" x="414.7" y="527.0"/><use href="#d" x="368.8" y="602.7"/><use href="#d" x="367.2" y="579.9"/><use href="#d" x="385.2" y="544.9"/><use href="#d" x="384.9" y="481.8"/><use href="#d" x="410.5" y="494.9"/><use href="#d" x="379.1" y="499.0"/><use href="#d" x="397.0" y="500.6"/><use href="#d" x="426.4" y="507.3"/><use href="#d" x="373.2" y="558.1"/><use href="#d" x="369.8" y="555.4"/><use href="#d" x="397.9" y="482.8"/><use href="#d" x="452.6" y="497.4"/><use href="#d" x="453.2" y="528.4"/><use href="#d" x="399.2" y="507.0"/><use href="#d" x="376.6" y="521.2"/><use href="#d" x="400.6" y="480.5"/><use href="#d" x="384.7" y="509.5"/><use href="#d" x="373.6" y="485.5"/><use href="#d" x="400.9" y="477.3"/><use href="#d" x="398.7" y="469.5"/><use href="#d" x="389.2" y="491.4"/><use href="#d" x="486.8" y="561.2"/><use href="#d" x="386.8" y="503.0"/><use href="#d" x="378.8" y="539.4"/><use href="#d" x="416.3" y="490.9"/><use href="#d" x="382.3" y="506.9"/><use href="#d" x="441.1" y="549.2"/><use href="#d" x="468.7" y="478.5"/><use href="#d" x="418.2" y="511.5"/><use href="#d" x="439.9" y="488.1"/><use href="#d" x="366.6" y="523.0"/><use href="#d" x="383.2" y="498.5"/><use href="#d" x="385.5" y="521.3"/><use href="#d" x="377.5" y="505.9"/><use href="#d" x="454.5" y="490.0"/><use href="#d" x="407.0" y="492.6"/><use href="#d" x="396.1" y="516.1"/><use href="#d" x="425.1" y="501.4"/><use href="#d" x="412.9" y="478.7"/><use href="#d" x="423.5" y="521.0"/><use href="#d" x="463.2" y="502.7"/><use href="#d" x="392.0" y="484.4"/><use href="#d" x="397.5" y="608.9"/><use href="#d" x="408.1" y="535.1"/><use href="#d" x="376.8" y="503.2"/><use href="#d" x="380.0" y="479.6"/><use href="#d" x="395.6" y="507.5"/><use href="#d" x="383.8" y="512.9"/><use href="#d" x="421.2" y="527.1"/><use href="#d" x="366.9" y="533.3"/><use href="#d" x="381.1" y="516.3"/><use href="#d" x="411.7" y="542.6"/><use href="#d" x="432.1" y="493.1"/><use href="#d" x="360.9" y="573.7"/><use href="#d" x="453.2" y="476.6"/><use href="#d" x="376.0" y="543.6"/><use href="#d" x="391.0" y="597.8"/><use href="#d" x="379.0" y="553.5"/><use href="#d" x="400.5" y="468.0"/><use href="#d" x="391.0" y="518.6"/><use href="#d" x="393.4" y="512.8"/><use href="#d" x="370.2" y="523.9"/><use href="#d" x="394.5" y="487.8"/><use href="#d" x="358.3" y="561.3"/><use href="#d" x="407.8" y="532.0"/><use href="#d" x="382.9" y="585.5"/><use href="#d" x="430.5" y="499.1"/><use href="#d" x="410.3" y="573.6"/><use href="#d" x="394.6" y="508.5"/><use href="#d" x="374.7" y="526.0"/><use href="#d" x="387.9" y="513.6"/><use href="#d" x="409.3" y="530.5"/><use href="#d" x="395.1" y="524.2"/><use href="#d" x="436.6" y="550.9"/><use href="#d" x="389.5" y="583.4"/><use href="#d" x="410.6" y="490.4"/><use href="#d" x="404.6" y="516.7"/><use href="#d" x="427.5" y="520.2"/><use href="#d" x="430.6" y="484.7"/><use href="#d" x="402.1" y="500.3"/><use href="#d" x="412.5" y="571.7"/><use href="#d" x="390.5" y="509.8"/><use href="#d" x="435.0" y="489.5"/><use href="#d" x="389.6" y="524.0"/><use href="#d" x="410.4" y="511.1"/><use href="#d" x="393.6" y="528.7"/><use href="#d" x="469.4" y="488.7"/><use href="#d" x="395.3" y="577.8"/><use href="#d" x="453.7" y="485.4"/><use href="#d" x="393.8" y="510.1"/><use href="#d" x="417.0" y="523.0"/><use href="#d" x="461.6" y="487.6"/><use href="#d" x="412.0" y="536.1"/><use href="#d" x="378.1" y="556.4"/><use href="#d" x="396.1" y="508.0"/><use href="#d" x="409.4" y="524.7"/><use href="#d" x="474.2" y="490.4"/><use href="#d" x="457.3" y="544.6"/><use href="#d" x="419.9" y="490.0"/><use href="#d" x="395.8" y="521.9"/><use href="#d" x="451.4" y="474.4"/><use href="#d" x="392.3" y="473.7"/><use href="#d" x="433.9" y="491.4"/><use href="#d" x="434.3" y="515.3"/><use href="#d" x="408.3" y="491.9"/><use href="#d" x="446.6" y="520.9"/><use href="#d" x="382.0" y="504.4"/><use href="#d" x="398.9" y="513.1"/><use href="#d" x="362.4" y="552.2"/><use href="#d" x="429.9" y="493.1"/><use href="#d" x="439.5" y="479.8"/><use href="#d" x="381.8" y="528.4"/><use href="#d" x="428.3" y="527.7"/><use href="#d" x="389.3" y="497.7"/><use href="#d" x="378.5" y="538.9"/><use href="#d" x="372.6" y="491.8"/><use href="#d" x="472.2" y="476.9"/><use href="#d" x="381.2" y="477.3"/><use href="#d" x="424.5" y="470.6"/><use href="#d" x="428.6" y="585.7"/><use href="#d" x="391.7" y="514.9"/><use href="#d" x="386.2" y="522.8"/><use href="#d" x="442.6" y="510.8"/><use href="#d" x="401.6" y="509.1"/><use href="#d" x="411.3" y="525.2"/><use href="#d" x="403.6" y="528.3"/><use href="#d" x="433.5" y="494.5"/><use href="#d" x="438.2" y="509.9"/><use href="#d" x="400.4" y="572.2"/><use href="#d" x="393.1" y="526.6"/><use href="#d" x="384.6" y="496.9"/><use href="#d" x="426.3" y="504.2"/><use href="#d" x="462.0" y="496.5"/><use href="#d" x="371.2" y="551.3"/><use href="#d" x="394.2" y="479.7"/><use href="#d" x="441.5" y="500.9"/><use href="#d" x="386.7" y="473.5"/><use href="#d" x="393.3" y="515.5"/><use href="#d" x="371.0" y="526.1"/><use href="#d" x="430.0" y="514.8"/><use href="#d" x="376.6" y="582.4"/><use href="#d" x="454.1" y="496.6"/><use href="#d" x="419.4" y="494.8"/><use href="#d" x="395.6" y="495.8"/><use href="#d" x="387.8" y="511.9"/><use href="#d" x="450.8" y="475.8"/><use href="#d" x="354.7" y="601.6"/><use href="#d" x="399.6" y="537.0"/><use href="#d" x="429.0" y="501.8"/><use href="#d" x="372.0" y="499.7"/><use href="#d" x="359.8" y="594.9"/><use href="#d" x="441.8" y="513.0"/><use href="#d" x="424.6" y="586.5"/><use href="#d" x="384.8" y="489.0"/><use href="#d" x="369.4" y="562.2"/><use href="#d" x="413.8" y="488.8"/><use href="#d" x="459.8" y="506.8"/><use href="#d" x="387.2" y="496.3"/><use href="#d" x="372.1" y="589.0"/><use href="#d" x="415.3" y="493.9"/><use href="#d" x="398.6" y="519.1"/><use href="#d" x="407.0" y="497.5"/><use href="#d" x="398.0" y="578.9"/><use href="#d" x="412.0" y="489.4"/><use href="#d" x="390.5" y="592.6"/><use href="#d" x="388.3" y="546.3"/><use href="#d" x="397.3" y="524.3"/><use href="#d" x="376.9" y="526.9"/><use href="#d" x="388.7" y="575.4"/><use href="#d" x="428.5" y="491.5"/><use href="#d" x="381.9" y="510.6"/><use href="#d" x="435.9" y="483.8"/><use href="#d" x="394.5" y="489.9"/><use href="#d" x="391.9" y="496.7"/><use href="#d" x="383.5" y="525.2"/><use href="#d" x="432.9" y="511.4"/><use href="#d" x="375.0" y="569.8"/><use href="#d" x="409.0" y="519.3"/><use href="#d" x="397.5" y="500.8"/><use href="#d" x="438.4" y="475.1"/><use href="#d" x="392.2" y="510.0"/><use href="#d" x="382.1" y="512.6"/><use href="#d" x="382.2" y="511.1"/><use href="#d" x="432.7" y="491.9"/><use href="#d" x="415.6" y="502.3"/><use href="#d" x="441.3" y="507.8"/><use href="#d" x="416.2" y="492.9"/><use href="#d" x="375.6" y="514.8"/><use href="#d" x="364.2" y="533.4"/><use href="#d" x="422.8" y="521.8"/><use href="#d" x="414.2" y="490.1"/><use href="#d" x="467.1" y="466.8"/><use href="#d" x="386.2" y="529.0"/><use href="#d" x="421.0" y="540.3"/><use href="#d" x="376.5" y="495.9"/><use href="#d" x="389.7" y="492.8"/><use href="#d" x="436.0" y="501.3"/><use href="#d" x="388.9" y="519.8"/><use href="#d" x="402.2" y="493.6"/><use href="#d" x="384.1" y="495.4"/><use href="#d" x="417.4" y="506.8"/><use href="#d" x="441.4" y="501.6"/><use href="#d" x="395.7" y="501.0"/><use href="#d" x="402.6" y="524.6"/><use href="#d" x="383.0" y="473.4"/><use href="#d" x="434.5" y="505.9"/><use href="#d" x="406.4" y="483.0"/><use href="#d" x="367.0" y="532.6"/><use href="#d" x="385.3" y="558.3"/><use href="#d" x="395.0" y="515.4"/><use href="#d" x="396.9" y="525.2"/><use href="#d" x="386.5" y="538.5"/><use href="#d" x="391.8" y="547.2"/><use href="#d" x="433.0" y="480.9"/><use href="#d" x="373.5" y="487.9"/><use href="#d" x="372.6" y="504.8"/><use href="#d" x="379.6" y="559.4"/><use href="#d" x="380.8" y="506.1"/><use href="#d" x="389.9" y="503.6"/><use href="#d" x="376.9" y="586.5"/><use href="#d" x="397.9" y="499.2"/><use href="#d" x="348.7" y="577.4"/><use href="#d" x="395.7" y="493.3"/><use href="#d" x="465.8" y="479.4"/><use href="#d" x="384.6" y="513.5"/><use href="#d" x="372.4" y="479.4"/><use href="#d" x="399.5" y="511.0"/><use href="#d" x="406.6" y="493.4"/><use href="#d" x="369.0" y="518.4"/><use href="#d" x="375.6" y="550.6"/><use href="#d" x="399.1" y="513.8"/><use href="#d" x="381.8" y="547.7"/><use href="#d" x="458.6" y="498.9"/><use href="#d" x="456.5" y="498.6"/><use href="#d" x="372.4" y="604.8"/><use href="#d" x="470.5" y="527.2"/><use href="#d" x="403.3" y="496.8"/><use href="#d" x="373.7" y="562.6"/><use href="#d" x="425.9" y="528.4"/><use href="#d" x="372.3" y="576.5"/><use href="#d" x="391.1" y="576.3"/><use href="#d" x="383.5" y="527.1"/><use href="#d" x="426.1" y="496.6"/><use href="#d" x="434.7" y="544.2"/><use href="#d" x="447.6" y="471.3"/><use href="#d" x="437.2" y="479.2"/><use href="#d" x="375.9" y="520.3"/><use href="#d" x="373.3" y="555.8"/><use href="#d" x="420.8" y="485.2"/><use href="#d" x="408.9" y="519.6"/><use href="#d" x="387.8" y="534.6"/><use href="#d" x="395.2" y="589.3"/><use href="#d" x="382.6" y="489.9"/><use href="#d" x="384.0" y="517.0"/><use href="#d" x="404.5" y="591.4"/><use href="#d" x="431.4" y="524.9"/><use href="#d" x="445.2" y="516.0"/><use href="#d" x="410.9" y="481.6"/><use href="#d" x="378.2" y="496.4"/><use href="#d" x="373.1" y="532.9"/><use href="#d" x="389.4" y="534.1"/><use href="#d" x="442.5" y="508.1"/><use href="#d" x="474.5" y="530.4"/><use href="#d" x="428.1" y="553.4"/><use href="#d" x="372.5" y="516.1"/><use href="#d" x="397.0" y="605.5"/><use href="#d" x="450.1" y="483.1"/><use href="#d" x="369.7" y="509.7"/><use href="#d" x="417.0" y="560.3"/><use href="#d" x="465.0" y="480.1"/><use href="#d" x="395.9" y="505.4"/><use href="#d" x="396.5" y="541.6"/><use href="#d" x="429.8" y="512.3"/><use href="#d" x="438.8" y="495.0"/><use href="#d" x="377.8" y="531.1"/><use href="#d" x="415.7" y="505.2"/><use href="#d" x="381.7" y="488.6"/><use href="#d" x="443.3" y="521.0"/><use href="#d" x="369.5" y="583.0"/><use href="#d" x="440.7" y="474.2"/><use href="#d" x="386.4" y="481.0"/><use href="#d" x="373.6" y="512.2"/><use href="#d" x="431.2" y="490.1"/><use href="#d" x="362.6" y="527.0"/><use href="#d" x="451.2" y="476.4"/><use href="#d" x="415.4" y="503.4"/><use href="#d" x="431.8" y="499.8"/><use href="#d" x="419.1" y="577.7"/><use href="#d" x="428.0" y="491.0"/><use href="#d" x="399.3" y="491.7"/><use href="#d" x="402.7" y="500.0"/><use href="#d" x="406.3" y="479.4"/><use href="#d" x="372.3" y="602.8"/><use href="#d" x="387.6" y="507.1"/><use href="#d" x="481.3" y="536.0"/><use href="#d" x="438.9" y="506.5"/><use href="#d" x="424.8" y="481.2"/><use href="#d" x="445.8" y="468.7"/><use href="#d" x="403.5" y="513.3"/><use href="#d" x="445.7" y="489.2"/><use href="#d" x="437.6" y="482.9"/><use href="#d" x="382.6" y="590.0"/><use href="#d" x="398.0" y="556.2"/><use href="#d" x="414.1" y="499.7"/><use href="#d" x="435.7" y="517.4"/><use href="#d" x="455.3" y="477.5"/><use href="#d" x="371.6" y="540.1"/><use href="#d" x="389.7" y="509.3"/><use href="#d" x="376.1" y="544.3"/><use href="#d" x="402.3" y="548.4"/><use href="#d" x="435.5" y="478.9"/><use href="#d" x="421.9" y="497.1"/><use href="#d" x="384.2" y="596.0"/><use href="#d" x="403.0" y="600.8"/><use href="#d" x="432.2" y="497.8"/><use href="#d" x="417.7" y="502.9"/><use href="#d" x="450.9" y="499.8"/><use href="#d" x="386.4" y="509.6"/><use href="#d" x="403.9" y="604.0"/><use href="#d" x="458.0" y="489.5"/><use href="#d" x="377.9" y="540.7"/><use href="#d" x="390.3" y="487.4"/><use href="#d" x="410.2" y="508.1"/><use href="#d" x="391.4" y="532.2"/><use href="#d" x="374.4" y="504.0"/><use href="#d" x="437.5" y="485.7"/><use href="#d" x="457.6" y="506.5"/><use href="#d" x="359.0" y="514.6"/><use href="#d" x="380.6" y="497.8"/><use href="#d" x="375.4" y="493.9"/><use href="#d" x="383.7" y="529.4"/><use href="#d" x="388.7" y="603.7"/><use href="#d" x="394.4" y="581.0"/><use href="#d" x="457.2" y="492.0"/><use href="#d" x="433.0" y="506.2"/><use href="#d" x="410.0" y="504.4"/><use href="#d" x="411.2" y="556.8"/><use href="#d" x="391.2" y="527.9"/><use href="#d" x="412.1" y="505.4"/><use href="#d" x="418.2" y="513.0"/><use href="#d" x="378.1" y="594.6"/><use href="#d" x="379.0" y="502.3"/><use href="#d" x="400.3" y="489.1"/><use href="#d" x="389.1" y="593.5"/><use href="#d" x="381.6" y="474.9"/><use href="#d" x="421.6" y="487.0"/><use href="#d" x="433.6" y="513.7"/><use href="#d" x="345.8" y="568.8"/><use href="#d" x="468.3" y="495.2"/><use href="#d" x="382.4" y="518.5"/><use href="#d" x="400.9" y="591.9"/><use href="#d" x="388.8" y="529.5"/><use href="#d" x="390.8" y="490.3"/><use href="#d" x="410.8" y="482.6"/><use href="#d" x="399.8" y="524.8"/><use href="#d" x="448.6" y="491.4"/><use href="#d" x="395.9" y="514.7"/><use href="#d" x="441.7" y="496.7"/><use href="#d" x="368.1" y="593.0"/><use href="#d" x="399.6" y="518.9"/><use href="#d" x="452.6" y="484.1"/><use href="#d" x="423.7" y="534.0"/><use href="#d" x="452.0" y="482.5"/><use href="#d" x="387.7" y="503.0"/><use href="#d" x="375.5" y="519.4"/><use href="#d" x="447.8" y="486.4"/><use href="#d" x="394.9" y="516.2"/><use href="#d" x="367.5" y="547.2"/><use href="#d" x="389.9" y="499.3"/><use href="#d" x="408.5" y="527.4"/><use href="#d" x="411.6" y="485.4"/><use href="#d" x="400.3" y="494.4"/><use href="#d" x="408.0" y="555.0"/><use href="#d" x="400.7" y="522.5"/><use href="#d" x="440.4" y="521.9"/><use href="#d" x="435.4" y="561.5"/><use href="#d" x="407.6" y="522.1"/><use href="#d" x="442.9" y="497.6"/><use href="#d" x="423.3" y="487.5"/><use href="#d" x="417.2" y="482.3"/><use href="#d" x="402.8" y="502.6"/><use href="#d" x="391.6" y="483.8"/><use href="#d" x="368.6" y="520.7"/><use href="#d" x="374.6" y="506.8"/><use href="#d" x="407.4" y="565.0"/><use href="#d" x="397.2" y="504.0"/><use href="#d" x="392.3" y="494.1"/><use href="#d" x="405.1" y="497.0"/><use href="#d" x="374.7" y="530.2"/><use href="#d" x="406.2" y="510.8"/><use href="#d" x="405.8" y="484.6"/><use href="#d" x="404.3" y="518.1"/><use href="#d" x="401.5" y="565.7"/><use href="#d" x="404.8" y="533.6"/><use href="#d" x="389.8" y="484.1"/><use href="#d" x="402.6" y="542.3"/><use href="#d" x="390.9" y="521.2"/><use href="#d" x="397.7" y="555.3"/><use href="#d" x="417.8" y="486.4"/><use href="#d" x="445.1" y="507.1"/><use href="#d" x="382.0" y="495.8"/><use href="#d" x="397.3" y="488.9"/><use href="#d" x="385.9" y="506.5"/><use href="#d" x="459.9" y="480.1"/><use href="#d" x="378.0" y="522.6"/><use href="#d" x="430.7" y="507.3"/><use href="#d" x="373.0" y="532.5"/><use href="#d" x="412.3" y="599.3"/><use href="#d" x="439.7" y="499.1"/><use href="#d" x="380.7" y="526.7"/><use href="#d" x="390.6" y="509.0"/><use href="#d" x="434.8" y="527.3"/><use href="#d" x="401.0" y="501.0"/><use href="#d" x="390.0" y="574.7"/><use href="#d" x="433.3" y="476.0"/><use href="#d" x="361.7" y="568.3"/><use href="#d" x="406.0" y="595.7"/><use href="#d" x="419.7" y="513.4"/><use href="#d" x="380.0" y="509.2"/><use href="#d" x="392.5" y="516.7"/><use href="#d" x="377.0" y="520.7"/><use href="#d" x="399.2" y="571.0"/><use href="#d" x="384.1" y="493.4"/><use href="#d" x="409.1" y="530.8"/><use href="#d" x="391.8" y="518.3"/><use href="#d" x="395.0" y="507.9"/><use href="#d" x="423.5" y="498.0"/><use href="#d" x="378.6" y="556.7"/><use href="#d" x="389.4" y="579.6"/><use href="#d" x="440.5" y="488.9"/><use href="#d" x="373.9" y="529.8"/><use href="#d" x="391.3" y="543.6"/><use href="#d" x="422.8" y="504.8"/><use href="#d" x="385.0" y="532.4"/><use href="#d" x="415.2" y="552.7"/><use href="#d" x="369.6" y="546.2"/><use href="#d" x="459.0" y="471.9"/><use href="#d" x="385.9" y="543.2"/><use href="#d" x="404.8" y="482.4"/><use href="#d" x="399.4" y="492.1"/><use href="#d" x="448.4" y="502.8"/><use href="#d" x="401.2" y="561.1"/><use href="#d" x="401.4" y="500.6"/><use href="#d" x="372.6" y="510.7"/><use href="#d" x="397.1" y="512.8"/><use href="#d" x="396.6" y="515.1"/><use href="#d" x="399.6" y="545.0"/><use href="#d" x="415.0" y="488.4"/><use href="#d" x="400.7" y="521.0"/><use href="#d" x="376.7" y="514.3"/><use href="#d" x="409.7" y="509.8"/><use href="#d" x="398.3" y="488.4"/><use href="#d" x="397.1" y="584.4"/><use href="#d" x="409.2" y="491.2"/><use href="#d" x="392.8" y="475.5"/><use href="#d" x="405.4" y="580.4"/><use href="#d" x="367.8" y="507.7"/><use href="#d" x="384.5" y="582.7"/><use href="#d" x="385.1" y="514.9"/><use href="#d" x="381.6" y="540.1"/><use href="#d" x="387.1" y="482.0"/><use href="#d" x="371.8" y="575.6"/><use href="#d" x="436.2" y="495.6"/><use href="#d" x="368.2" y="537.5"/><use href="#d" x="377.6" y="516.4"/><use href="#d" x="416.0" y="529.5"/><use href="#d" x="469.8" y="484.1"/><use href="#d" x="417.7" y="496.8"/><use href="#d" x="413.3" y="536.4"/><use href="#d" x="373.5" y="521.6"/><use href="#d" x="455.3" y="488.1"/><use href="#d" x="394.0" y="501.4"/><use href="#d" x="392.7" y="584.0"/><use href="#d" x="406.3" y="473.0"/><use href="#d" x="363.3" y="565.5"/><use href="#d" x="428.9" y="494.5"/><use href="#d" x="398.3" y="501.3"/><use href="#d" x="391.9" y="490.8"/><use href="#d" x="388.1" y="507.4"/><use href="#d" x="384.2" y="549.0"/><use href="#d" x="397.8" y="494.6"/><use href="#d" x="397.3" y="516.5"/><use href="#d" x="379.7" y="514.1"/><use href="#d" x="394.6" y="539.2"/><use href="#d" x="400.4" y="569.5"/><use href="#d" x="407.3" y="486.7"/><use href="#d" x="399.8" y="494.0"/><use href="#d" x="379.5" y="500.1"/><use href="#d" x="399.1" y="480.1"/><use href="#d" x="376.7" y="532.2"/><use href="#d" x="381.3" y="490.7"/><use href="#d" x="394.8" y="493.7"/><use href="#d" x="411.8" y="550.6"/><use href="#d" x="370.8" y="585.5"/><use href="#d" x="385.0" y="479.1"/><use href="#d" x="409.9" y="510.3"/><use href="#d" x="382.5" y="572.3"/><use href="#d" x="404.2" y="488.7"/><use href="#d" x="370.0" y="600.0"/><use href="#d" x="446.3" y="483.3"/><use href="#d" x="452.0" y="488.6"/><use href="#d" x="449.2" y="540.9"/><use href="#d" x="426.1" y="476.9"/><use href="#d" x="443.7" y="467.3"/><use href="#d" x="385.8" y="570.4"/><use href="#d" x="379.9" y="551.8"/><use href="#d" x="427.8" y="505.9"/><use href="#d" x="388.8" y="504.8"/><use href="#d" x="429.6" y="469.5"/><use href="#d" x="410.8" y="493.0"/><use href="#d" x="383.3" y="490.3"/><use href="#d" x="387.7" y="523.2"/><use href="#d" x="380.0" y="502.7"/><use href="#d" x="423.1" y="498.7"/><use href="#d" x="379.4" y="487.3"/><use href="#d" x="416.6" y="500.8"/><use href="#d" x="379.8" y="549.7"/><use href="#d" x="397.7" y="594.5"/><use href="#d" x="371.7" y="545.5"/><use href="#d" x="427.9" y="497.5"/><use href="#d" x="422.4" y="489.8"/><use href="#d" x="418.5" y="506.5"/><use href="#d" x="407.8" y="483.9"/><use href="#d" x="382.8" y="568.2"/><use href="#d" x="378.9" y="500.7"/><use href="#d" x="447.4" y="498.2"/><use href="#d" x="404.7" y="487.4"/><use href="#d" x="407.2" y="509.2"/><use href="#d" x="445.6" y="511.0"/><use href="#d" x="376.8" y="506.1"/><use href="#d" x="420.1" y="514.2"/><use href="#d" x="439.4" y="481.8"/><use href="#d" x="397.0" y="530.7"/><use href="#d" x="386.9" y="531.6"/><use href="#d" x="381.6" y="530.8"/><use href="#d" x="460.4" y="475.4"/><use href="#d" x="422.5" y="508.5"/><use href="#d" x="474.9" y="482.7"/><use href="#d" x="390.2" y="498.3"/><use href="#d" x="460.9" y="470.3"/><use href="#d" x="409.9" y="537.7"/><use href="#d" x="377.1" y="592.3"/><use href="#d" x="384.0" y="591.7"/><use href="#d" x="444.2" y="493.6"/><use href="#d" x="387.2" y="495.9"/><use href="#d" x="457.5" y="504.7"/><use href="#d" x="456.8" y="478.3"/><use href="#d" x="436.5" y="541.2"/><use href="#d" x="378.3" y="533.9"/><use href="#d" x="395.7" y="504.4"/><use href="#d" x="455.2" y="501.2"/><use href="#d" x="402.4" y="494.6"/><use href="#d" x="445.5" y="501.2"/><use href="#d" x="399.5" y="490.5"/><use href="#d" x="393.9" y="608.4"/><use href="#d" x="393.3" y="526.0"/><use href="#d" x="391.2" y="506.3"/><use href="#d" x="378.6" y="534.3"/><use href="#d" x="369.9" y="571.5"/><use href="#d" x="422.9" y="574.5"/><use href="#d" x="466.6" y="533.4"/><use href="#d" x="390.5" y="510.6"/><use href="#d" x="444.4" y="495.2"/><use href="#d" x="414.7" y="571.2"/><use href="#d" x="399.9" y="485.6"/><use href="#d" x="397.4" y="511.2"/><use href="#d" x="381.8" y="531.6"/><use href="#d" x="383.1" y="544.0"/><use href="#d" x="382.1" y="514.0"/><use href="#d" x="408.9" y="608.6"/><use href="#d" x="398.1" y="535.4"/><use href="#d" x="460.2" y="517.3"/><use href="#d" x="379.2" y="497.4"/><use href="#d" x="380.4" y="524.6"/><use href="#d" x="429.9" y="488.1"/><use href="#d" x="449.9" y="496.3"/><use href="#d" x="398.2" y="548.1"/><use href="#d" x="378.6" y="584.2"/><use href="#d" x="430.8" y="495.9"/><use href="#d" x="424.2" y="484.4"/><use href="#d" x="458.2" y="527.5"/><use href="#d" x="398.1" y="501.6"/><use href="#d" x="391.9" y="564.7"/><use href="#d" x="392.9" y="497.2"/><use href="#d" x="426.2" y="574.2"/><use href="#d" x="444.0" y="484.4"/><use href="#d" x="451.8" y="523.6"/><use href="#d" x="467.5" y="483.3"/><use href="#d" x="383.0" y="517.9"/><use href="#d" x="398.4" y="544.5"/><use href="#d" x="391.7" y="529.3"/><use href="#d" x="396.3" y="495.0"/><use href="#d" x="394.9" y="551.5"/><use href="#d" x="466.0" y="487.2"/><use href="#d" x="380.8" y="522.1"/><use href="#d" x="405.8" y="543.9"/><use href="#d" x="426.9" y="503.2"/><use href="#d" x="405.5" y="546.2"/><use href="#d" x="396.4" y="481.6"/><use href="#d" x="454.8" y="505.4"/><use href="#d" x="464.7" y="493.3"/><use href="#d" x="375.7" y="508.8"/><use href="#d" x="391.3" y="518.1"/><use href="#d" x="398.6" y="482.9"/><use href="#d" x="452.3" y="494.4"/><use href="#d" x="368.6" y="559.9"/><use href="#d" x="401.8" y="489.5"/><use href="#d" x="425.1" y="589.0"/><use href="#d" x="430.3" y="504.2"/><use href="#d" x="436.6" y="518.7"/><use href="#d" x="415.7" y="483.6"/><use href="#d" x="427.0" y="513.0"/><use href="#d" x="454.4" y="545.7"/><use href="#d" x="413.1" y="497.3"/><use href="#d" x="378.7" y="489.5"/><use href="#d" x="466.3" y="485.9"/><use href="#d" x="392.9" y="559.5"/><use href="#d" x="458.4" y="484.6"/><use href="#d" x="442.1" y="521.7"/><use href="#d" x="387.3" y="518.4"/><use href="#d" x="453.6" y="550.2"/><use href="#d" x="403.8" y="493.3"/><use href="#d" x="405.6" y="544.6"/><use href="#d" x="405.6" y="508.8"/><use href="#d" x="372.9" y="549.3"/><use href="#d" x="390.6" y="499.5"/><use href="#d" x="411.5" y="519.9"/><use href="#d" x="438.8" y="508.4"/><use href="#d" x="402.9" y="529.2"/><use href="#d" x="418.6" y="508.7"/><use href="#d" x="418.4" y="471.0"/><use href="#d" x="380.5" y="511.7"/><use href="#d" x="385.4" y="501.7"/><use href="#d" x="382.3" y="517.5"/><use href="#d" x="412.5" y="499.1"/><use href="#d" x="400.1" y="523.0"/><use href="#d" x="460.1" y="479.4"/><use href="#d" x="448.8" y="552.3"/><use href="#d" x="450.5" y="510.3"/><use href="#d" x="438.6" y="504.1"/><use href="#d" x="427.3" y="530.6"/><use href="#d" x="402.5" y="500.7"/><use href="#d" x="438.0" y="496.1"/><use href="#d" x="412.3" y="496.4"/><use href="#d" x="421.4" y="521.4"/><use href="#d" x="379.8" y="505.6"/><use href="#d" x="434.2" y="504.5"/><use href="#d" x="407.3" y="593.1"/><use href="#d" x="424.9" y="516.1"/><use href="#d" x="375.2" y="492.6"/><use href="#d" x="435.8" y="573.9"/><use href="#d" x="414.3" y="483.3"/><use href="#d" x="414.9" y="523.9"/><use href="#d" x="391.0" y="536.8"/><use href="#d" x="371.3" y="518.1"/><use href="#d" x="437.1" y="482.4"/><use href="#d" x="387.7" y="536.0"/><use href="#d" x="375.7" y="564.9"/><use href="#d" x="452.9" y="512.6"/><use href="#d" x="385.5" y="514.6"/><use href="#d" x="392.9" y="502.7"/><use href="#d" x="432.4" y="512.1"/><use href="#d" x="453.0" y="542.3"/><use href="#d" x="424.6" y="491.9"/><use href="#d" x="436.1" y="531.3"/><use href="#d" x="386.3" y="602.3"/><use href="#d" x="398.5" y="491.2"/><use href="#d" x="417.3" y="503.6"/><use href="#d" x="436.9" y="508.5"/><use href="#d" x="475.3" y="523.5"/><use href="#d" x="381.4" y="588.2"/><use href="#d" x="452.2" y="507.4"/><use href="#d" x="459.5" y="496.0"/><use href="#d" x="374.5" y="509.9"/><use href="#d" x="387.3" y="521.4"/><use href="#d" x="418.8" y="514.0"/><use href="#d" x="390.9" y="492.6"/><use href="#d" x="424.1" y="510.8"/><use href="#d" x="423.2" y="518.1"/><use href="#d" x="385.9" y="496.5"/><use href="#d" x="389.6" y="508.7"/><use href="#d" x="425.3" y="481.8"/><use href="#d" x="380.7" y="501.4"/><use href="#d" x="437.3" y="470.7"/><use href="#d" x="377.4" y="489.1"/><use href="#d" x="409.0" y="506.6"/><use href="#d" x="379.4" y="537.1"/><use href="#d" x="410.0" y="498.8"/><use href="#d" x="371.2" y="531.4"/><use href="#d" x="406.8" y="517.2"/><use href="#d" x="377.9" y="517.2"/><use href="#d" x="421.7" y="505.4"/><use href="#d" x="426.6" y="480.1"/><use href="#d" x="383.3" y="532.8"/><use href="#d" x="368.7" y="538.7"/><use href="#d" x="374.3" y="542.3"/><use href="#d" x="377.2" y="535.1"/><use href="#d" x="439.2" y="497.2"/><use href="#d" x="448.2" y="484.9"/><use href="#d" x="420.8" y="493.6"/><use href="#d" x="415.3" y="503.8"/><use href="#d" x="428.1" y="498.3"/><use href="#d" x="440.3" y="491.0"/><use href="#d" x="381.5" y="552.8"/><use href="#d" x="360.0" y="538.6"/><use href="#d" x="387.5" y="497.8"/><use href="#d" x="396.2" y="477.9"/><use href="#d" x="424.3" y="509.1"/><use href="#d" x="378.5" y="543.2"/><use href="#d" x="435.0" y="519.5"/><use href="#d" x="431.6" y="471.9"/><use href="#d" x="444.7" y="523.9"/><use href="#d" x="420.5" y="490.3"/><use href="#d" x="471.3" y="491.4"/><use href="#d" x="446.1" y="495.0"/><use href="#d" x="395.4" y="499.8"/><use href="#d" x="361.3" y="582.4"/><use href="#d" x="397.2" y="499.7"/><use href="#d" x="371.3" y="498.0"/><use href="#d" x="441.2" y="490.7"/><use href="#d" x="394.3" y="479.0"/><use href="#d" x="409.1" y="497.8"/><use href="#d" x="448.3" y="477.9"/><use href="#d" x="435.6" y="499.3"/><use href="#d" x="374.1" y="534.7"/><use href="#d" x="414.4" y="518.5"/><use href="#d" x="430.9" y="478.0"/><use href="#d" x="367.7" y="553.3"/><use href="#d" x="433.9" y="518.0"/><use href="#d" x="392.5" y="497.1"/><use href="#d" x="389.3" y="600.8"/><use href="#d" x="444.9" y="530.8"/><use href="#d" x="397.1" y="476.5"/><use href="#d" x="463.1" y="484.8"/><use href="#d" x="381.2" y="523.0"/><use href="#d" x="422.7" y="480.5"/><use href="#d" x="424.9" y="569.5"/><use href="#d" x="384.4" y="477.0"/><use href="#d" x="382.7" y="565.4"/><use href="#d" x="390.4" y="514.5"/><use href="#d" x="384.5" y="563.0"/><use href="#d" x="393.8" y="520.0"/><use href="#d" x="427.5" y="501.9"/><use href="#d" x="393.9" y="495.5"/><use href="#d" x="394.2" y="507.7"/><use href="#d" x="422.3" y="475.0"/><use href="#d" x="435.3" y="478.3"/><use href="#d" x="394.2" y="545.6"/><use href="#d" x="389.8" y="562.4"/><use href="#d" x="388.0" y="477.0"/><use href="#d" x="427.7" y="498.8"/><use href="#d" x="351.2" y="582.6"/><use href="#d" x="384.7" y="520.3"/><use href="#d" x="408.1" y="490.8"/><use href="#d" x="393.3" y="489.3"/><use href="#d" x="417.9" y="537.2"/><use href="#d" x="372.1" y="536.2"/><use href="#d" x="393.7" y="533.1"/><use href="#d" x="371.5" y="603.5"/><use href="#d" x="376.6" y="555.1"/><use href="#d" x="424.4" y="487.8"/><use href="#d" x="402.9" y="551.5"/><use href="#d" x="398.0" y="537.9"/><use href="#d" x="416.9" y="524.0"/><use href="#d" x="401.7" y="487.0"/><use href="#d" x="470.2" y="504.3"/><use href="#d" x="375.4" y="508.1"/><use href="#d" x="404.9" y="481.8"/><use href="#d" x="389.3" y="484.6"/><use href="#d" x="391.5" y="506.7"/><use href="#d" x="401.8" y="502.0"/><use href="#d" x="455.5" y="482.7"/><use href="#d" x="459.2" y="506.0"/><use href="#d" x="371.6" y="531.9"/><use href="#d" x="430.2" y="592.2"/><use href="#d" x="377.6" y="548.2"/><use href="#d" x="411.1" y="521.1"/><use href="#d" x="384.1" y="484.3"/><use href="#d" x="357.5" y="505.5"/><use href="#d" x="371.5" y="484.8"/><use href="#d" x="396.5" y="501.9"/><use href="#d" x="376.4" y="529.5"/><use href="#d" x="447.1" y="501.9"/><use href="#d" x="422.0" y="512.5"/><use href="#d" x="396.8" y="517.9"/><use href="#d" x="460.7" y="475.4"/><use href="#d" x="407.5" y="514.5"/><use href="#d" x="401.4" y="494.1"/><use href="#d" x="389.6" y="605.3"/><use href="#d" x="424.7" y="566.8"/><use href="#d" x="404.1" y="605.3"/><use href="#d" x="421.8" y="536.9"/><use href="#d" x="376.2" y="539.7"/><use href="#d" x="450.1" y="491.3"/><use href="#d" x="374.8" y="507.2"/><use href="#d" x="452.7" y="481.6"/><use href="#d" x="401.9" y="520.5"/><use href="#d" x="436.8" y="509.5"/><use href="#d" x="380.4" y="520.1"/><use href="#d" x="434.6" y="557.9"/><use href="#d" x="470.5" y="497.6"/><use href="#d" x="434.9" y="556.4"/><use href="#d" x="387.4" y="510.3"/><use href="#d" x="404.5" y="504.0"/><use href="#d" x="431.0" y="510.0"/><use href="#d" x="386.1" y="504.7"/><use href="#d" x="388.5" y="495.7"/><use href="#d" x="455.0" y="502.1"/><use href="#d" x="382.1" y="495.0"/><use href="#d" x="367.7" y="498.4"/><use href="#d" x="384.9" y="529.9"/><use href="#d" x="414.4" y="549.3"/><use href="#d" x="412.7" y="508.4"/><use href="#d" x="416.1" y="491.2"/><use href="#d" x="432.6" y="485.3"/><use href="#d" x="375.3" y="523.8"/><use href="#d" x="472.6" y="511.4"/><use href="#d" x="399.0" y="529.8"/><use href="#d" x="444.3" y="577.1"/><use href="#d" x="448.9" y="554.8"/><use href="#d" x="414.8" y="513.0"/><use href="#d" x="378.3" y="512.7"/><use href="#d" x="405.0" y="495.8"/><use href="#d" x="394.1" y="492.3"/><use href="#d" x="400.8" y="503.4"/><use href="#d" x="373.4" y="501.0"/><use href="#d" x="391.5" y="477.5"/><use href="#d" x="428.4" y="580.2"/><use href="#d" x="408.6" y="513.3"/><use href="#d" x="402.0" y="574.8"/><use href="#d" x="456.2" y="523.7"/><use href="#d" x="405.4" y="500.1"/><use href="#d" x="374.9" y="578.1"/><use href="#d" x="409.3" y="513.7"/><use href="#d" x="377.0" y="607.8"/><use href="#d" x="392.1" y="513.7"/><use href="#d" x="380.9" y="564.8"/><use href="#d" x="393.1" y="533.2"/><use href="#d" x="384.4" y="508.7"/><use href="#d" x="464.5" y="516.5"/><use href="#d" x="377.1" y="554.2"/><use href="#d" x="385.1" y="492.2"/><use href="#d" x="387.5" y="514.4"/><use href="#d" x="392.8" y="573.7"/><use href="#d" x="378.0" y="518.7"/><use href="#d" x="387.2" y="506.8"/><use href="#d" x="447.4" y="500.6"/><use href="#d" x="404.8" y="530.0"/><use href="#d" x="421.3" y="500.5"/><use href="#d" x="378.9" y="556.0"/><use href="#d" x="414.6" y="532.9"/><use href="#d" x="427.9" y="522.7"/><use href="#d" x="399.8" y="505.0"/><use href="#d" x="442.4" y="522.9"/><use href="#d" x="383.8" y="554.9"/><use href="#d" x="367.2" y="530.6"/><use href="#d" x="420.9" y="487.3"/><use href="#d" x="459.5" y="519.0"/><use href="#d" x="432.4" y="510.7"/><use href="#d" x="383.4" y="517.4"/><use href="#d" x="413.5" y="487.8"/><use href="#d" x="396.8" y="539.5"/><use href="#d" x="443.2" y="489.6"/><use href="#d" x="385.4" y="523.9"/><use href="#d" x="376.4" y="528.3"/><use href="#d" x="393.5" y="467.6"/><use href="#d" x="411.9" y="499.6"/><use href="#d" x="423.9" y="546.1"/><use href="#d" x="429.3" y="508.1"/><use href="#d" x="390.8" y="552.3"/><use href="#d" x="397.9" y="501.7"/><use href="#d" x="373.2" y="499.6"/><use href="#d" x="400.5" y="491.0"/><use href="#d" x="409.8" y="505.0"/><use href="#d" x="372.8" y="597.8"/><use href="#d" x="373.1" y="522.8"/><use href="#d" x="411.4" y="494.4"/><use href="#d" x="394.1" y="581.9"/><use href="#d" x="399.0" y="531.7"/><use href="#d" x="396.4" y="565.7"/><use href="#d" x="388.6" y="496.2"/><use href="#d" x="443.7" y="500.0"/><use href="#d" x="391.5" y="536.2"/><use href="#d" x="397.7" y="499.0"/><use href="#d" x="412.8" y="509.9"/><use href="#d" x="437.0" y="496.5"/><use href="#d" x="449.1" y="493.4"/><use href="#d" x="440.6" y="565.6"/><use href="#d" x="393.4" y="527.0"/><use href="#d" x="372.4" y="546.1"/><use href="#d" x="419.3" y="538.8"/><use href="#d" x="395.6" y="517.6"/><use href="#d" x="474.0" y="513.5"/><use href="#d" x="431.3" y="539.6"/><use href="#d" x="386.9" y="471.8"/><use href="#d" x="439.3" y="528.8"/><use href="#d" x="399.7" y="512.0"/><use href="#d" x="374.0" y="600.9"/><use href="#d" x="411.9" y="501.2"/><use href="#d" x="411.3" y="474.3"/><use href="#d" x="380.6" y="525.0"/><use href="#d" x="381.3" y="541.1"/><use href="#d" x="386.5" y="557.5"/><use href="#d" x="388.4" y="528.1"/><use href="#d" x="404.9" y="525.5"/><use href="#d" x="427.1" y="510.1"/><use href="#d" x="450.0" y="535.4"/><use href="#d" x="439.8" y="494.0"/><use href="#d" x="388.9" y="470.6"/><use href="#d" x="411.6" y="480.5"/><use href="#d" x="380.3" y="499.6"/><use href="#d" x="398.9" y="524.7"/><use href="#d" x="419.5" y="479.0"/><use href="#d" x="443.6" y="578.2"/><use href="#d" x="396.8" y="530.8"/><use href="#d" x="414.5" y="495.6"/><use href="#d" x="388.1" y="502.7"/><use href="#d" x="377.7" y="561.6"/><use href="#d" x="442.7" y="484.0"/><use href="#d" x="444.2" y="503.8"/><use href="#d" x="396.3" y="571.9"/><use href="#d" x="371.6" y="571.3"/><use href="#d" x="383.2" y="580.7"/><use href="#d" x="461.2" y="490.0"/><use href="#d" x="442.3" y="486.5"/><use href="#d" x="391.4" y="472.7"/><use href="#d" x="431.7" y="476.9"/><use href="#d" x="384.5" y="523.6"/><use href="#d" x="406.4" y="496.6"/><use href="#d" x="376.1" y="510.9"/><use href="#d" x="425.4" y="506.6"/><use href="#d" x="433.7" y="490.3"/><use href="#d" x="369.4" y="576.0"/><use href="#d" x="394.8" y="540.4"/><use href="#d" x="389.1" y="547.6"/><use href="#d" x="439.3" y="503.5"/><use href="#d" x="380.3" y="505.5"/><use href="#d" x="410.9" y="481.2"/><use href="#d" x="407.9" y="524.2"/><use href="#d" x="386.3" y="533.9"/><use href="#d" x="393.2" y="504.2"/><use href="#d" x="444.5" y="489.2"/><use href="#d" x="371.4" y="505.4"/><use href="#d" x="401.0" y="568.1"/><use href="#d" x="431.9" y="493.2"/><use href="#d" x="432.0" y="514.5"/><use href="#d" x="410.7" y="607.3"/><use href="#d" x="406.9" y="507.7"/><use href="#d" x="385.1" y="494.6"/><use href="#d" x="394.0" y="508.9"/><use href="#d" x="395.0" y="505.2"/><use href="#d" x="379.7" y="608.6"/><use href="#d" x="413.3" y="541.1"/><use href="#d" x="407.9" y="489.1"/><use href="#d" x="442.0" y="487.0"/><use href="#d" x="415.5" y="480.5"/><use href="#d" x="390.1" y="491.6"/><use href="#d" x="438.2" y="533.4"/><use href="#d" x="412.3" y="515.9"/><use href="#d" x="428.9" y="496.1"/><use href="#d" x="425.6" y="509.3"/><use href="#d" x="423.9" y="515.6"/><use href="#d" x="379.9" y="586.4"/><use href="#d" x="366.8" y="566.7"/><use href="#d" x="389.9" y="525.1"/><use href="#d" x="407.1" y="584.1"/><use href="#d" x="398.9" y="554.5"/><use href="#d" x="381.1" y="482.8"/><use href="#d" x="403.2" y="597.1"/><use href="#d" x="388.4" y="475.7"/><use href="#d" x="379.6" y="571.5"/><use href="#d" x="375.0" y="525.6"/><use href="#d" x="473.7" y="486.3"/><use href="#d" x="380.6" y="525.6"/><use href="#d" x="403.1" y="497.9"/><use href="#d" x="383.4" y="499.5"/><use href="#d" x="371.9" y="527.5"/><use href="#d" x="382.5" y="537.7"/><use href="#d" x="393.7" y="510.9"/><use href="#d" x="429.2" y="485.9"/><use href="#d" x="406.7" y="478.1"/><use href="#d" x="369.1" y="556.8"/><use href="#d" x="451.5" y="492.5"/><use href="#d" x="428.6" y="472.7"/><use href="#d" x="417.6" y="492.7"/><use href="#d" x="449.5" y="538.4"/><use href="#d" x="409.4" y="476.1"/><use href="#d" x="384.9" y="547.0"/><use href="#d" x="385.2" y="518.6"/><use href="#d" x="421.5" y="481.4"/><use href="#d" x="380.9" y="515.5"/><use href="#d" x="386.6" y="480.9"/><use href="#d" x="388.2" y="488.3"/><use href="#d" x="416.0" y="507.7"/><use href="#d" x="396.6" y="595.2"/><use href="#d" x="454.7" y="485.6"/><use href="#d" x="381.0" y="508.2"/><use href="#d" x="440.1" y="487.9"/><use href="#d" x="401.1" y="485.8"/><use href="#d" x="400.8" y="537.7"/><use href="#d" x="401.1" y="504.6"/><use href="#d" x="391.1" y="508.6"/><use href="#d" x="390.4" y="568.9"/><use href="#d" x="438.3" y="484.8"/><use href="#d" x="409.6" y="497.3"/><use href="#d" x="413.8" y="577.9"/><use href="#d" x="383.0" y="526.2"/><use href="#d" x="389.5" y="496.6"/><use href="#d" x="425.7" y="504.7"/><use href="#d" x="434.5" y="502.1"/><use href="#d" x="431.2" y="477.4"/><use href="#d" x="409.7" y="471.1"/><use href="#d" x="426.0" y="483.5"/><use href="#d" x="379.8" y="486.3"/><use href="#d" x="410.9" y="547.5"/><use href="#d" x="413.4" y="470.1"/><use href="#d" x="393.1" y="513.0"/><use href="#d" x="411.7" y="495.2"/><use href="#d" x="385.3" y="493.0"/><use href="#d" x="386.1" y="541.5"/><use href="#d" x="443.1" y="516.4"/><use href="#d" x="426.7" y="515.4"/><use href="#d" x="401.3" y="501.7"/><use href="#d" x="385.6" y="505.1"/><use href="#d" x="390.9" y="567.2"/><use href="#d" x="367.3" y="522.3"/><use href="#d" x="430.4" y="498.1"/><use href="#d" x="423.4" y="479.7"/><use href="#d" x="389.1" y="552.1"/><use href="#d" x="392.3" y="607.3"/><use href="#d" x="377.3" y="541.4"/><use href="#d" x="383.1" y="588.6"/><use href="#d" x="409.5" y="598.5"/><use href="#d" x="372.2" y="581.1"/><use href="#d" x="471.7" y="508.7"/><use href="#d" x="390.3" y="517.4"/><use href="#d" x="442.1" y="474.0"/><use href="#d" x="400.6" y="585.9"/><use href="#d" x="377.2" y="591.2"/><use href="#d" x="381.5" y="494.2"/><use href="#d" x="388.2" y="526.7"/><use href="#d" x="376.0" y="509.0"/><use href="#d" x="424.0" y="511.7"/><use href="#d" x="391.7" y="502.2"/><use href="#d" x="393.4" y="485.9"/><use href="#d" x="462.6" y="523.1"/><use href="#d" x="399.4" y="561.1"/><use href="#d" x="411.0" y="506.3"/><use href="#d" x="411.4" y="512.7"/><use href="#d" x="406.1" y="486.3"/><use href="#d" x="439.0" y="483.4"/><use href="#d" x="385.3" y="546.0"/><use href="#d" x="420.2" y="572.6"/><use href="#d" x="413.2" y="503.0"/><use href="#d" x="392.0" y="510.7"/><use href="#d" x="453.5" y="530.3"/><use href="#d" x="378.7" y="507.7"/><use href="#d" x="417.5" y="476.0"/><use href="#d" x="457.2" y="479.6"/><use href="#d" x="469.3" y="536.2"/><use href="#d" x="390.7" y="487.0"/><use href="#d" x="377.7" y="503.4"/><use href="#d" x="387.9" y="523.6"/><use href="#d" x="379.3" y="507.3"/><use href="#d" x="401.3" y="507.0"/><use href="#d" x="380.2" y="575.7"/><use href="#d" x="369.2" y="515.3"/><use href="#d" x="442.8" y="502.3"/><use href="#d" x="398.4" y="520.3"/><use href="#d" x="446.2" y="470.6"/><use href="#d" x="429.3" y="520.0"/><use href="#d" x="379.1" y="509.7"/><use href="#d" x="427.6" y="485.6"/><use href="#d" x="437.8" y="498.3"/><use href="#d" x="408.2" y="496.1"/><use href="#d" x="403.9" y="499.2"/><use href="#d" x="451.0" y="474.4"/><use href="#d" x="372.0" y="528.8"/><use href="#d" x="370.1" y="567.3"/><use href="#d" x="388.3" y="515.7"/><use href="#d" x="397.8" y="573.9"/><use href="#d" x="441.9" y="505.4"/><use href="#d" x="441.7" y="471.0"/><use href="#d" x="453.9" y="497.2"/><use href="#d" x="372.7" y="526.5"/><use href="#d" x="399.0" y="485.3"/><use href="#d" x="420.6" y="502.7"/><use href="#d" x="419.7" y="500.0"/><use href="#d" x="388.6" y="489.2"/><use href="#d" x="386.3" y="489.5"/><use href="#d" x="392.6" y="549.7"/><use href="#d" x="394.7" y="490.4"/><use href="#d" x="368.4" y="563.2"/><use href="#d" x="394.7" y="567.3"/><use href="#d" x="441.5" y="520.2"/><use href="#d" x="405.7" y="498.3"/><use href="#d" x="469.0" y="480.9"/><use href="#d" x="417.4" y="502.3"/><use href="#d" x="457.0" y="483.6"/><use href="#d" x="396.0" y="506.5"/><use href="#d" x="393.5" y="501.5"/><use href="#d" x="393.0" y="504.5"/><use href="#d" x="388.0" y="542.8"/><use href="#d" x="402.4" y="593.8"/><use href="#d" x="440.9" y="492.6"/><use href="#d" x="378.2" y="535.4"/><use href="#d" x="398.2" y="565.6"/><use href="#d" x="392.4" y="505.6"/><use href="#d" x="416.7" y="492.5"/><use href="#d" x="374.3" y="517.7"/><use href="#d" x="438.0" y="502.9"/><use href="#d" x="416.4" y="478.1"/><use href="#d" x="427.2" y="484.9"/><use href="#d" x="463.4" y="472.0"/><use href="#d" x="387.4" y="502.4"/><use href="#d" x="434.1" y="492.9"/><use href="#d" x="430.6" y="532.1"/><use href="#d" x="407.6" y="507.2"/><use href="#d" x="443.8" y="497.0"/><use href="#d" x="419.5" y="549.4"/><use href="#d" x="396.8" y="504.3"/><use href="#d" x="402.7" y="518.8"/><use href="#d" x="384.4" y="520.6"/><use href="#d" x="416.2" y="565.8"/><use href="#d" x="397.6" y="581.6"/><use href="#d" x="484.2" y="514.2"/><use href="#d" x="382.7" y="512.2"/><use href="#d" x="375.8" y="595.0"/><use href="#d" x="416.5" y="482.7"/><use href="#d" x="395.3" y="493.1"/><use href="#d" x="433.4" y="486.7"/><use href="#d" x="392.4" y="570.4"/><use href="#d" x="373.4" y="502.0"/><use href="#d" x="404.4" y="528.9"/><use href="#d" x="418.2" y="559.0"/><use href="#d" x="383.4" y="496.3"/><use href="#d" x="412.4" y="540.3"/><use href="#d" x="371.4" y="572.8"/><use href="#d" x="383.8" y="515.7"/><use href="#d" x="456.6" y="480.7"/><use href="#d" x="387.0" y="498.0"/><use href="#d" x="383.5" y="519.1"/><use href="#d" x="403.7" y="520.1"/><use href="#d" x="372.8" y="547.0"/><use href="#d" x="436.3" y="563.8"/><use href="#d" x="455.8" y="533.2"/><use href="#d" x="394.4" y="498.8"/><use href="#d" x="370.7" y="528.9"/><use href="#d" x="382.4" y="498.3"/><use href="#d" x="357.3" y="556.5"/><use href="#d" x="412.1" y="582.1"/><use href="#d" x="370.3" y="535.4"/><use href="#d" x="424.1" y="517.6"/><use href="#d" x="415.8" y="495.8"/><use href="#d" x="398.5" y="590.6"/><use href="#d" x="400.3" y="508.3"/><use href="#d" x="413.4" y="514.3"/><use href="#d" x="405.7" y="578.6"/><use href="#d" x="400.0" y="494.9"/><use href="#d" x="447.2" y="487.4"/><use href="#d" x="465.2" y="492.0"/><use href="#d" x="402.8" y="523.0"/><use href="#d" x="389.2" y="506.3"/><use href="#d" x="377.4" y="547.4"/><use href="#d" x="445.3" y="559.3"/><use href="#d" x="440.2" y="498.5"/><use href="#d" x="445.9" y="480.9"/><use href="#d" x="379.9" y="599.0"/><use href="#d" x="406.1" y="475.1"/><use href="#d" x="386.4" y="560.3"/><use href="#d" x="381.4" y="528.9"/><use href="#d" x="442.2" y="480.8"/><use href="#d" x="415.1" y="517.4"/><use href="#d" x="380.5" y="602.2"/><use href="#d" x="379.3" y="529.0"/><use href="#d" x="470.9" y="493.6"/><use href="#d" x="472.8" y="499.1"/><use href="#d" x="418.9" y="510.0"/><use href="#d" x="381.3" y="510.0"/><use href="#d" x="399.9" y="523.5"/><use href="#d" x="466.8" y="477.7"/><use href="#d" x="386.7" y="499.6"/><use href="#d" x="378.8" y="574.3"/><use href="#d" x="400.2" y="559.1"/><use href="#d" x="386.8" y="512.6"/><use href="#d" x="440.8" y="490.5"/><use href="#d" x="375.8" y="560.7"/><use href="#d" x="372.7" y="500.6"/><use href="#d" x="394.5" y="586.2"/><use href="#d" x="410.0" y="576.0"/><use href="#d" x="372.9" y="487.7"/><use href="#d" x="376.3" y="510.1"/><use href="#d" x="385.7" y="539.0"/><use href="#d" x="448.7" y="490.1"/><use href="#d" x="403.8" y="554.0"/><use href="#d" x="365.6" y="588.7"/><use href="#d" x="408.8" y="505.8"/><use href="#d" x="454.7" y="484.3"/><use href="#d" x="398.5" y="490.1"/><use href="#d" x="426.9" y="499.4"/><use href="#d" x="384.3" y="600.1"/><use href="#d" x="392.5" y="498.7"/><use href="#d" x="414.0" y="560.5"/><use href="#d" x="393.5" y="511.7"/><use href="#d" x="400.6" y="526.4"/><use href="#d" x="419.2" y="554.5"/><use href="#d" x="390.1" y="500.1"/><use href="#d" x="450.7" y="490.4"/><use href="#d" x="356.5" y="510.6"/><use href="#d" x="423.6" y="577.4"/><use href="#d" x="382.0" y="502.0"/><use href="#d" x="414.2" y="516.5"/><use href="#d" x="389.0" y="596.6"/><use href="#d" x="399.9" y="491.9"/><use href="#d" x="387.7" y="503.4"/><use href="#d" x="372.2" y="530.7"/><use href="#d" x="430.1" y="489.3"/><use href="#d" x="386.1" y="578.6"/><use href="#d" x="411.2" y="502.4"/><use href="#d" x="449.7" y="499.5"/><use href="#d" x="386.0" y="522.5"/><use href="#d" x="392.0" y="525.7"/><use href="#d" x="382.8" y="503.7"/><use href="#d" x="440.3" y="494.7"/><use href="#d" x="391.1" y="557.8"/><use href="#d" x="398.9" y="486.1"/><use href="#d" x="447.9" y="492.7"/><use href="#d" x="377.6" y="511.4"/><use href="#d" x="372.5" y="524.5"/><use href="#d" x="400.7" y="601.8"/><use href="#d" x="444.9" y="512.7"/><use href="#d" x="382.8" y="603.8"/><use href="#d" x="434.1" y="473.2"/><use href="#d" x="419.6" y="524.2"/><use href="#d" x="399.4" y="487.4"/><use href="#d" x="395.1" y="505.1"/><use href="#d" x="401.7" y="498.5"/><use href="#d" x="429.5" y="502.4"/><use href="#d" x="441.0" y="515.8"/><use href="#d" x="395.3" y="534.7"/><use href="#d" x="405.3" y="521.7"/><use href="#d" x="431.5" y="484.9"/><use href="#d" x="393.6" y="484.8"/><use href="#d" x="393.2" y="604.2"/><use href="#d" x="373.0" y="515.2"/><use href="#d" x="396.2" y="509.6"/><use href="#d" x="429.7" y="501.3"/><use href="#d" x="378.3" y="573.7"/><use href="#d" x="373.8" y="516.8"/><use href="#d" x="392.1" y="542.6"/><use href="#d" x="443.1" y="487.4"/><use href="#d" x="380.7" y="562.1"/><use href="#d" x="390.7" y="496.5"/><use href="#d" x="388.5" y="498.4"/><use href="#d" x="421.8" y="473.8"/><use href="#d" x="445.4" y="491.7"/><use href="#d" x="378.4" y="497.5"/><use href="#d" x="374.9" y="527.0"/><use href="#d" x="439.9" y="548.7"/><use href="#d" x="433.6" y="538.9"/><use href="#d" x="374.6" y="579.5"/><use href="#d" x="398.8" y="522.4"/><use href="#d" x="385.5" y="508.5"/><use href="#d" x="440.7" y="553.8"/><use href="#d" x="404.3" y="599.8"/><use href="#d" x="395.8" y="497.5"/><use href="#d" x="413.0" y="502.9"/><use href="#d" x="420.3" y="518.9"/><use href="#d" x="428.2" y="562.6"/><use href="#d" x="374.2" y="507.7"/><use href="#d" x="413.2" y="514.1"/><use href="#d" x="403.4" y="494.9"/><use href="#d" x="374.0" y="584.5"/><use href="#d" x="378.9" y="503.2"/><use href="#d" x="400.3" y="564.0"/><use href="#d" x="378.5" y="512.0"/><use href="#d" x="381.4" y="577.1"/><use href="#d" x="415.2" y="523.4"/><use href="#d" x="382.4" y="482.2"/><use href="#d" x="412.5" y="479.9"/><use href="#d" x="368.3" y="544.3"/><use href="#d" x="393.8" y="492.5"/><use href="#d" x="370.6" y="526.9"/><use href="#d" x="413.9" y="539.7"/><use href="#d" x="391.4" y="519.6"/><use href="#d" x="373.9" y="520.0"/><use href="#d" x="437.4" y="503.2"/><use href="#d" x="416.9" y="478.5"/><use href="#d" x="395.5" y="486.6"/><use href="#d" x="397.6" y="522.1"/><use href="#d" x="374.5" y="537.4"/><use href="#d" x="390.0" y="506.0"/><use href="#d" x="456.1" y="493.0"/><use href="#d" x="428.8" y="519.1"/><use href="#d" x="443.5" y="572.8"/><use href="#d" x="444.1" y="499.5"/><use href="#d" x="383.9" y="480.3"/><use href="#d" x="447.0" y="469.2"/><use href="#d" x="421.1" y="496.4"/><use href="#d" x="415.0" y="511.3"/><use href="#d" x="373.3" y="551.7"/><use href="#d" x="468.1" y="474.2"/><use href="#d" x="364.0" y="578.5"/><use href="#d" x="421.2" y="568.7"/><use href="#d" x="390.2" y="520.1"/><use href="#d" x="405.2" y="602.5"/><use href="#d" x="426.9" y="493.8"/><use href="#d" x="391.2" y="503.2"/><use href="#d" x="394.8" y="530.2"/><use href="#d" x="379.0" y="534.0"/><use href="#d" x="381.7" y="605.1"/><use href="#d" x="402.2" y="587.3"/><use href="#d" x="412.9" y="505.7"/><use href="#d" x="385.8" y="535.6"/><use href="#d" x="390.3" y="514.1"/><use href="#d" x="458.1" y="482.1"/><use href="#d" x="371.9" y="598.4"/><use href="#d" x="377.3" y="523.5"/><use href="#d" x="381.5" y="513.1"/><use href="#d" x="404.6" y="520.8"/><use href="#d" x="429.0" y="552.0"/><use href="#d" x="430.3" y="534.6"/><use href="#d" x="396.1" y="519.4"/><use href="#d" x="425.8" y="488.6"/><use href="#d" x="430.9" y="481.5"/><use href="#d" x="444.6" y="480.3"/><use href="#d" x="420.4" y="495.5"/><use href="#d" x="408.8" y="515.0"/><use href="#d" x="437.3" y="570.4"/><use href="#d" x="368.0" y="595.3"/><use href="#d" x="375.1" y="514.0"/><use href="#d" x="429.4" y="525.7"/><use href="#d" x="420.1" y="486.8"/><use href="#d" x="382.5" y="550.5"/><use href="#d" x="389.8" y="496.9"/><use href="#d" x="473.3" y="472.8"/><use href="#d" x="388.3" y="528.3"/><use href="#d" x="387.0" y="527.5"/><use href="#d" x="463.8" y="520.0"/><use href="#d" x="376.1" y="542.9"/><use href="#d" x="406.6" y="478.3"/><use href="#d" x="387.6" y="503.8"/><use href="#d" x="382.2" y="507.0"/><use href="#d" x="413.6" y="489.9"/><use href="#d" x="477.1" y="585.0"/><use href="#d" x="382.3" y="535.5"/><use href="#d" x="449.3" y="481.5"/><use href="#d" x="388.4" y="493.8"/><use href="#d" x="395.2" y="483.3"/><use href="#d" x="464.1" y="539.6"/><use href="#d" x="397.4" y="587.9"/><use href="#d" x="446.8" y="516.5"/><use href="#d" x="378.0" y="513.1"/><use href="#d" x="426.3" y="493.3"/><use href="#d" x="388.1" y="515.8"/><use href="#d" x="410.7" y="467.6"/><use href="#d" x="404.0" y="487.9"/><use href="#d" x="373.8" y="538.4"/><use href="#d" x="379.2" y="504.9"/><use href="#d" x="373.5" y="553.5"/><use href="#d" x="408.4" y="492.3"/><use href="#d" x="366.8" y="489.8"/><use href="#d" x="429.1" y="503.7"/><use href="#d" x="398.4" y="502.5"/><use href="#d" x="458.8" y="497.7"/><use href="#d" x="432.8" y="475.6"/><use href="#d" x="383.6" y="516.6"/><use href="#d" x="388.9" y="488.6"/><use href="#d" x="459.4" y="491.9"/><use href="#d" x="403.0" y="507.5"/><use href="#d" x="377.5" y="558.7"/><use href="#d" x="404.0" y="558.6"/><use href="#d" x="404.1" y="475.6"/><use href="#d" x="370.5" y="609.3"/><use href="#d" x="384.8" y="538.0"/><use href="#d" x="396.7" y="532.5"/><use href="#d" x="408.7" y="511.8"/><use href="#d" x="375.1" y="565.7"/><use href="#d" x="427.4" y="563.2"/><use href="#d" x="446.5" y="548.9"/><use href="#d" x="377.2" y="490.3"/><use href="#d" x="438.5" y="502.7"/><use href="#d" x="420.3" y="525.5"/><use href="#d" x="392.9" y="487.9"/><use href="#d" x="397.8" y="474.9"/><use href="#d" x="399.5" y="598.8"/><use href="#d" x="445.1" y="482.7"/><use href="#d" x="407.7" y="588.6"/><use href="#d" x="422.6" y="517.9"/><use href="#d" x="398.8" y="549.2"/><use href="#d" x="380.1" y="511.4"/><use href="#d" x="405.4" y="510.5"/><use href="#d" x="396.6" y="520.7"/><use href="#d" x="414.1" y="531.2"/><use href="#d" x="425.5" y="542.0"/><use href="#d" x="437.7" y="504.7"/><use href="#d" x="429.7" y="514.5"/><use href="#d" x="391.6" y="599.8"/><use href="#d" x="418.9" y="556.1"/><use href="#d" x="404.2" y="512.2"/><use href="#d" x="423.1" y="501.0"/><use href="#d" x="413.0" y="569.3"/><use href="#d" x="418.0" y="516.9"/><use href="#d" x="376.3" y="533.5"/><use href="#d" x="389.6" y="517.3"/><use href="#d" x="387.9" y="510.5"/><use href="#d" x="418.3" y="544.2"/><use href="#d" x="373.1" y="549.0"/><use href="#d" x="410.3" y="537.1"/><use href="#d" x="439.1" y="467.8"/><use href="#d" x="383.7" y="486.2"/><use href="#d" x="426.6" y="505.3"/><use href="#d" x="437.8" y="500.6"/><use href="#d" x="380.9" y="543.2"/><use href="#d" x="374.8" y="502.2"/><use href="#d" x="454.0" y="503.3"/><use href="#d" x="410.2" y="498.9"/><use href="#d" x="434.4" y="513.9"/><use href="#d" x="413.7" y="575.8"/><use href="#d" x="452.4" y="495.5"/><use href="#d" x="402.2" y="532.9"/><use href="#d" x="377.8" y="537.3"/><use href="#d" x="471.9" y="482.5"/><use href="#d" x="426.5" y="497.6"/><use href="#d" x="402.4" y="546.4"/><use href="#d" x="413.5" y="522.4"/><use href="#d" x="383.3" y="527.7"/><use href="#d" x="370.9" y="540.1"/><use href="#d" x="418.0" y="532.7"/><use href="#d" x="384.0" y="500.3"/><use href="#d" x="420.9" y="581.8"/><use href="#d" x="446.7" y="478.4"/><use href="#d" x="387.1" y="509.3"/><use href="#d" x="371.4" y="519.1"/><use href="#d" x="407.1" y="534.3"/><use href="#d" x="403.6" y="555.9"/><use href="#d" x="374.2" y="529.1"/><use href="#d" x="443.4" y="469.2"/><use href="#d" x="392.2" y="520.8"/><use href="#d" x="409.6" y="562.1"/><use href="#d" x="438.6" y="526.8"/><use href="#d" x="415.4" y="471.8"/><use href="#d" x="396.7" y="511.4"/><use href="#d" x="399.7" y="498.1"/><use href="#d" x="392.4" y="478.3"/><use href="#d" x="376.3" y="525.3"/><use href="#d" x="423.8" y="507.9"/><use href="#d" x="379.5" y="605.6"/><use href="#d" x="388.8" y="511.5"/><use href="#d" x="388.1" y="521.5"/><use href="#d" x="371.8" y="481.4"/><use href="#d" x="373.9" y="609.2"/><use href="#d" x="432.5" y="511.9"/><use href="#d" x="384.8" y="595.1"/><use href="#d" x="395.2" y="596.2"/><use href="#d" x="387.4" y="500.3"/><use href="#d" x="382.7" y="493.9"/><use href="#d" x="375.9" y="515.3"/><use href="#d" x="390.4" y="599.2"/><use href="#d" x="367.9" y="548.7"/><use href="#d" x="374.4" y="536.9"/><use href="#d" x="408.2" y="473.2"/><use href="#d" x="425.4" y="476.3"/><use href="#d" x="412.6" y="517.7"/><use href="#d" x="414.0" y="583.3"/><use href="#d" x="433.4" y="568.4"/><use href="#d" x="385.6" y="510.9"/><use href="#d" x="371.9" y="538.8"/><use href="#d" x="467.8" y="481.2"/><use href="#d" x="459.3" y="488.9"/><use href="#d" x="388.7" y="481.9"/><use href="#d" x="419.0" y="483.1"/><use href="#d" x="448.1" y="490.8"/><use href="#d" x="374.8" y="494.8"/><use href="#d" x="450.5" y="485.8"/><use href="#d" x="454.2" y="514.9"/><use href="#d" x="408.3" y="526.4"/><use href="#d" x="367.4" y="587.9"/><use href="#d" x="420.6" y="492.2"/><use href="#d" x="426.0" y="489.1"/><use href="#d" x="385.8" y="579.2"/><use href="#d" x="380.2" y="534.7"/><use href="#d" x="453.4" y="487.7"/><use href="#d" x="433.2" y="505.0"/><use href="#d" x="457.8" y="486.4"/><use href="#d" x="371.7" y="524.5"/><use href="#d" x="386.9" y="586.9"/><use href="#d" x="418.7" y="477.5"/><use href="#d" x="444.7" y="536.2"/><use href="#d" x="358.6" y="547.4"/><use href="#d" x="472.9" y="489.2"/><use href="#d" x="405.1" y="509.6"/><use href="#d" x="406.7" y="569.6"/><use href="#d" x="408.5" y="538.6"/><use href="#d" x="374.4" y="560.1"/><use href="#d" x="375.4" y="567.2"/><use href="#d" x="420.0" y="488.9"/><use href="#d" x="436.7" y="509.0"/><use href="#d" x="370.5" y="542.7"/><use href="#d" x="458.5" y="513.8"/><use href="#d" x="405.9" y="484.4"/><use href="#d" x="406.5" y="604.9"/><use href="#d" x="422.5" y="495.2"/><use href="#d" x="427.3" y="589.5"/><use href="#d" x="383.9" y="597.9"/><use href="#d" x="394.1" y="589.0"/><use href="#d" x="400.0" y="479.3"/><use href="#d" x="422.2" y="484.1"/><use href="#d" x="417.2" y="499.6"/><use href="#d" x="397.4" y="513.3"/><use href="#d" x="458.9" y="509.5"/><use href="#d" x="386.6" y="498.8"/><use href="#d" x="374.1" y="541.0"/><use href="#d" x="415.6" y="506.0"/><use href="#d" x="401.5" y="590.4"/><use href="#d" x="435.9" y="494.3"/><use href="#d" x="406.2" y="504.8"/><use href="#d" x="394.3" y="550.4"/><use href="#d" x="400.8" y="486.4"/><use href="#d" x="408.1" y="508.5"/><use href="#d" x="415.5" y="584.9"/><use href="#d" x="414.6" y="607.1"/><use href="#d" x="406.0" y="566.4"/><use href="#d" x="409.6" y="485.9"/><use href="#d" x="380.4" y="484.2"/><use href="#d" x="436.4" y="534.5"/><use href="#d" x="398.3" y="505.9"/><use href="#d" x="396.0" y="495.2"/><use href="#d" x="403.5" y="515.5"/><use href="#d" x="455.6" y="494.0"/><use href="#d" x="402.0" y="521.4"/><use href="#d" x="479.5" y="497.6"/><use href="#d" x="342.0" y="596.0"/><use href="#d" x="396.0" y="590.9"/><use href="#d" x="461.3" y="506.5"/><use href="#d" x="394.2" y="516.8"/><use href="#d" x="410.4" y="527.9"/><use href="#d" x="413.7" y="595.3"/><use href="#d" x="383.7" y="491.7"/><use href="#d" x="415.9" y="500.2"/><use href="#d" x="375.9" y="498.6"/><use href="#d" x="424.4" y="593.7"/><use href="#d" x="431.6" y="498.8"/><use href="#d" x="378.8" y="527.6"/><use href="#d" x="395.4" y="502.0"/><use href="#d" x="435.1" y="492.3"/><use href="#d" x="400.1" y="527.2"/><use href="#d" x="439.6" y="487.6"/><use href="#d" x="380.2" y="487.5"/><use href="#d" x="389.0" y="525.5"/><use href="#d" x="393.2" y="493.4"/><use href="#d" x="425.0" y="583.2"/><use href="#d" x="407.4" y="563.3"/><use href="#d" x="405.9" y="589.1"/><use href="#d" x="386.7" y="512.2"/><use href="#d" x="383.6" y="531.5"/></g><line x1="341.30" y1="540.90" x2="482.50" y2="477.80" stroke="#2a2a2a" stroke-width="1.2"/><rect x="341.2" y="458.0" width="148.5" height="151.3" fill="none" stroke="#7a7a7a" stroke-width="0.8"/><line x1="338.00" y1="609.30" x2="341.20" y2="609.30" stroke="#333" stroke-width="0.75"/><text x="337.3" y="611.8" font-size="7" fill="#222" text-anchor="end" textLength="10.2" lengthAdjust="spacingAndGlyphs">0.0</text><line x1="338.00" y1="579.04" x2="341.20" y2="579.04" stroke="#333" stroke-width="0.75"/><text x="337.3" y="581.5" font-size="7" fill="#222" text-anchor="end" textLength="10.2" lengthAdjust="spacingAndGlyphs">0.2</text><line x1="338.00" y1="548.78" x2="341.20" y2="548.78" stroke="#333" stroke-width="0.75"/><text x="337.3" y="551.3" font-size="7" fill="#222" text-anchor="end" textLength="10.2" lengthAdjust="spacingAndGlyphs">0.4</text><line x1="338.00" y1="518.52" x2="341.20" y2="518.52" stroke="#333" stroke-width="0.75"/><text x="337.3" y="521.0" font-size="7" fill="#222" text-anchor="end" textLength="10.2" lengthAdjust="spacingAndGlyphs">0.6</text><line x1="338.00" y1="488.26" x2="341.20" y2="488.26" stroke="#333" stroke-width="0.75"/><text x="337.3" y="490.8" font-size="7" fill="#222" text-anchor="end" textLength="10.2" lengthAdjust="spacingAndGlyphs">0.8</text><line x1="338.00" y1="458.00" x2="341.20" y2="458.00" stroke="#333" stroke-width="0.75"/><text x="337.3" y="460.5" font-size="7" fill="#222" text-anchor="end" textLength="10.2" lengthAdjust="spacingAndGlyphs">1.0</text><line x1="341.40" y1="609.30" x2="341.40" y2="612.50" stroke="#333" stroke-width="0.75"/><text x="341.8" y="618.8" font-size="7.0" fill="#222" text-anchor="middle">10<tspan font-size="4.6" dy="-2.6">0</tspan></text><line x1="350.36" y1="609.30" x2="350.36" y2="611.10" stroke="#333" stroke-width="0.55"/><line x1="355.59" y1="609.30" x2="355.59" y2="611.10" stroke="#333" stroke-width="0.55"/><line x1="359.31" y1="609.30" x2="359.31" y2="611.10" stroke="#333" stroke-width="0.55"/><line x1="362.19" y1="609.30" x2="362.19" y2="611.10" stroke="#333" stroke-width="0.55"/><line x1="364.55" y1="609.30" x2="364.55" y2="611.10" stroke="#333" stroke-width="0.55"/><line x1="366.54" y1="609.30" x2="366.54" y2="611.10" stroke="#333" stroke-width="0.55"/><line x1="368.27" y1="609.30" x2="368.27" y2="611.10" stroke="#333" stroke-width="0.55"/><line x1="369.79" y1="609.30" x2="369.79" y2="611.10" stroke="#333" stroke-width="0.55"/><line x1="371.15" y1="609.30" x2="371.15" y2="612.50" stroke="#333" stroke-width="0.75"/><text x="371.5" y="618.8" font-size="7.0" fill="#222" text-anchor="middle">10<tspan font-size="4.6" dy="-2.6">1</tspan></text><line x1="380.11" y1="609.30" x2="380.11" y2="611.10" stroke="#333" stroke-width="0.55"/><line x1="385.34" y1="609.30" x2="385.34" y2="611.10" stroke="#333" stroke-width="0.55"/><line x1="389.06" y1="609.30" x2="389.06" y2="611.10" stroke="#333" stroke-width="0.55"/><line x1="391.94" y1="609.30" x2="391.94" y2="611.10" stroke="#333" stroke-width="0.55"/><line x1="394.30" y1="609.30" x2="394.30" y2="611.10" stroke="#333" stroke-width="0.55"/><line x1="396.29" y1="609.30" x2="396.29" y2="611.10" stroke="#333" stroke-width="0.55"/><line x1="398.02" y1="609.30" x2="398.02" y2="611.10" stroke="#333" stroke-width="0.55"/><line x1="399.54" y1="609.30" x2="399.54" y2="611.10" stroke="#333" stroke-width="0.55"/><line x1="400.90" y1="609.30" x2="400.90" y2="612.50" stroke="#333" stroke-width="0.75"/><text x="401.3" y="618.8" font-size="7.0" fill="#222" text-anchor="middle">10<tspan font-size="4.6" dy="-2.6">2</tspan></text><line x1="409.86" y1="609.30" x2="409.86" y2="611.10" stroke="#333" stroke-width="0.55"/><line x1="415.09" y1="609.30" x2="415.09" y2="611.10" stroke="#333" stroke-width="0.55"/><line x1="418.81" y1="609.30" x2="418.81" y2="611.10" stroke="#333" stroke-width="0.55"/><line x1="421.69" y1="609.30" x2="421.69" y2="611.10" stroke="#333" stroke-width="0.55"/><line x1="424.05" y1="609.30" x2="424.05" y2="611.10" stroke="#333" stroke-width="0.55"/><line x1="426.04" y1="609.30" x2="426.04" y2="611.10" stroke="#333" stroke-width="0.55"/><line x1="427.77" y1="609.30" x2="427.77" y2="611.10" stroke="#333" stroke-width="0.55"/><line x1="429.29" y1="609.30" x2="429.29" y2="611.10" stroke="#333" stroke-width="0.55"/><line x1="430.65" y1="609.30" x2="430.65" y2="612.50" stroke="#333" stroke-width="0.75"/><text x="431.0" y="618.8" font-size="7.0" fill="#222" text-anchor="middle">10<tspan font-size="4.6" dy="-2.6">3</tspan></text><line x1="439.61" y1="609.30" x2="439.61" y2="611.10" stroke="#333" stroke-width="0.55"/><line x1="444.84" y1="609.30" x2="444.84" y2="611.10" stroke="#333" stroke-width="0.55"/><line x1="448.56" y1="609.30" x2="448.56" y2="611.10" stroke="#333" stroke-width="0.55"/><line x1="451.44" y1="609.30" x2="451.44" y2="611.10" stroke="#333" stroke-width="0.55"/><line x1="453.80" y1="609.30" x2="453.80" y2="611.10" stroke="#333" stroke-width="0.55"/><line x1="455.79" y1="609.30" x2="455.79" y2="611.10" stroke="#333" stroke-width="0.55"/><line x1="457.52" y1="609.30" x2="457.52" y2="611.10" stroke="#333" stroke-width="0.55"/><line x1="459.04" y1="609.30" x2="459.04" y2="611.10" stroke="#333" stroke-width="0.55"/><line x1="460.40" y1="609.30" x2="460.40" y2="612.50" stroke="#333" stroke-width="0.75"/><text x="460.8" y="618.8" font-size="7.0" fill="#222" text-anchor="middle">10<tspan font-size="4.6" dy="-2.6">4</tspan></text><line x1="469.36" y1="609.30" x2="469.36" y2="611.10" stroke="#333" stroke-width="0.55"/><line x1="474.59" y1="609.30" x2="474.59" y2="611.10" stroke="#333" stroke-width="0.55"/><line x1="478.31" y1="609.30" x2="478.31" y2="611.10" stroke="#333" stroke-width="0.55"/><line x1="481.19" y1="609.30" x2="481.19" y2="611.10" stroke="#333" stroke-width="0.55"/><line x1="483.55" y1="609.30" x2="483.55" y2="611.10" stroke="#333" stroke-width="0.55"/><line x1="485.54" y1="609.30" x2="485.54" y2="611.10" stroke="#333" stroke-width="0.55"/><line x1="487.27" y1="609.30" x2="487.27" y2="611.10" stroke="#333" stroke-width="0.55"/><line x1="488.79" y1="609.30" x2="488.79" y2="611.10" stroke="#333" stroke-width="0.55"/><text x="323.7" y="533.6" font-size="9.1" fill="#222" text-anchor="middle" textLength="109.3" lengthAdjust="spacingAndGlyphs" transform="rotate(-90 323.7 533.6)">Dice Similarity Coefficient</text><g fill="#0e0eff"><use href="#d" x="601.4" y="533.4"/><use href="#d" x="589.3" y="571.1"/><use href="#d" x="667.1" y="469.6"/><use href="#d" x="628.2" y="526.5"/><use href="#d" x="609.1" y="498.7"/><use href="#d" x="642.6" y="491.5"/><use href="#d" x="620.9" y="519.5"/><use href="#d" x="625.1" y="518.3"/><use href="#d" x="584.6" y="555.4"/><use href="#d" x="598.3" y="543.3"/><use href="#d" x="591.3" y="557.5"/><use href="#d" x="627.5" y="509.1"/><use href="#d" x="584.3" y="571.1"/><use href="#d" x="620.0" y="536.8"/><use href="#d" x="630.2" y="507.4"/><use href="#d" x="607.9" y="548.9"/><use href="#d" x="609.6" y="520.2"/><use href="#d" x="598.7" y="543.8"/><use href="#d" x="631.2" y="515.5"/><use href="#d" x="635.2" y="478.1"/><use href="#d" x="596.3" y="530.8"/><use href="#d" x="625.5" y="522.7"/><use href="#d" x="623.1" y="515.1"/><use href="#d" x="593.7" y="531.7"/><use href="#d" x="632.8" y="506.8"/><use href="#d" x="605.7" y="533.7"/><use href="#d" x="632.5" y="512.4"/><use href="#d" x="603.2" y="566.5"/><use href="#d" x="585.8" y="545.8"/><use href="#d" x="572.7" y="554.4"/><use href="#d" x="599.3" y="491.4"/><use href="#d" x="589.6" y="550.3"/><use href="#d" x="634.9" y="508.6"/><use href="#d" x="597.5" y="538.4"/><use href="#d" x="609.1" y="543.8"/><use href="#d" x="629.0" y="514.3"/><use href="#d" x="641.6" y="466.8"/><use href="#d" x="649.4" y="547.6"/><use href="#d" x="624.0" y="509.6"/><use href="#d" x="613.0" y="533.7"/><use href="#d" x="617.0" y="542.8"/><use href="#d" x="672.9" y="477.6"/><use href="#d" x="605.6" y="544.3"/><use href="#d" x="591.6" y="551.0"/><use href="#d" x="597.5" y="543.3"/><use href="#d" x="605.1" y="530.4"/><use href="#d" x="638.8" y="484.8"/><use href="#d" x="645.6" y="502.0"/><use href="#d" x="630.1" y="501.1"/><use href="#d" x="631.6" y="510.1"/><use href="#d" x="668.3" y="470.3"/><use href="#d" x="610.4" y="582.2"/><use href="#d" x="584.2" y="542.8"/><use href="#d" x="597.1" y="534.7"/><use href="#d" x="582.3" y="539.5"/><use href="#d" x="616.2" y="494.5"/><use href="#d" x="641.7" y="508.6"/><use href="#d" x="622.9" y="517.9"/><use href="#d" x="571.6" y="552.6"/><use href="#d" x="629.5" y="501.3"/><use href="#d" x="579.2" y="551.0"/><use href="#d" x="613.6" y="532.9"/><use href="#d" x="640.8" y="482.4"/><use href="#d" x="590.3" y="557.5"/><use href="#d" x="623.4" y="507.4"/><use href="#d" x="583.0" y="557.5"/><use href="#d" x="632.9" y="499.0"/><use href="#d" x="618.8" y="528.6"/><use href="#d" x="605.5" y="526.2"/><use href="#d" x="614.6" y="540.7"/><use href="#d" x="657.8" y="488.5"/><use href="#d" x="606.9" y="571.1"/><use href="#d" x="610.1" y="527.2"/><use href="#d" x="643.1" y="491.1"/><use href="#d" x="627.0" y="502.8"/><use href="#d" x="611.2" y="542.4"/><use href="#d" x="595.4" y="552.6"/><use href="#d" x="589.7" y="599.8"/><use href="#d" x="592.4" y="561.4"/><use href="#d" x="594.0" y="551.0"/><use href="#d" x="638.1" y="504.1"/><use href="#d" x="654.0" y="488.5"/><use href="#d" x="589.2" y="558.7"/><use href="#d" x="614.8" y="516.2"/><use href="#d" x="596.8" y="541.9"/><use href="#d" x="576.6" y="564.6"/><use href="#d" x="584.4" y="556.4"/><use href="#d" x="618.4" y="517.8"/><use href="#d" x="602.6" y="534.5"/><use href="#d" x="613.8" y="517.8"/><use href="#d" x="608.4" y="518.9"/><use href="#d" x="675.2" y="467.4"/><use href="#d" x="677.8" y="464.7"/><use href="#d" x="595.4" y="543.8"/><use href="#d" x="637.4" y="507.5"/><use href="#d" x="591.1" y="545.3"/><use href="#d" x="586.3" y="564.6"/><use href="#d" x="613.0" y="527.5"/><use href="#d" x="618.5" y="518.6"/><use href="#d" x="632.6" y="493.5"/><use href="#d" x="576.4" y="588.7"/><use href="#d" x="574.5" y="568.6"/><use href="#d" x="596.5" y="545.8"/><use href="#d" x="596.1" y="536.8"/><use href="#d" x="627.5" y="521.6"/><use href="#d" x="589.0" y="548.2"/><use href="#d" x="610.9" y="515.2"/><use href="#d" x="646.9" y="490.8"/><use href="#d" x="581.8" y="561.4"/><use href="#d" x="577.7" y="599.8"/><use href="#d" x="612.0" y="526.0"/><use href="#d" x="613.7" y="526.7"/><use href="#d" x="586.0" y="574.0"/><use href="#d" x="615.3" y="533.2"/><use href="#d" x="595.8" y="548.2"/><use href="#d" x="582.4" y="553.5"/><use href="#d" x="615.7" y="519.5"/><use href="#d" x="612.9" y="533.7"/><use href="#d" x="601.4" y="532.2"/><use href="#d" x="598.4" y="537.1"/><use href="#d" x="588.7" y="542.8"/><use href="#d" x="634.6" y="509.2"/><use href="#d" x="593.0" y="599.8"/><use href="#d" x="664.9" y="471.9"/><use href="#d" x="636.9" y="494.7"/><use href="#d" x="663.4" y="478.6"/><use href="#d" x="573.7" y="571.1"/><use href="#d" x="594.0" y="557.5"/><use href="#d" x="596.9" y="541.5"/><use href="#d" x="587.0" y="571.1"/><use href="#d" x="623.2" y="521.4"/><use href="#d" x="609.9" y="531.3"/><use href="#d" x="645.3" y="497.3"/><use href="#d" x="630.4" y="496.9"/><use href="#d" x="643.4" y="507.3"/><use href="#d" x="604.8" y="532.2"/><use href="#d" x="611.6" y="517.7"/><use href="#d" x="624.5" y="508.6"/><use href="#d" x="586.2" y="562.9"/><use href="#d" x="590.1" y="566.5"/><use href="#d" x="609.2" y="553.5"/><use href="#d" x="594.8" y="549.6"/><use href="#d" x="640.5" y="496.5"/><use href="#d" x="574.1" y="560.0"/><use href="#d" x="591.4" y="553.5"/><use href="#d" x="628.9" y="507.8"/><use href="#d" x="653.8" y="496.6"/><use href="#d" x="566.7" y="554.4"/><use href="#d" x="585.2" y="541.5"/><use href="#d" x="603.5" y="530.6"/><use href="#d" x="588.9" y="533.7"/><use href="#d" x="615.2" y="539.9"/><use href="#d" x="603.6" y="548.2"/><use href="#d" x="606.5" y="534.5"/><use href="#d" x="578.1" y="558.7"/><use href="#d" x="607.9" y="536.8"/><use href="#d" x="563.5" y="599.8"/><use href="#d" x="624.2" y="519.8"/><use href="#d" x="593.7" y="531.3"/><use href="#d" x="651.9" y="488.2"/><use href="#d" x="627.2" y="535.0"/><use href="#d" x="608.0" y="469.0"/><use href="#d" x="583.6" y="562.9"/><use href="#d" x="599.7" y="556.4"/><use href="#d" x="625.9" y="506.5"/><use href="#d" x="608.6" y="542.8"/><use href="#d" x="659.4" y="493.4"/><use href="#d" x="601.7" y="543.8"/><use href="#d" x="627.6" y="497.2"/><use href="#d" x="620.3" y="520.5"/><use href="#d" x="648.3" y="478.3"/><use href="#d" x="652.1" y="483.7"/><use href="#d" x="617.2" y="506.1"/><use href="#d" x="629.9" y="505.0"/><use href="#d" x="603.0" y="532.2"/><use href="#d" x="657.5" y="503.0"/><use href="#d" x="601.9" y="562.9"/><use href="#d" x="627.3" y="526.2"/><use href="#d" x="606.8" y="537.8"/><use href="#d" x="608.8" y="525.2"/><use href="#d" x="607.0" y="554.4"/><use href="#d" x="635.4" y="514.3"/><use href="#d" x="629.3" y="571.1"/><use href="#d" x="587.8" y="551.0"/><use href="#d" x="609.9" y="541.1"/><use href="#d" x="626.1" y="528.8"/><use href="#d" x="639.0" y="503.6"/><use href="#d" x="609.5" y="532.2"/><use href="#d" x="677.5" y="497.1"/><use href="#d" x="605.2" y="560.0"/><use href="#d" x="656.0" y="493.1"/><use href="#d" x="656.6" y="485.6"/><use href="#d" x="624.8" y="524.8"/><use href="#d" x="671.6" y="467.9"/><use href="#d" x="592.6" y="574.0"/><use href="#d" x="568.6" y="577.6"/><use href="#d" x="651.2" y="474.1"/><use href="#d" x="663.0" y="489.3"/><use href="#d" x="592.4" y="599.8"/><use href="#d" x="649.3" y="494.1"/><use href="#d" x="601.5" y="546.4"/><use href="#d" x="588.3" y="564.6"/><use href="#d" x="581.1" y="566.5"/><use href="#d" x="591.6" y="534.5"/><use href="#d" x="644.6" y="486.2"/><use href="#d" x="649.6" y="477.8"/><use href="#d" x="604.5" y="599.8"/><use href="#d" x="597.7" y="541.5"/><use href="#d" x="666.7" y="490.0"/><use href="#d" x="616.6" y="518.5"/><use href="#d" x="628.4" y="509.8"/><use href="#d" x="619.0" y="520.3"/><use href="#d" x="655.6" y="478.3"/><use href="#d" x="661.3" y="524.9"/><use href="#d" x="615.1" y="522.0"/><use href="#d" x="606.1" y="542.4"/><use href="#d" x="595.8" y="537.1"/><use href="#d" x="646.8" y="488.8"/><use href="#d" x="579.3" y="571.1"/><use href="#d" x="607.5" y="534.2"/><use href="#d" x="665.4" y="464.1"/><use href="#d" x="598.3" y="548.2"/><use href="#d" x="606.4" y="531.0"/><use href="#d" x="579.1" y="574.0"/><use href="#d" x="651.3" y="496.6"/><use href="#d" x="585.9" y="553.5"/><use href="#d" x="638.4" y="495.4"/><use href="#d" x="609.2" y="537.8"/><use href="#d" x="599.7" y="522.0"/><use href="#d" x="676.8" y="481.0"/><use href="#d" x="559.2" y="588.7"/><use href="#d" x="614.2" y="516.1"/><use href="#d" x="650.1" y="480.8"/><use href="#d" x="580.4" y="539.2"/><use href="#d" x="565.4" y="577.6"/><use href="#d" x="665.7" y="483.4"/><use href="#d" x="644.7" y="507.2"/><use href="#d" x="596.0" y="555.4"/><use href="#d" x="577.1" y="599.8"/><use href="#d" x="631.5" y="512.7"/><use href="#d" x="598.9" y="535.9"/><use href="#d" x="580.5" y="558.7"/><use href="#d" x="633.3" y="506.0"/><use href="#d" x="612.8" y="513.4"/><use href="#d" x="623.1" y="524.3"/><use href="#d" x="612.1" y="528.0"/><use href="#d" x="629.3" y="518.4"/><use href="#d" x="602.9" y="530.8"/><use href="#d" x="600.3" y="552.6"/><use href="#d" x="611.2" y="539.5"/><use href="#d" x="586.3" y="545.8"/><use href="#d" x="600.7" y="561.4"/><use href="#d" x="649.5" y="477.5"/><use href="#d" x="592.5" y="541.9"/><use href="#d" x="658.5" y="483.0"/><use href="#d" x="607.8" y="537.1"/><use href="#d" x="604.7" y="531.3"/><use href="#d" x="594.4" y="542.8"/><use href="#d" x="654.8" y="492.5"/><use href="#d" x="584.0" y="552.6"/><use href="#d" x="625.6" y="523.1"/><use href="#d" x="611.6" y="534.7"/><use href="#d" x="661.5" y="478.8"/><use href="#d" x="605.0" y="535.3"/><use href="#d" x="592.7" y="551.0"/><use href="#d" x="592.8" y="548.9"/><use href="#d" x="654.6" y="488.6"/><use href="#d" x="633.7" y="509.7"/><use href="#d" x="665.1" y="465.0"/><use href="#d" x="634.5" y="494.1"/><use href="#d" x="584.8" y="562.9"/><use href="#d" x="570.8" y="588.7"/><use href="#d" x="642.5" y="491.5"/><use href="#d" x="632.0" y="492.5"/><use href="#d" x="597.7" y="560.0"/><use href="#d" x="640.3" y="499.8"/><use href="#d" x="585.8" y="549.6"/><use href="#d" x="602.0" y="544.3"/><use href="#d" x="658.7" y="481.5"/><use href="#d" x="601.0" y="542.4"/><use href="#d" x="617.3" y="526.0"/><use href="#d" x="595.1" y="544.3"/><use href="#d" x="635.9" y="516.0"/><use href="#d" x="665.3" y="467.5"/><use href="#d" x="609.4" y="530.2"/><use href="#d" x="617.7" y="520.8"/><use href="#d" x="593.8" y="554.4"/><use href="#d" x="656.8" y="497.0"/><use href="#d" x="622.5" y="519.1"/><use href="#d" x="574.2" y="566.5"/><use href="#d" x="596.7" y="568.6"/><use href="#d" x="608.5" y="520.5"/><use href="#d" x="610.8" y="514.5"/><use href="#d" x="598.1" y="545.8"/><use href="#d" x="604.5" y="588.7"/><use href="#d" x="655.0" y="474.7"/><use href="#d" x="582.1" y="548.9"/><use href="#d" x="581.1" y="588.7"/><use href="#d" x="589.6" y="537.4"/><use href="#d" x="591.2" y="599.8"/><use href="#d" x="602.3" y="543.3"/><use href="#d" x="586.4" y="536.5"/><use href="#d" x="612.1" y="537.1"/><use href="#d" x="551.8" y="588.7"/><use href="#d" x="609.4" y="532.9"/><use href="#d" x="595.8" y="566.5"/><use href="#d" x="580.8" y="541.9"/><use href="#d" x="614.0" y="541.5"/><use href="#d" x="622.7" y="519.8"/><use href="#d" x="576.7" y="558.7"/><use href="#d" x="584.7" y="553.5"/><use href="#d" x="613.5" y="514.3"/><use href="#d" x="592.3" y="503.5"/><use href="#d" x="580.9" y="577.6"/><use href="#d" x="618.7" y="530.8"/><use href="#d" x="582.4" y="577.6"/><use href="#d" x="646.3" y="527.9"/><use href="#d" x="580.7" y="566.5"/><use href="#d" x="603.8" y="532.2"/><use href="#d" x="594.5" y="547.6"/><use href="#d" x="646.5" y="483.4"/><use href="#d" x="657.0" y="472.0"/><use href="#d" x="672.8" y="465.3"/><use href="#d" x="660.1" y="487.7"/><use href="#d" x="585.1" y="554.4"/><use href="#d" x="582.0" y="564.6"/><use href="#d" x="640.0" y="507.3"/><use href="#d" x="625.5" y="504.1"/><use href="#d" x="599.7" y="588.7"/><use href="#d" x="608.7" y="535.9"/><use href="#d" x="593.3" y="599.8"/><use href="#d" x="595.1" y="544.3"/><use href="#d" x="620.1" y="508.4"/><use href="#d" x="653.1" y="483.3"/><use href="#d" x="669.9" y="468.9"/><use href="#d" x="628.0" y="510.8"/><use href="#d" x="587.9" y="566.5"/><use href="#d" x="581.7" y="547.6"/><use href="#d" x="601.7" y="537.8"/><use href="#d" x="666.6" y="486.9"/><use href="#d" x="649.0" y="490.0"/><use href="#d" x="581.0" y="556.4"/><use href="#d" x="610.9" y="518.6"/><use href="#d" x="675.9" y="469.1"/><use href="#d" x="577.5" y="555.4"/><use href="#d" x="635.4" y="504.0"/><use href="#d" x="609.6" y="533.4"/><use href="#d" x="610.3" y="529.4"/><use href="#d" x="651.1" y="481.4"/><use href="#d" x="662.0" y="474.6"/><use href="#d" x="587.4" y="551.8"/><use href="#d" x="633.9" y="500.3"/><use href="#d" x="592.2" y="568.6"/><use href="#d" x="667.6" y="475.2"/><use href="#d" x="577.3" y="566.5"/><use href="#d" x="664.4" y="472.4"/><use href="#d" x="597.9" y="525.7"/><use href="#d" x="582.3" y="548.2"/><use href="#d" x="652.8" y="480.5"/><use href="#d" x="568.9" y="556.4"/><use href="#d" x="633.5" y="516.5"/><use href="#d" x="653.5" y="506.4"/><use href="#d" x="637.9" y="509.4"/><use href="#d" x="648.8" y="495.0"/><use href="#d" x="613.7" y="520.0"/><use href="#d" x="617.9" y="514.7"/><use href="#d" x="622.3" y="519.3"/><use href="#d" x="580.7" y="545.3"/><use href="#d" x="599.4" y="541.5"/><use href="#d" x="662.2" y="477.6"/><use href="#d" x="645.0" y="494.7"/><use href="#d" x="670.6" y="462.0"/><use href="#d" x="618.9" y="511.7"/><use href="#d" x="670.5" y="471.9"/><use href="#d" x="660.6" y="480.6"/><use href="#d" x="593.3" y="599.8"/><use href="#d" x="612.2" y="523.2"/><use href="#d" x="631.9" y="505.6"/><use href="#d" x="658.2" y="478.6"/><use href="#d" x="682.2" y="464.5"/><use href="#d" x="579.9" y="554.4"/><use href="#d" x="602.0" y="571.1"/><use href="#d" x="585.4" y="562.9"/><use href="#d" x="617.4" y="522.8"/><use href="#d" x="658.0" y="484.2"/><use href="#d" x="641.4" y="495.1"/><use href="#d" x="595.3" y="541.1"/><use href="#d" x="618.3" y="522.6"/><use href="#d" x="654.0" y="482.4"/><use href="#d" x="636.3" y="501.7"/><use href="#d" x="676.9" y="463.3"/><use href="#d" x="598.0" y="551.0"/><use href="#d" x="619.3" y="512.1"/><use href="#d" x="587.5" y="541.1"/><use href="#d" x="602.7" y="547.6"/><use href="#d" x="627.1" y="551.8"/><use href="#d" x="604.1" y="534.5"/><use href="#d" x="583.2" y="545.8"/><use href="#d" x="660.5" y="479.2"/><use href="#d" x="564.5" y="577.6"/><use href="#d" x="590.8" y="543.8"/><use href="#d" x="584.6" y="571.1"/><use href="#d" x="594.6" y="554.4"/><use href="#d" x="600.8" y="550.3"/><use href="#d" x="607.7" y="527.0"/><use href="#d" x="655.0" y="485.0"/><use href="#d" x="626.8" y="506.0"/><use href="#d" x="628.3" y="517.4"/><use href="#d" x="603.9" y="527.7"/><use href="#d" x="629.4" y="519.1"/><use href="#d" x="636.9" y="551.0"/><use href="#d" x="587.8" y="599.8"/><use href="#d" x="588.9" y="577.6"/><use href="#d" x="615.0" y="521.6"/><use href="#d" x="601.3" y="525.8"/><use href="#d" x="592.1" y="566.5"/><use href="#d" x="641.0" y="491.5"/><use href="#d" x="655.7" y="476.4"/><use href="#d" x="548.3" y="577.6"/><use href="#d" x="593.1" y="557.5"/><use href="#d" x="615.7" y="541.5"/><use href="#d" x="600.9" y="561.4"/><use href="#d" x="603.4" y="526.5"/><use href="#d" x="627.8" y="497.3"/><use href="#d" x="614.3" y="539.2"/><use href="#d" x="674.1" y="473.0"/><use href="#d" x="609.5" y="524.2"/><use href="#d" x="665.6" y="478.7"/><use href="#d" x="575.6" y="484.2"/><use href="#d" x="614.1" y="531.0"/><use href="#d" x="679.0" y="463.9"/><use href="#d" x="643.6" y="497.6"/><use href="#d" x="599.5" y="535.3"/><use href="#d" x="584.7" y="554.4"/><use href="#d" x="608.4" y="516.9"/><use href="#d" x="574.8" y="552.6"/><use href="#d" x="602.2" y="552.6"/><use href="#d" x="625.0" y="521.3"/><use href="#d" x="628.8" y="513.4"/><use href="#d" x="615.0" y="520.6"/><use href="#d" x="624.4" y="504.1"/><use href="#d" x="615.5" y="531.0"/><use href="#d" x="664.1" y="468.0"/><use href="#d" x="658.0" y="490.0"/><use href="#d" x="623.9" y="513.7"/><use href="#d" x="667.1" y="475.5"/><use href="#d" x="643.2" y="499.0"/><use href="#d" x="635.6" y="494.5"/><use href="#d" x="618.0" y="558.7"/><use href="#d" x="604.3" y="535.6"/><use href="#d" x="576.2" y="542.4"/><use href="#d" x="583.5" y="551.8"/><use href="#d" x="623.7" y="529.2"/><use href="#d" x="611.1" y="540.3"/><use href="#d" x="605.2" y="540.3"/><use href="#d" x="620.9" y="517.4"/><use href="#d" x="583.6" y="551.8"/><use href="#d" x="622.2" y="533.9"/><use href="#d" x="621.6" y="529.4"/><use href="#d" x="619.9" y="532.7"/><use href="#d" x="616.4" y="524.3"/><use href="#d" x="620.4" y="516.6"/><use href="#d" x="602.1" y="540.7"/><use href="#d" x="617.8" y="518.1"/><use href="#d" x="603.5" y="539.2"/><use href="#d" x="611.8" y="528.0"/><use href="#d" x="636.4" y="492.0"/><use href="#d" x="669.8" y="465.1"/><use href="#d" x="592.6" y="553.5"/><use href="#d" x="611.3" y="582.2"/><use href="#d" x="597.4" y="531.9"/><use href="#d" x="587.7" y="558.7"/><use href="#d" x="652.2" y="484.7"/><use href="#d" x="581.5" y="568.6"/><use href="#d" x="629.6" y="531.3"/><use href="#d" x="663.1" y="479.9"/><use href="#d" x="591.0" y="545.3"/><use href="#d" x="603.1" y="515.5"/><use href="#d" x="657.2" y="481.1"/><use href="#d" x="615.8" y="534.7"/><use href="#d" x="602.4" y="588.7"/><use href="#d" x="655.3" y="483.8"/><use href="#d" x="567.7" y="568.6"/><use href="#d" x="621.9" y="531.0"/><use href="#d" x="638.7" y="506.0"/><use href="#d" x="590.1" y="549.6"/><use href="#d" x="605.4" y="546.4"/><use href="#d" x="586.5" y="553.5"/><use href="#d" x="613.6" y="522.4"/><use href="#d" x="595.2" y="552.6"/><use href="#d" x="625.7" y="502.9"/><use href="#d" x="604.6" y="545.3"/><use href="#d" x="608.5" y="566.5"/><use href="#d" x="643.4" y="488.5"/><use href="#d" x="588.5" y="555.4"/><use href="#d" x="601.6" y="546.4"/><use href="#d" x="664.1" y="481.7"/><use href="#d" x="582.6" y="551.0"/><use href="#d" x="603.9" y="564.6"/><use href="#d" x="642.5" y="501.6"/><use href="#d" x="596.2" y="562.9"/><use href="#d" x="633.2" y="518.9"/><use href="#d" x="577.5" y="562.9"/><use href="#d" x="597.3" y="548.9"/><use href="#d" x="620.5" y="510.1"/><use href="#d" x="613.9" y="571.1"/><use href="#d" x="673.8" y="459.3"/><use href="#d" x="616.1" y="564.6"/><use href="#d" x="616.4" y="518.7"/><use href="#d" x="581.1" y="561.4"/><use href="#d" x="611.0" y="522.3"/><use href="#d" x="610.5" y="541.5"/><use href="#d" x="614.1" y="560.0"/><use href="#d" x="633.0" y="499.5"/><use href="#d" x="615.4" y="523.6"/><use href="#d" x="586.1" y="550.3"/><use href="#d" x="626.5" y="516.8"/><use href="#d" x="612.5" y="551.8"/><use href="#d" x="611.0" y="538.4"/><use href="#d" x="625.9" y="521.6"/><use href="#d" x="605.8" y="526.0"/><use href="#d" x="621.2" y="518.4"/><use href="#d" x="575.2" y="571.1"/><use href="#d" x="595.7" y="536.2"/><use href="#d" x="596.4" y="540.7"/><use href="#d" x="592.1" y="564.6"/><use href="#d" x="598.8" y="554.4"/><use href="#d" x="580.1" y="552.6"/><use href="#d" x="658.9" y="462.7"/><use href="#d" x="575.7" y="549.6"/><use href="#d" x="587.2" y="568.6"/><use href="#d" x="634.1" y="496.7"/><use href="#d" x="636.3" y="507.4"/><use href="#d" x="630.8" y="534.7"/><use href="#d" x="582.2" y="548.9"/><use href="#d" x="682.3" y="459.7"/><use href="#d" x="607.2" y="542.8"/><use href="#d" x="605.7" y="529.0"/><use href="#d" x="622.4" y="514.9"/><use href="#d" x="569.7" y="577.6"/><use href="#d" x="649.9" y="480.9"/><use href="#d" x="612.5" y="531.0"/><use href="#d" x="604.7" y="574.0"/><use href="#d" x="600.1" y="577.6"/><use href="#d" x="595.3" y="588.7"/><use href="#d" x="611.9" y="520.8"/><use href="#d" x="611.4" y="539.9"/><use href="#d" x="589.7" y="548.2"/><use href="#d" x="608.0" y="551.8"/><use href="#d" x="615.1" y="536.8"/><use href="#d" x="623.6" y="517.7"/><use href="#d" x="614.4" y="520.4"/><use href="#d" x="589.5" y="541.5"/><use href="#d" x="613.5" y="516.0"/><use href="#d" x="586.1" y="577.6"/><use href="#d" x="591.7" y="553.5"/><use href="#d" x="608.2" y="533.7"/><use href="#d" x="629.0" y="517.1"/><use href="#d" x="578.8" y="557.5"/><use href="#d" x="596.2" y="562.9"/><use href="#d" x="626.7" y="521.2"/><use href="#d" x="593.2" y="533.4"/><use href="#d" x="619.7" y="519.4"/><use href="#d" x="577.9" y="566.5"/><use href="#d" x="671.2" y="495.9"/><use href="#d" x="678.2" y="459.9"/><use href="#d" x="674.8" y="465.5"/><use href="#d" x="646.6" y="496.6"/><use href="#d" x="668.0" y="478.5"/><use href="#d" x="597.2" y="544.3"/><use href="#d" x="590.0" y="548.9"/><use href="#d" x="648.6" y="491.5"/><use href="#d" x="600.9" y="525.1"/><use href="#d" x="650.8" y="489.3"/><use href="#d" x="627.8" y="510.0"/><use href="#d" x="594.2" y="582.2"/><use href="#d" x="599.5" y="532.9"/><use href="#d" x="590.2" y="571.1"/><use href="#d" x="642.8" y="498.1"/><use href="#d" x="589.4" y="561.4"/><use href="#d" x="634.9" y="512.0"/><use href="#d" x="589.9" y="540.3"/><use href="#d" x="611.7" y="512.9"/><use href="#d" x="580.0" y="552.6"/><use href="#d" x="648.8" y="508.7"/><use href="#d" x="642.0" y="502.2"/><use href="#d" x="637.2" y="505.9"/><use href="#d" x="624.1" y="521.1"/><use href="#d" x="593.6" y="531.0"/><use href="#d" x="588.7" y="486.1"/><use href="#d" x="672.6" y="463.0"/><use href="#d" x="620.3" y="519.7"/><use href="#d" x="623.4" y="509.0"/><use href="#d" x="670.4" y="470.6"/><use href="#d" x="586.2" y="599.8"/><use href="#d" x="639.2" y="501.3"/><use href="#d" x="662.8" y="481.7"/><use href="#d" x="610.9" y="545.3"/><use href="#d" x="598.5" y="557.5"/><use href="#d" x="592.1" y="554.4"/><use href="#d" x="642.1" y="550.3"/><use href="#d" x="602.6" y="545.8"/><use href="#d" x="626.7" y="506.8"/><use href="#d" x="586.6" y="582.2"/><use href="#d" x="595.0" y="548.9"/><use href="#d" x="668.7" y="463.3"/><use href="#d" x="599.0" y="560.0"/><use href="#d" x="659.2" y="482.0"/><use href="#d" x="588.1" y="553.5"/><use href="#d" x="609.3" y="520.8"/><use href="#d" x="617.6" y="522.8"/><use href="#d" x="670.2" y="475.3"/><use href="#d" x="614.0" y="523.8"/><use href="#d" x="607.1" y="542.8"/><use href="#d" x="606.4" y="544.3"/><use href="#d" x="603.8" y="537.8"/><use href="#d" x="588.4" y="531.3"/><use href="#d" x="577.8" y="540.7"/><use href="#d" x="642.7" y="486.4"/><use href="#d" x="603.0" y="531.9"/><use href="#d" x="669.0" y="476.0"/><use href="#d" x="632.6" y="503.9"/><use href="#d" x="614.5" y="560.0"/><use href="#d" x="611.5" y="522.4"/><use href="#d" x="592.3" y="568.6"/><use href="#d" x="593.9" y="588.7"/><use href="#d" x="592.7" y="599.8"/><use href="#d" x="625.4" y="503.9"/><use href="#d" x="612.3" y="536.2"/><use href="#d" x="589.1" y="551.8"/><use href="#d" x="590.6" y="555.4"/><use href="#d" x="651.2" y="482.2"/><use href="#d" x="612.4" y="520.2"/><use href="#d" x="588.4" y="557.5"/><use href="#d" x="652.3" y="494.3"/><use href="#d" x="644.2" y="498.7"/><use href="#d" x="612.3" y="520.0"/><use href="#d" x="604.6" y="531.9"/><use href="#d" x="605.9" y="538.4"/><use href="#d" x="646.7" y="489.2"/><use href="#d" x="668.4" y="466.4"/><use href="#d" x="678.0" y="462.6"/><use href="#d" x="593.8" y="542.4"/><use href="#d" x="612.6" y="518.4"/><use href="#d" x="604.4" y="529.2"/><use href="#d" x="610.1" y="541.1"/><use href="#d" x="608.3" y="527.9"/><use href="#d" x="591.1" y="551.0"/><use href="#d" x="621.7" y="520.0"/><use href="#d" x="647.6" y="496.5"/><use href="#d" x="621.3" y="525.2"/><use href="#d" x="610.2" y="527.2"/><use href="#d" x="584.9" y="564.6"/><use href="#d" x="604.0" y="534.5"/><use href="#d" x="612.9" y="511.8"/><use href="#d" x="678.5" y="467.8"/><use href="#d" x="576.1" y="558.7"/><use href="#d" x="616.8" y="539.2"/><use href="#d" x="645.4" y="492.6"/><use href="#d" x="651.7" y="483.0"/><use href="#d" x="659.4" y="484.4"/><use href="#d" x="633.8" y="498.9"/><use href="#d" x="647.6" y="487.4"/><use href="#d" x="681.2" y="460.2"/><use href="#d" x="630.6" y="504.0"/><use href="#d" x="588.5" y="582.2"/><use href="#d" x="605.9" y="536.5"/><use href="#d" x="666.0" y="473.5"/><use href="#d" x="599.1" y="548.9"/><use href="#d" x="680.2" y="482.1"/><use href="#d" x="619.2" y="510.6"/><use href="#d" x="621.4" y="511.0"/><use href="#d" x="621.4" y="520.6"/><use href="#d" x="581.4" y="552.6"/><use href="#d" x="603.1" y="541.1"/><use href="#d" x="628.7" y="494.1"/><use href="#d" x="662.1" y="480.6"/><use href="#d" x="618.1" y="520.8"/><use href="#d" x="637.3" y="494.9"/><use href="#d" x="637.2" y="503.2"/><use href="#d" x="590.7" y="582.2"/><use href="#d" x="596.7" y="540.3"/><use href="#d" x="592.9" y="547.6"/><use href="#d" x="629.9" y="509.6"/><use href="#d" x="614.8" y="582.2"/><use href="#d" x="674.4" y="461.0"/><use href="#d" x="676.4" y="460.3"/><use href="#d" x="661.8" y="476.4"/><use href="#d" x="648.0" y="499.1"/><use href="#d" x="617.7" y="521.4"/><use href="#d" x="661.2" y="484.3"/><use href="#d" x="629.7" y="515.1"/><use href="#d" x="640.8" y="508.3"/><use href="#d" x="589.8" y="553.5"/><use href="#d" x="656.4" y="476.3"/><use href="#d" x="623.5" y="561.4"/><use href="#d" x="645.1" y="501.7"/><use href="#d" x="584.3" y="599.8"/><use href="#d" x="658.4" y="474.2"/><use href="#d" x="632.1" y="510.0"/><use href="#d" x="632.8" y="500.0"/><use href="#d" x="603.6" y="520.3"/><use href="#d" x="579.4" y="547.0"/><use href="#d" x="660.0" y="486.7"/><use href="#d" x="599.6" y="562.9"/><use href="#d" x="584.8" y="537.1"/><use href="#d" x="679.4" y="468.8"/><use href="#d" x="596.9" y="557.5"/><use href="#d" x="606.0" y="539.9"/><use href="#d" x="654.2" y="488.1"/><use href="#d" x="644.7" y="500.4"/><use href="#d" x="658.8" y="486.9"/><use href="#d" x="597.9" y="534.5"/><use href="#d" x="612.8" y="537.1"/><use href="#d" x="635.8" y="481.9"/><use href="#d" x="659.7" y="489.2"/><use href="#d" x="591.9" y="536.5"/><use href="#d" x="678.4" y="501.8"/><use href="#d" x="583.4" y="554.4"/><use href="#d" x="599.0" y="599.8"/><use href="#d" x="637.6" y="508.3"/><use href="#d" x="603.4" y="553.5"/><use href="#d" x="644.0" y="496.3"/><use href="#d" x="642.9" y="513.5"/><use href="#d" x="597.3" y="557.5"/><use href="#d" x="601.9" y="481.3"/><use href="#d" x="645.5" y="493.3"/><use href="#d" x="590.9" y="560.0"/><use href="#d" x="660.3" y="472.4"/><use href="#d" x="587.0" y="537.8"/><use href="#d" x="625.7" y="503.9"/><use href="#d" x="589.4" y="553.5"/><use href="#d" x="626.9" y="508.7"/><use href="#d" x="579.4" y="564.6"/><use href="#d" x="622.9" y="506.0"/><use href="#d" x="587.6" y="555.4"/><use href="#d" x="641.2" y="508.3"/><use href="#d" x="647.2" y="494.3"/><use href="#d" x="594.1" y="540.7"/><use href="#d" x="576.3" y="560.0"/><use href="#d" x="583.1" y="556.4"/><use href="#d" x="586.7" y="561.4"/><use href="#d" x="662.6" y="476.6"/><use href="#d" x="673.6" y="466.5"/><use href="#d" x="640.0" y="499.4"/><use href="#d" x="633.4" y="508.0"/><use href="#d" x="649.0" y="491.5"/><use href="#d" x="663.9" y="481.0"/><use href="#d" x="592.0" y="529.8"/><use href="#d" x="565.6" y="582.2"/><use href="#d" x="599.3" y="538.8"/><use href="#d" x="610.0" y="518.7"/><use href="#d" x="644.3" y="508.9"/><use href="#d" x="588.2" y="568.6"/><use href="#d" x="657.4" y="477.6"/><use href="#d" x="653.3" y="468.7"/><use href="#d" x="669.3" y="463.6"/><use href="#d" x="639.7" y="503.6"/><use href="#d" x="671.0" y="472.4"/><use href="#d" x="609.0" y="544.8"/><use href="#d" x="567.2" y="571.1"/><use href="#d" x="611.2" y="520.5"/><use href="#d" x="579.5" y="560.0"/><use href="#d" x="665.0" y="472.6"/><use href="#d" x="607.6" y="524.9"/><use href="#d" x="625.8" y="520.6"/><use href="#d" x="673.7" y="515.6"/><use href="#d" x="658.2" y="480.6"/><use href="#d" x="582.9" y="562.9"/><use href="#d" x="632.2" y="566.5"/><use href="#d" x="652.4" y="483.1"/><use href="#d" x="575.0" y="489.7"/><use href="#d" x="656.1" y="495.1"/><use href="#d" x="605.4" y="532.4"/><use href="#d" x="601.5" y="541.1"/><use href="#d" x="669.5" y="470.5"/><use href="#d" x="611.1" y="541.1"/><use href="#d" x="591.5" y="549.6"/><use href="#d" x="642.4" y="502.3"/><use href="#d" x="645.0" y="501.0"/><use href="#d" x="595.5" y="547.0"/><use href="#d" x="593.5" y="566.5"/><use href="#d" x="602.8" y="535.6"/><use href="#d" x="595.7" y="582.2"/><use href="#d" x="607.0" y="582.2"/><use href="#d" x="648.2" y="505.5"/><use href="#d" x="607.1" y="476.6"/><use href="#d" x="607.5" y="530.4"/><use href="#d" x="641.9" y="462.0"/><use href="#d" x="657.7" y="485.2"/><use href="#d" x="607.6" y="523.6"/><use href="#d" x="602.2" y="543.3"/><use href="#d" x="599.9" y="535.9"/><use href="#d" x="648.5" y="492.1"/><use href="#d" x="554.9" y="577.6"/><use href="#d" x="595.9" y="552.6"/><use href="#d" x="624.5" y="522.2"/><use href="#d" x="606.4" y="539.9"/><use href="#d" x="636.5" y="501.3"/><use href="#d" x="580.5" y="599.8"/><use href="#d" x="606.9" y="544.3"/><use href="#d" x="579.7" y="551.0"/><use href="#d" x="585.9" y="551.8"/><use href="#d" x="644.4" y="491.8"/><use href="#d" x="618.2" y="521.8"/><use href="#d" x="612.2" y="512.2"/><use href="#d" x="635.3" y="499.2"/><use href="#d" x="616.7" y="521.1"/><use href="#d" x="584.5" y="544.3"/><use href="#d" x="620.6" y="518.6"/><use href="#d" x="601.6" y="532.2"/><use href="#d" x="604.2" y="538.8"/><use href="#d" x="616.8" y="509.1"/><use href="#d" x="682.5" y="458.2"/><use href="#d" x="579.9" y="550.3"/><use href="#d" x="651.5" y="491.0"/><use href="#d" x="587.2" y="553.5"/><use href="#d" x="628.1" y="506.4"/><use href="#d" x="595.2" y="574.0"/><use href="#d" x="562.6" y="599.8"/><use href="#d" x="579.8" y="558.7"/><use href="#d" x="610.3" y="543.8"/><use href="#d" x="585.7" y="547.0"/><use href="#d" x="672.2" y="464.5"/><use href="#d" x="641.5" y="502.2"/><use href="#d" x="610.7" y="521.8"/><use href="#d" x="623.8" y="517.7"/><use href="#d" x="616.3" y="515.9"/><use href="#d" x="601.8" y="525.5"/><use href="#d" x="644.8" y="491.2"/><use href="#d" x="619.6" y="507.1"/><use href="#d" x="641.3" y="495.8"/><use href="#d" x="585.5" y="554.4"/><use href="#d" x="675.8" y="461.9"/><use href="#d" x="583.8" y="530.0"/><use href="#d" x="616.9" y="519.9"/><use href="#d" x="659.6" y="477.0"/><use href="#d" x="590.6" y="544.3"/><use href="#d" x="657.0" y="492.7"/><use href="#d" x="657.3" y="481.6"/><use href="#d" x="599.1" y="549.6"/><use href="#d" x="620.1" y="522.3"/><use href="#d" x="652.6" y="496.0"/><use href="#d" x="597.6" y="544.3"/><use href="#d" x="600.5" y="530.6"/><use href="#d" x="592.7" y="539.9"/><use href="#d" x="575.1" y="561.4"/><use href="#d" x="596.1" y="552.6"/><use href="#d" x="632.2" y="507.2"/><use href="#d" x="630.1" y="525.5"/><use href="#d" x="634.3" y="512.3"/><use href="#d" x="654.5" y="487.9"/><use href="#d" x="584.4" y="599.8"/><use href="#d" x="613.3" y="535.0"/><use href="#d" x="668.8" y="465.5"/><use href="#d" x="674.5" y="460.3"/><use href="#d" x="632.7" y="506.9"/><use href="#d" x="588.0" y="557.5"/><use href="#d" x="620.7" y="530.4"/><use href="#d" x="607.4" y="527.5"/><use href="#d" x="615.6" y="527.7"/><use href="#d" x="582.0" y="529.0"/><use href="#d" x="604.2" y="528.4"/><use href="#d" x="649.4" y="480.9"/><use href="#d" x="625.2" y="523.6"/><use href="#d" x="617.1" y="524.3"/><use href="#d" x="621.2" y="541.5"/><use href="#d" x="583.9" y="551.8"/><use href="#d" x="626.0" y="518.5"/><use href="#d" x="586.5" y="555.4"/><use href="#d" x="605.0" y="532.4"/><use href="#d" x="591.2" y="539.2"/><use href="#d" x="606.1" y="529.2"/><use href="#d" x="595.5" y="528.6"/><use href="#d" x="586.6" y="544.3"/><use href="#d" x="596.4" y="552.6"/><use href="#d" x="599.3" y="544.3"/><use href="#d" x="605.8" y="548.9"/><use href="#d" x="587.7" y="546.4"/><use href="#d" x="598.9" y="539.9"/><use href="#d" x="672.7" y="498.2"/><use href="#d" x="620.5" y="555.4"/><use href="#d" x="640.7" y="489.8"/><use href="#d" x="588.8" y="544.8"/><use href="#d" x="632.4" y="511.6"/><use href="#d" x="648.7" y="485.5"/><use href="#d" x="614.4" y="526.7"/><use href="#d" x="666.5" y="471.8"/><use href="#d" x="594.8" y="544.8"/><use href="#d" x="574.4" y="551.8"/><use href="#d" x="640.2" y="498.3"/><use href="#d" x="654.3" y="495.4"/><use href="#d" x="594.2" y="560.0"/><use href="#d" x="631.1" y="506.3"/><use href="#d" x="610.6" y="536.5"/><use href="#d" x="667.5" y="467.1"/><use href="#d" x="596.7" y="574.0"/><use href="#d" x="585.7" y="550.3"/><use href="#d" x="606.7" y="534.5"/><use href="#d" x="629.2" y="489.6"/><use href="#d" x="643.8" y="489.2"/><use href="#d" x="650.5" y="486.0"/><use href="#d" x="603.3" y="530.8"/><use href="#d" x="612.0" y="551.8"/><use href="#d" x="581.8" y="564.6"/><use href="#d" x="615.2" y="514.0"/><use href="#d" x="626.6" y="502.8"/><use href="#d" x="581.4" y="562.9"/><use href="#d" x="581.7" y="577.6"/><use href="#d" x="628.6" y="523.2"/><use href="#d" x="607.3" y="528.4"/><use href="#d" x="613.4" y="529.4"/><use href="#d" x="610.2" y="520.0"/><use href="#d" x="600.6" y="542.8"/><use href="#d" x="668.1" y="470.3"/><use href="#d" x="604.3" y="531.5"/><use href="#d" x="611.8" y="530.4"/><use href="#d" x="630.3" y="514.1"/><use href="#d" x="659.9" y="484.2"/><use href="#d" x="674.7" y="466.5"/><use href="#d" x="664.3" y="475.6"/><use href="#d" x="606.5" y="524.8"/><use href="#d" x="580.8" y="556.4"/><use href="#d" x="638.2" y="506.6"/><use href="#d" x="609.3" y="542.4"/><use href="#d" x="652.9" y="484.7"/><use href="#d" x="598.6" y="582.2"/><use href="#d" x="662.7" y="469.1"/><use href="#d" x="614.3" y="527.9"/><use href="#d" x="582.7" y="588.7"/><use href="#d" x="629.1" y="551.0"/><use href="#d" x="628.4" y="503.7"/><use href="#d" x="590.8" y="537.8"/><use href="#d" x="591.8" y="562.9"/><use href="#d" x="598.1" y="543.8"/><use href="#d" x="600.4" y="538.4"/><use href="#d" x="620.6" y="518.3"/><use href="#d" x="647.8" y="509.5"/><use href="#d" x="675.8" y="463.9"/><use href="#d" x="663.3" y="477.0"/><use href="#d" x="601.1" y="529.2"/><use href="#d" x="628.8" y="513.8"/><use href="#d" x="590.5" y="577.6"/><use href="#d" x="613.2" y="529.4"/><use href="#d" x="638.5" y="510.6"/><use href="#d" x="667.9" y="468.2"/><use href="#d" x="610.7" y="511.5"/><use href="#d" x="632.3" y="516.2"/><use href="#d" x="600.0" y="526.0"/><use href="#d" x="587.3" y="535.0"/><use href="#d" x="666.8" y="481.8"/><use href="#d" x="668.7" y="479.3"/><use href="#d" x="610.1" y="538.8"/><use href="#d" x="579.8" y="566.5"/><use href="#d" x="594.0" y="577.6"/><use href="#d" x="666.4" y="475.8"/><use href="#d" x="604.0" y="588.7"/><use href="#d" x="653.4" y="481.3"/><use href="#d" x="595.6" y="547.6"/><use href="#d" x="622.4" y="527.3"/><use href="#d" x="585.4" y="548.2"/><use href="#d" x="645.7" y="490.2"/><use href="#d" x="655.8" y="489.7"/><use href="#d" x="577.1" y="555.4"/><use href="#d" x="608.3" y="543.8"/><use href="#d" x="601.2" y="547.0"/><use href="#d" x="662.7" y="476.8"/><use href="#d" x="590.5" y="552.6"/><use href="#d" x="627.9" y="503.3"/><use href="#d" x="624.3" y="518.0"/><use href="#d" x="597.8" y="541.1"/><use href="#d" x="606.2" y="523.8"/><use href="#d" x="669.1" y="527.0"/><use href="#d" x="579.6" y="551.0"/><use href="#d" x="615.9" y="514.0"/><use href="#d" x="653.6" y="488.2"/><use href="#d" x="653.8" y="479.0"/><use href="#d" x="627.6" y="522.7"/><use href="#d" x="623.0" y="525.8"/><use href="#d" x="596.4" y="588.7"/><use href="#d" x="607.2" y="553.5"/><use href="#d" x="608.5" y="541.1"/><use href="#d" x="589.8" y="545.3"/><use href="#d" x="630.9" y="538.8"/><use href="#d" x="624.3" y="508.3"/><use href="#d" x="665.9" y="482.8"/><use href="#d" x="633.6" y="555.4"/><use href="#d" x="602.5" y="558.7"/><use href="#d" x="661.3" y="487.3"/><use href="#d" x="629.6" y="503.1"/><use href="#d" x="650.0" y="500.6"/><use href="#d" x="645.9" y="482.8"/><use href="#d" x="643.8" y="480.1"/><use href="#d" x="590.1" y="552.6"/><use href="#d" x="574.0" y="574.0"/><use href="#d" x="602.3" y="542.8"/><use href="#d" x="623.3" y="571.1"/><use href="#d" x="613.3" y="548.2"/><use href="#d" x="591.5" y="556.4"/><use href="#d" x="618.6" y="521.1"/><use href="#d" x="600.5" y="508.1"/><use href="#d" x="589.6" y="568.6"/><use href="#d" x="584.0" y="555.4"/><use href="#d" x="590.9" y="538.4"/><use href="#d" x="618.4" y="497.2"/><use href="#d" x="594.3" y="536.2"/><use href="#d" x="580.2" y="599.8"/><use href="#d" x="593.1" y="582.2"/><use href="#d" x="606.9" y="506.3"/><use href="#d" x="622.8" y="515.7"/><use href="#d" x="576.8" y="599.8"/><use href="#d" x="649.6" y="490.1"/><use href="#d" x="636.1" y="499.6"/><use href="#d" x="675.1" y="463.5"/><use href="#d" x="626.1" y="515.8"/><use href="#d" x="596.2" y="561.4"/><use href="#d" x="596.5" y="550.3"/><use href="#d" x="640.9" y="485.7"/><use href="#d" x="591.3" y="546.4"/><use href="#d" x="598.2" y="564.6"/><use href="#d" x="600.2" y="550.3"/><use href="#d" x="634.2" y="513.6"/><use href="#d" x="610.4" y="535.0"/><use href="#d" x="681.5" y="459.5"/><use href="#d" x="591.4" y="534.5"/><use href="#d" x="663.6" y="474.3"/><use href="#d" x="616.0" y="508.4"/><use href="#d" x="615.5" y="541.9"/><use href="#d" x="616.0" y="526.8"/><use href="#d" x="603.7" y="557.5"/><use href="#d" x="602.8" y="560.0"/><use href="#d" x="661.5" y="477.4"/><use href="#d" x="626.3" y="530.8"/><use href="#d" x="593.9" y="556.4"/><use href="#d" x="601.8" y="561.4"/><use href="#d" x="646.0" y="485.4"/><use href="#d" x="656.8" y="494.4"/><use href="#d" x="652.7" y="482.3"/><use href="#d" x="626.5" y="533.7"/><use href="#d" x="646.4" y="490.2"/><use href="#d" x="589.9" y="555.4"/><use href="#d" x="628.0" y="502.0"/><use href="#d" x="631.0" y="501.3"/><use href="#d" x="606.1" y="571.1"/><use href="#d" x="629.0" y="526.2"/><use href="#d" x="596.6" y="568.6"/><use href="#d" x="597.7" y="533.7"/><use href="#d" x="667.3" y="471.8"/><use href="#d" x="647.3" y="504.2"/><use href="#d" x="616.2" y="534.5"/><use href="#d" x="597.0" y="562.9"/><use href="#d" x="603.4" y="549.6"/><use href="#d" x="574.6" y="557.5"/><use href="#d" x="651.7" y="479.3"/><use href="#d" x="643.2" y="479.1"/><use href="#d" x="601.3" y="536.8"/><use href="#d" x="605.1" y="531.0"/><use href="#d" x="586.8" y="564.6"/><use href="#d" x="593.9" y="542.8"/><use href="#d" x="626.2" y="515.1"/><use href="#d" x="580.6" y="568.6"/><use href="#d" x="602.7" y="525.7"/><use href="#d" x="666.1" y="467.2"/><use href="#d" x="615.3" y="541.1"/><use href="#d" x="586.8" y="574.0"/><use href="#d" x="592.0" y="568.6"/><use href="#d" x="600.2" y="520.2"/><use href="#d" x="585.2" y="547.0"/><use href="#d" x="644.0" y="483.1"/><use href="#d" x="604.4" y="543.8"/><use href="#d" x="606.6" y="538.8"/><use href="#d" x="613.8" y="535.0"/><use href="#d" x="628.1" y="513.2"/><use href="#d" x="628.6" y="512.2"/><use href="#d" x="622.1" y="510.1"/><use href="#d" x="662.3" y="471.0"/><use href="#d" x="596.6" y="552.6"/><use href="#d" x="639.3" y="493.5"/><use href="#d" x="630.7" y="511.8"/><use href="#d" x="604.8" y="574.0"/><use href="#d" x="680.0" y="458.7"/><use href="#d" x="588.6" y="541.1"/><use href="#d" x="636.0" y="505.1"/><use href="#d" x="603.2" y="551.8"/><use href="#d" x="587.3" y="562.9"/><use href="#d" x="599.8" y="538.1"/><use href="#d" x="589.3" y="549.6"/><use href="#d" x="616.2" y="522.7"/><use href="#d" x="590.3" y="562.9"/><use href="#d" x="577.0" y="566.5"/><use href="#d" x="666.9" y="472.6"/><use href="#d" x="612.6" y="556.4"/><use href="#d" x="671.1" y="465.3"/><use href="#d" x="650.5" y="491.9"/><use href="#d" x="589.0" y="557.5"/><use href="#d" x="648.4" y="503.0"/><use href="#d" x="660.9" y="482.4"/><use href="#d" x="624.7" y="505.0"/><use href="#d" x="580.4" y="553.5"/><use href="#d" x="578.0" y="530.0"/><use href="#d" x="600.3" y="545.3"/><use href="#d" x="611.9" y="538.4"/><use href="#d" x="665.8" y="485.1"/><use href="#d" x="665.6" y="487.4"/><use href="#d" x="581.3" y="552.6"/><use href="#d" x="613.4" y="533.4"/><use href="#d" x="639.8" y="497.3"/><use href="#d" x="638.7" y="496.8"/><use href="#d" x="600.7" y="548.2"/><use href="#d" x="597.9" y="588.7"/><use href="#d" x="605.6" y="526.5"/><use href="#d" x="608.1" y="548.2"/><use href="#d" x="575.9" y="561.4"/><use href="#d" x="608.1" y="531.7"/><use href="#d" x="665.4" y="486.3"/><use href="#d" x="621.5" y="549.6"/><use href="#d" x="635.9" y="488.4"/><use href="#d" x="609.8" y="531.5"/><use href="#d" x="606.6" y="522.0"/><use href="#d" x="606.0" y="568.6"/><use href="#d" x="599.9" y="519.4"/><use href="#d" x="617.5" y="533.7"/><use href="#d" x="664.7" y="475.4"/><use href="#d" x="587.9" y="555.4"/><use href="#d" x="612.3" y="574.0"/><use href="#d" x="605.3" y="537.8"/><use href="#d" x="635.0" y="505.3"/><use href="#d" x="583.2" y="566.5"/><use href="#d" x="661.0" y="482.1"/><use href="#d" x="634.6" y="497.5"/><use href="#d" x="647.9" y="485.7"/><use href="#d" x="599.1" y="534.2"/><use href="#d" x="656.3" y="474.6"/><use href="#d" x="652.0" y="489.3"/><use href="#d" x="623.9" y="523.2"/><use href="#d" x="668.2" y="470.9"/><use href="#d" x="638.4" y="500.5"/><use href="#d" x="610.7" y="574.0"/><use href="#d" x="618.0" y="520.2"/><use href="#d" x="595.5" y="541.9"/><use href="#d" x="634.4" y="496.7"/><use href="#d" x="611.7" y="538.4"/><use href="#d" x="593.4" y="548.9"/><use href="#d" x="584.9" y="599.8"/><use href="#d" x="634.7" y="496.2"/><use href="#d" x="608.8" y="526.3"/><use href="#d" x="655.5" y="483.5"/><use href="#d" x="605.3" y="547.0"/><use href="#d" x="582.1" y="546.4"/><use href="#d" x="619.9" y="530.4"/><use href="#d" x="636.8" y="512.3"/><use href="#d" x="594.3" y="588.7"/><use href="#d" x="629.8" y="463.3"/><use href="#d" x="579.6" y="556.4"/><use href="#d" x="594.8" y="544.8"/><use href="#d" x="598.8" y="532.4"/><use href="#d" x="594.4" y="550.3"/><use href="#d" x="619.1" y="515.5"/><use href="#d" x="581.3" y="526.8"/><use href="#d" x="659.0" y="479.5"/><use href="#d" x="607.8" y="547.6"/><use href="#d" x="578.7" y="568.6"/><use href="#d" x="593.1" y="557.5"/><use href="#d" x="562.3" y="566.5"/><use href="#d" x="629.4" y="499.1"/><use href="#d" x="578.3" y="557.5"/><use href="#d" x="644.1" y="498.4"/><use href="#d" x="612.8" y="536.5"/><use href="#d" x="614.9" y="528.0"/><use href="#d" x="631.0" y="501.4"/><use href="#d" x="621.6" y="507.5"/><use href="#d" x="614.7" y="529.6"/><use href="#d" x="672.3" y="469.9"/><use href="#d" x="618.1" y="519.6"/><use href="#d" x="601.4" y="523.6"/><use href="#d" x="586.9" y="571.1"/><use href="#d" x="670.0" y="477.3"/><use href="#d" x="663.7" y="469.2"/><use href="#d" x="670.8" y="462.0"/><use href="#d" x="590.0" y="537.8"/><use href="#d" x="622.0" y="510.5"/><use href="#d" x="598.0" y="546.4"/><use href="#d" x="591.8" y="558.7"/><use href="#d" x="666.2" y="470.0"/><use href="#d" x="633.1" y="509.7"/><use href="#d" x="590.7" y="548.2"/><use href="#d" x="589.2" y="536.8"/><use href="#d" x="637.7" y="514.7"/><use href="#d" x="591.7" y="599.8"/><use href="#d" x="614.5" y="527.2"/><use href="#d" x="598.4" y="551.0"/><use href="#d" x="588.6" y="539.2"/><use href="#d" x="614.8" y="528.8"/><use href="#d" x="598.5" y="534.7"/><use href="#d" x="664.5" y="464.8"/><use href="#d" x="585.0" y="541.9"/><use href="#d" x="581.2" y="558.7"/><use href="#d" x="607.8" y="533.7"/><use href="#d" x="626.9" y="509.0"/><use href="#d" x="581.4" y="547.6"/><use href="#d" x="585.7" y="564.6"/><use href="#d" x="597.1" y="577.6"/><use href="#d" x="674.2" y="469.4"/><use href="#d" x="619.2" y="510.9"/><use href="#d" x="572.5" y="560.0"/><use href="#d" x="625.4" y="516.1"/><use href="#d" x="681.6" y="467.3"/><use href="#d" x="612.7" y="541.9"/><use href="#d" x="647.5" y="489.9"/><use href="#d" x="595.3" y="564.6"/><use href="#d" x="605.5" y="525.5"/><use href="#d" x="631.7" y="516.2"/><use href="#d" x="606.6" y="532.4"/><use href="#d" x="615.3" y="518.1"/><use href="#d" x="638.1" y="497.6"/><use href="#d" x="602.5" y="538.4"/><use href="#d" x="561.4" y="571.1"/><use href="#d" x="643.5" y="493.4"/><use href="#d" x="592.5" y="551.0"/><use href="#d" x="632.0" y="499.5"/><use href="#d" x="601.2" y="527.2"/><use href="#d" x="614.4" y="514.2"/><use href="#d" x="599.6" y="574.0"/><use href="#d" x="580.6" y="599.8"/><use href="#d" x="597.5" y="547.0"/><use href="#d" x="628.4" y="506.1"/><use href="#d" x="675.4" y="478.6"/><use href="#d" x="597.4" y="560.0"/><use href="#d" x="604.8" y="528.6"/><use href="#d" x="593.5" y="545.3"/><use href="#d" x="663.9" y="477.8"/><use href="#d" x="603.7" y="539.2"/><use href="#d" x="613.3" y="512.3"/><use href="#d" x="673.2" y="463.6"/><use href="#d" x="587.2" y="555.4"/><use href="#d" x="581.0" y="571.1"/><use href="#d" x="615.5" y="523.9"/><use href="#d" x="669.6" y="477.6"/><use href="#d" x="593.6" y="549.6"/><use href="#d" x="656.3" y="489.0"/><use href="#d" x="638.6" y="491.3"/><use href="#d" x="613.9" y="546.4"/><use href="#d" x="616.6" y="510.0"/><use href="#d" x="650.7" y="505.8"/><use href="#d" x="664.8" y="478.5"/><use href="#d" x="608.9" y="574.0"/><use href="#d" x="621.1" y="504.3"/><use href="#d" x="653.1" y="483.9"/><use href="#d" x="606.8" y="534.7"/><use href="#d" x="606.3" y="532.7"/><use href="#d" x="581.6" y="547.6"/><use href="#d" x="610.0" y="524.6"/><use href="#d" x="651.0" y="488.1"/><use href="#d" x="588.0" y="541.1"/><use href="#d" x="582.5" y="577.6"/><use href="#d" x="604.9" y="574.0"/><use href="#d" x="667.4" y="479.3"/><use href="#d" x="591.0" y="552.6"/><use href="#d" x="603.2" y="529.2"/><use href="#d" x="600.6" y="531.5"/><use href="#d" x="641.3" y="502.7"/><use href="#d" x="670.2" y="460.9"/><use href="#d" x="588.1" y="541.1"/><use href="#d" x="583.9" y="535.9"/><use href="#d" x="663.5" y="477.9"/><use href="#d" x="655.7" y="475.5"/><use href="#d" x="583.6" y="554.4"/><use href="#d" x="613.1" y="523.2"/><use href="#d" x="596.8" y="535.6"/><use href="#d" x="664.4" y="478.0"/><use href="#d" x="619.8" y="523.2"/><use href="#d" x="609.4" y="512.7"/><use href="#d" x="630.5" y="518.0"/><use href="#d" x="639.4" y="470.3"/><use href="#d" x="649.2" y="480.5"/><use href="#d" x="583.1" y="538.4"/><use href="#d" x="630.7" y="532.9"/><use href="#d" x="618.7" y="531.3"/><use href="#d" x="582.8" y="542.8"/><use href="#d" x="588.8" y="599.8"/><use href="#d" x="615.0" y="525.2"/><use href="#d" x="588.3" y="558.7"/><use href="#d" x="591.8" y="562.9"/><use href="#d" x="633.2" y="512.2"/><use href="#d" x="593.0" y="574.0"/><use href="#d" x="629.8" y="526.2"/><use href="#d" x="575.8" y="545.3"/><use href="#d" x="607.1" y="536.2"/><use href="#d" x="578.6" y="541.1"/><use href="#d" x="631.7" y="498.5"/><use href="#d" x="604.1" y="542.4"/><use href="#d" x="582.7" y="555.4"/><use href="#d" x="660.4" y="482.5"/><use href="#d" x="635.3" y="505.2"/><use href="#d" x="609.1" y="530.6"/><use href="#d" x="611.6" y="524.9"/><use href="#d" x="583.4" y="549.6"/><use href="#d" x="602.4" y="536.5"/><use href="#d" x="649.8" y="501.7"/><use href="#d" x="667.8" y="470.6"/><use href="#d" x="668.5" y="472.6"/><use href="#d" x="594.9" y="564.6"/><use href="#d" x="672.1" y="471.6"/><use href="#d" x="640.4" y="497.7"/><use href="#d" x="633.0" y="515.5"/><use href="#d" x="581.9" y="551.8"/><use href="#d" x="570.5" y="558.7"/><use href="#d" x="602.5" y="529.8"/><use href="#d" x="621.0" y="568.6"/><use href="#d" x="647.5" y="490.4"/><use href="#d" x="603.9" y="588.7"/><use href="#d" x="608.2" y="532.7"/><use href="#d" x="588.9" y="549.6"/><use href="#d" x="592.2" y="547.6"/><use href="#d" x="617.2" y="523.2"/><use href="#d" x="630.4" y="477.0"/><use href="#d" x="597.2" y="588.7"/><use href="#d" x="602.7" y="582.2"/><use href="#d" x="580.2" y="551.8"/><use href="#d" x="586.9" y="582.2"/><use href="#d" x="591.9" y="562.9"/><use href="#d" x="620.2" y="518.1"/><use href="#d" x="650.0" y="486.4"/><use href="#d" x="651.6" y="483.7"/><use href="#d" x="609.8" y="537.1"/><use href="#d" x="646.1" y="496.8"/><use href="#d" x="652.4" y="497.8"/><use href="#d" x="669.2" y="483.9"/><use href="#d" x="639.6" y="515.9"/><use href="#d" x="625.3" y="507.9"/><use href="#d" x="660.2" y="480.9"/><use href="#d" x="575.4" y="571.1"/><use href="#d" x="584.1" y="539.5"/><use href="#d" x="650.6" y="489.5"/><use href="#d" x="639.1" y="509.0"/><use href="#d" x="593.2" y="520.3"/><use href="#d" x="602.1" y="543.8"/><use href="#d" x="600.3" y="566.5"/><use href="#d" x="598.7" y="574.0"/><use href="#d" x="585.3" y="521.6"/><use href="#d" x="622.6" y="511.4"/><use href="#d" x="599.4" y="538.4"/><use href="#d" x="592.8" y="538.8"/><use href="#d" x="631.3" y="511.2"/><use href="#d" x="592.9" y="547.6"/><use href="#d" x="675.0" y="465.3"/><use href="#d" x="600.4" y="562.9"/><use href="#d" x="608.8" y="534.7"/><use href="#d" x="611.4" y="533.9"/><use href="#d" x="671.8" y="473.2"/><use href="#d" x="587.6" y="558.7"/><use href="#d" x="646.8" y="503.4"/><use href="#d" x="600.0" y="535.3"/><use href="#d" x="627.7" y="510.0"/><use href="#d" x="619.4" y="539.5"/><use href="#d" x="582.5" y="560.0"/><use href="#d" x="589.1" y="550.3"/><use href="#d" x="582.2" y="588.7"/><use href="#d" x="624.9" y="511.8"/><use href="#d" x="574.0" y="566.5"/><use href="#d" x="650.2" y="489.8"/><use href="#d" x="612.7" y="537.4"/><use href="#d" x="654.7" y="484.4"/><use href="#d" x="594.6" y="523.3"/><use href="#d" x="601.0" y="524.0"/><use href="#d" x="618.3" y="521.8"/><use href="#d" x="587.1" y="577.6"/><use href="#d" x="619.5" y="518.7"/><use href="#d" x="619.6" y="541.1"/><use href="#d" x="578.6" y="558.7"/><use href="#d" x="595.9" y="538.8"/><use href="#d" x="610.5" y="530.0"/><use href="#d" x="625.2" y="526.2"/><use href="#d" x="584.1" y="568.6"/><use href="#d" x="648.1" y="505.4"/><use href="#d" x="671.5" y="458.2"/><use href="#d" x="586.7" y="544.8"/><use href="#d" x="661.7" y="469.8"/><use href="#d" x="639.5" y="503.3"/><use href="#d" x="605.9" y="558.7"/><use href="#d" x="611.9" y="544.8"/><use href="#d" x="614.0" y="523.1"/><use href="#d" x="669.7" y="479.2"/><use href="#d" x="624.0" y="523.9"/><use href="#d" x="642.2" y="489.0"/><use href="#d" x="613.1" y="564.6"/><use href="#d" x="590.2" y="552.6"/><use href="#d" x="621.2" y="511.3"/><use href="#d" x="610.4" y="529.0"/><use href="#d" x="631.9" y="504.4"/><use href="#d" x="645.8" y="504.2"/><use href="#d" x="660.8" y="477.4"/><use href="#d" x="650.9" y="487.5"/><use href="#d" x="604.3" y="532.4"/><use href="#d" x="637.7" y="499.5"/><use href="#d" x="619.7" y="519.7"/><use href="#d" x="642.9" y="493.1"/><use href="#d" x="630.5" y="516.5"/><use href="#d" x="636.6" y="500.8"/><use href="#d" x="585.5" y="561.4"/><use href="#d" x="601.8" y="537.8"/><use href="#d" x="599.8" y="545.3"/><use href="#d" x="637.0" y="509.0"/><use href="#d" x="581.7" y="561.4"/><use href="#d" x="627.2" y="518.2"/><use href="#d" x="662.4" y="472.5"/><use href="#d" x="594.7" y="553.5"/><use href="#d" x="647.2" y="490.2"/><use href="#d" x="660.8" y="475.8"/><use href="#d" x="591.2" y="526.8"/><use href="#d" x="583.8" y="544.3"/><use href="#d" x="680.6" y="464.9"/><use href="#d" x="627.1" y="523.8"/><use href="#d" x="656.7" y="482.7"/><use href="#d" x="631.4" y="504.8"/><use href="#d" x="678.7" y="465.0"/><use href="#d" x="617.3" y="514.0"/><use href="#d" x="587.4" y="599.8"/><use href="#d" x="647.0" y="498.6"/><use href="#d" x="617.6" y="517.0"/><use href="#d" x="631.1" y="501.4"/><use href="#d" x="594.1" y="545.8"/><use href="#d" x="579.0" y="588.7"/><use href="#d" x="636.7" y="499.5"/><use href="#d" x="595.0" y="547.0"/><use href="#d" x="640.1" y="488.0"/><use href="#d" x="671.8" y="465.8"/><use href="#d" x="598.9" y="549.6"/><use href="#d" x="579.6" y="588.7"/><use href="#d" x="623.3" y="526.7"/><use href="#d" x="619.0" y="511.0"/><use href="#d" x="583.0" y="556.4"/><use href="#d" x="667.7" y="483.3"/><use href="#d" x="605.0" y="522.7"/><use href="#d" x="626.4" y="510.3"/><use href="#d" x="661.8" y="481.2"/><use href="#d" x="633.4" y="505.3"/><use href="#d" x="610.6" y="582.2"/><use href="#d" x="614.2" y="568.6"/><use href="#d" x="605.3" y="532.9"/><use href="#d" x="585.6" y="541.9"/><use href="#d" x="643.7" y="499.5"/><use href="#d" x="589.5" y="549.6"/><use href="#d" x="600.9" y="521.6"/><use href="#d" x="600.1" y="543.3"/><use href="#d" x="580.1" y="562.9"/><use href="#d" x="582.6" y="553.5"/><use href="#d" x="654.4" y="478.7"/><use href="#d" x="596.0" y="552.6"/><use href="#d" x="608.7" y="533.9"/><use href="#d" x="599.2" y="547.6"/><use href="#d" x="593.4" y="529.4"/><use href="#d" x="585.1" y="582.2"/><use href="#d" x="575.4" y="548.2"/><use href="#d" x="583.3" y="568.6"/><use href="#d" x="624.6" y="522.4"/><use href="#d" x="645.7" y="492.0"/><use href="#d" x="630.1" y="498.7"/><use href="#d" x="631.8" y="521.0"/><use href="#d" x="655.4" y="482.2"/><use href="#d" x="597.0" y="546.4"/><use href="#d" x="580.3" y="558.7"/><use href="#d" x="600.7" y="525.4"/><use href="#d" x="637.9" y="506.7"/><use href="#d" x="673.4" y="464.0"/><use href="#d" x="583.7" y="564.6"/><use href="#d" x="676.3" y="467.7"/><use href="#d" x="680.9" y="469.7"/><use href="#d" x="624.8" y="502.3"/><use href="#d" x="574.7" y="533.9"/><use href="#d" x="639.8" y="499.6"/><use href="#d" x="646.4" y="490.8"/><use href="#d" x="597.2" y="523.1"/><use href="#d" x="590.4" y="555.4"/><use href="#d" x="655.2" y="489.4"/><use href="#d" x="580.0" y="599.8"/><use href="#d" x="598.6" y="530.8"/><use href="#d" x="637.5" y="494.1"/><use href="#d" x="669.3" y="477.0"/><use href="#d" x="563.9" y="574.0"/><use href="#d" x="620.8" y="513.8"/><use href="#d" x="622.8" y="518.2"/><use href="#d" x="625.0" y="509.4"/><use href="#d" x="583.3" y="545.8"/><use href="#d" x="584.5" y="557.5"/><use href="#d" x="639.1" y="500.5"/><use href="#d" x="659.6" y="482.8"/><use href="#d" x="578.4" y="568.6"/><use href="#d" x="621.8" y="574.0"/><use href="#d" x="622.6" y="519.0"/><use href="#d" x="642.1" y="484.1"/><use href="#d" x="648.0" y="479.7"/><use href="#d" x="594.9" y="551.0"/><use href="#d" x="607.4" y="558.7"/><use href="#d" x="614.6" y="530.6"/><use href="#d" x="641.8" y="490.4"/><use href="#d" x="635.7" y="493.1"/><use href="#d" x="611.4" y="533.4"/><use href="#d" x="598.2" y="582.2"/><use href="#d" x="582.9" y="541.1"/><use href="#d" x="633.7" y="502.7"/><use href="#d" x="616.5" y="523.3"/><use href="#d" x="658.5" y="491.8"/><use href="#d" x="622.2" y="512.0"/><use href="#d" x="607.6" y="549.6"/><use href="#d" x="615.6" y="523.9"/><use href="#d" x="624.5" y="514.2"/><use href="#d" x="633.5" y="510.0"/><use href="#d" x="632.4" y="515.3"/><use href="#d" x="622.0" y="516.8"/><use href="#d" x="626.3" y="508.6"/><use href="#d" x="590.6" y="531.5"/><use href="#d" x="659.1" y="482.3"/><use href="#d" x="612.5" y="537.8"/><use href="#d" x="609.7" y="511.6"/><use href="#d" x="618.9" y="511.0"/><use href="#d" x="682.6" y="461.3"/><use href="#d" x="617.0" y="525.2"/><use href="#d" x="543.6" y="568.6"/><use href="#d" x="609.7" y="530.2"/><use href="#d" x="607.5" y="530.0"/><use href="#d" x="627.3" y="518.9"/><use href="#d" x="631.4" y="506.6"/><use href="#d" x="594.7" y="588.7"/><use href="#d" x="634.0" y="519.4"/><use href="#d" x="585.1" y="546.4"/><use href="#d" x="644.5" y="501.3"/><use href="#d" x="653.3" y="488.5"/><use href="#d" x="588.6" y="562.9"/><use href="#d" x="608.9" y="530.8"/><use href="#d" x="657.6" y="493.3"/><use href="#d" x="614.7" y="528.6"/><use href="#d" x="663.0" y="471.7"/><use href="#d" x="590.4" y="554.4"/><use href="#d" x="601.1" y="530.0"/><use href="#d" x="606.3" y="529.8"/><use href="#d" x="645.2" y="489.6"/><use href="#d" x="623.7" y="522.8"/><use href="#d" x="621.8" y="518.7"/><use href="#d" x="598.3" y="551.8"/><use href="#d" x="594.5" y="552.6"/></g><line x1="543.00" y1="600.50" x2="682.20" y2="460.60" stroke="#2a2a2a" stroke-width="1.2"/><rect x="534.4" y="458.0" width="148.4" height="151.3" fill="none" stroke="#7a7a7a" stroke-width="0.8"/><line x1="531.20" y1="599.80" x2="534.40" y2="599.80" stroke="#333" stroke-width="0.75"/><text x="529.8" y="602.1" font-size="7" fill="#222" text-anchor="end">10<tspan font-size="4.6" dy="-2.6">0</tspan></text><line x1="532.60" y1="588.69" x2="534.40" y2="588.69" stroke="#333" stroke-width="0.55"/><line x1="532.60" y1="582.19" x2="534.40" y2="582.19" stroke="#333" stroke-width="0.55"/><line x1="532.60" y1="577.58" x2="534.40" y2="577.58" stroke="#333" stroke-width="0.55"/><line x1="532.60" y1="574.01" x2="534.40" y2="574.01" stroke="#333" stroke-width="0.55"/><line x1="532.60" y1="571.09" x2="534.40" y2="571.09" stroke="#333" stroke-width="0.55"/><line x1="532.60" y1="568.62" x2="534.40" y2="568.62" stroke="#333" stroke-width="0.55"/><line x1="532.60" y1="566.48" x2="534.40" y2="566.48" stroke="#333" stroke-width="0.55"/><line x1="532.60" y1="564.59" x2="534.40" y2="564.59" stroke="#333" stroke-width="0.55"/><line x1="531.20" y1="562.90" x2="534.40" y2="562.90" stroke="#333" stroke-width="0.75"/><text x="529.8" y="565.2" font-size="7" fill="#222" text-anchor="end">10<tspan font-size="4.6" dy="-2.6">1</tspan></text><line x1="532.60" y1="551.79" x2="534.40" y2="551.79" stroke="#333" stroke-width="0.55"/><line x1="532.60" y1="545.29" x2="534.40" y2="545.29" stroke="#333" stroke-width="0.55"/><line x1="532.60" y1="540.68" x2="534.40" y2="540.68" stroke="#333" stroke-width="0.55"/><line x1="532.60" y1="537.11" x2="534.40" y2="537.11" stroke="#333" stroke-width="0.55"/><line x1="532.60" y1="534.19" x2="534.40" y2="534.19" stroke="#333" stroke-width="0.55"/><line x1="532.60" y1="531.72" x2="534.40" y2="531.72" stroke="#333" stroke-width="0.55"/><line x1="532.60" y1="529.58" x2="534.40" y2="529.58" stroke="#333" stroke-width="0.55"/><line x1="532.60" y1="527.69" x2="534.40" y2="527.69" stroke="#333" stroke-width="0.55"/><line x1="531.20" y1="526.00" x2="534.40" y2="526.00" stroke="#333" stroke-width="0.75"/><text x="529.8" y="528.3" font-size="7" fill="#222" text-anchor="end">10<tspan font-size="4.6" dy="-2.6">2</tspan></text><line x1="532.60" y1="514.89" x2="534.40" y2="514.89" stroke="#333" stroke-width="0.55"/><line x1="532.60" y1="508.39" x2="534.40" y2="508.39" stroke="#333" stroke-width="0.55"/><line x1="532.60" y1="503.78" x2="534.40" y2="503.78" stroke="#333" stroke-width="0.55"/><line x1="532.60" y1="500.21" x2="534.40" y2="500.21" stroke="#333" stroke-width="0.55"/><line x1="532.60" y1="497.29" x2="534.40" y2="497.29" stroke="#333" stroke-width="0.55"/><line x1="532.60" y1="494.82" x2="534.40" y2="494.82" stroke="#333" stroke-width="0.55"/><line x1="532.60" y1="492.68" x2="534.40" y2="492.68" stroke="#333" stroke-width="0.55"/><line x1="532.60" y1="490.79" x2="534.40" y2="490.79" stroke="#333" stroke-width="0.55"/><line x1="531.20" y1="489.10" x2="534.40" y2="489.10" stroke="#333" stroke-width="0.75"/><text x="529.8" y="491.4" font-size="7" fill="#222" text-anchor="end">10<tspan font-size="4.6" dy="-2.6">3</tspan></text><line x1="532.60" y1="477.99" x2="534.40" y2="477.99" stroke="#333" stroke-width="0.55"/><line x1="532.60" y1="471.49" x2="534.40" y2="471.49" stroke="#333" stroke-width="0.55"/><line x1="532.60" y1="466.88" x2="534.40" y2="466.88" stroke="#333" stroke-width="0.55"/><line x1="532.60" y1="463.31" x2="534.40" y2="463.31" stroke="#333" stroke-width="0.55"/><line x1="532.60" y1="460.39" x2="534.40" y2="460.39" stroke="#333" stroke-width="0.55"/><line x1="532.60" y1="457.92" x2="534.40" y2="457.92" stroke="#333" stroke-width="0.55"/><line x1="542.90" y1="609.30" x2="542.90" y2="612.50" stroke="#333" stroke-width="0.75"/><text x="543.3" y="618.8" font-size="7.0" fill="#222" text-anchor="middle">10<tspan font-size="4.6" dy="-2.6">0</tspan></text><line x1="553.86" y1="609.30" x2="553.86" y2="611.10" stroke="#333" stroke-width="0.55"/><line x1="560.27" y1="609.30" x2="560.27" y2="611.10" stroke="#333" stroke-width="0.55"/><line x1="564.81" y1="609.30" x2="564.81" y2="611.10" stroke="#333" stroke-width="0.55"/><line x1="568.34" y1="609.30" x2="568.34" y2="611.10" stroke="#333" stroke-width="0.55"/><line x1="571.22" y1="609.30" x2="571.22" y2="611.10" stroke="#333" stroke-width="0.55"/><line x1="573.66" y1="609.30" x2="573.66" y2="611.10" stroke="#333" stroke-width="0.55"/><line x1="575.77" y1="609.30" x2="575.77" y2="611.10" stroke="#333" stroke-width="0.55"/><line x1="577.63" y1="609.30" x2="577.63" y2="611.10" stroke="#333" stroke-width="0.55"/><line x1="579.30" y1="609.30" x2="579.30" y2="612.50" stroke="#333" stroke-width="0.75"/><text x="579.7" y="618.8" font-size="7.0" fill="#222" text-anchor="middle">10<tspan font-size="4.6" dy="-2.6">1</tspan></text><line x1="590.26" y1="609.30" x2="590.26" y2="611.10" stroke="#333" stroke-width="0.55"/><line x1="596.67" y1="609.30" x2="596.67" y2="611.10" stroke="#333" stroke-width="0.55"/><line x1="601.21" y1="609.30" x2="601.21" y2="611.10" stroke="#333" stroke-width="0.55"/><line x1="604.74" y1="609.30" x2="604.74" y2="611.10" stroke="#333" stroke-width="0.55"/><line x1="607.62" y1="609.30" x2="607.62" y2="611.10" stroke="#333" stroke-width="0.55"/><line x1="610.06" y1="609.30" x2="610.06" y2="611.10" stroke="#333" stroke-width="0.55"/><line x1="612.17" y1="609.30" x2="612.17" y2="611.10" stroke="#333" stroke-width="0.55"/><line x1="614.03" y1="609.30" x2="614.03" y2="611.10" stroke="#333" stroke-width="0.55"/><line x1="615.70" y1="609.30" x2="615.70" y2="612.50" stroke="#333" stroke-width="0.75"/><text x="616.1" y="618.8" font-size="7.0" fill="#222" text-anchor="middle">10<tspan font-size="4.6" dy="-2.6">2</tspan></text><line x1="626.66" y1="609.30" x2="626.66" y2="611.10" stroke="#333" stroke-width="0.55"/><line x1="633.07" y1="609.30" x2="633.07" y2="611.10" stroke="#333" stroke-width="0.55"/><line x1="637.61" y1="609.30" x2="637.61" y2="611.10" stroke="#333" stroke-width="0.55"/><line x1="641.14" y1="609.30" x2="641.14" y2="611.10" stroke="#333" stroke-width="0.55"/><line x1="644.02" y1="609.30" x2="644.02" y2="611.10" stroke="#333" stroke-width="0.55"/><line x1="646.46" y1="609.30" x2="646.46" y2="611.10" stroke="#333" stroke-width="0.55"/><line x1="648.57" y1="609.30" x2="648.57" y2="611.10" stroke="#333" stroke-width="0.55"/><line x1="650.43" y1="609.30" x2="650.43" y2="611.10" stroke="#333" stroke-width="0.55"/><line x1="652.10" y1="609.30" x2="652.10" y2="612.50" stroke="#333" stroke-width="0.75"/><text x="652.5" y="618.8" font-size="7.0" fill="#222" text-anchor="middle">10<tspan font-size="4.6" dy="-2.6">3</tspan></text><line x1="663.06" y1="609.30" x2="663.06" y2="611.10" stroke="#333" stroke-width="0.55"/><line x1="669.47" y1="609.30" x2="669.47" y2="611.10" stroke="#333" stroke-width="0.55"/><line x1="674.01" y1="609.30" x2="674.01" y2="611.10" stroke="#333" stroke-width="0.55"/><line x1="677.54" y1="609.30" x2="677.54" y2="611.10" stroke="#333" stroke-width="0.55"/><line x1="680.42" y1="609.30" x2="680.42" y2="611.10" stroke="#333" stroke-width="0.55"/><line x1="682.86" y1="609.30" x2="682.86" y2="611.10" stroke="#333" stroke-width="0.55"/><text x="515.7" y="534.1" font-size="9.2" fill="#222" text-anchor="middle" textLength="134.0" lengthAdjust="spacingAndGlyphs" transform="rotate(-90 515.7 534.1)">Predicted Tumor Volume (mm3)</text><text x="347.3" y="628.0" font-size="8.8" fill="#222" textLength="135.9" lengthAdjust="spacingAndGlyphs">Individual Tumor Volume (mm3)</text><text x="541.2" y="627.5" font-size="8.8" fill="#222" textLength="134.7" lengthAdjust="spacingAndGlyphs">Individual Tumor Volume (mm3)</text></g></svg></body></html>
